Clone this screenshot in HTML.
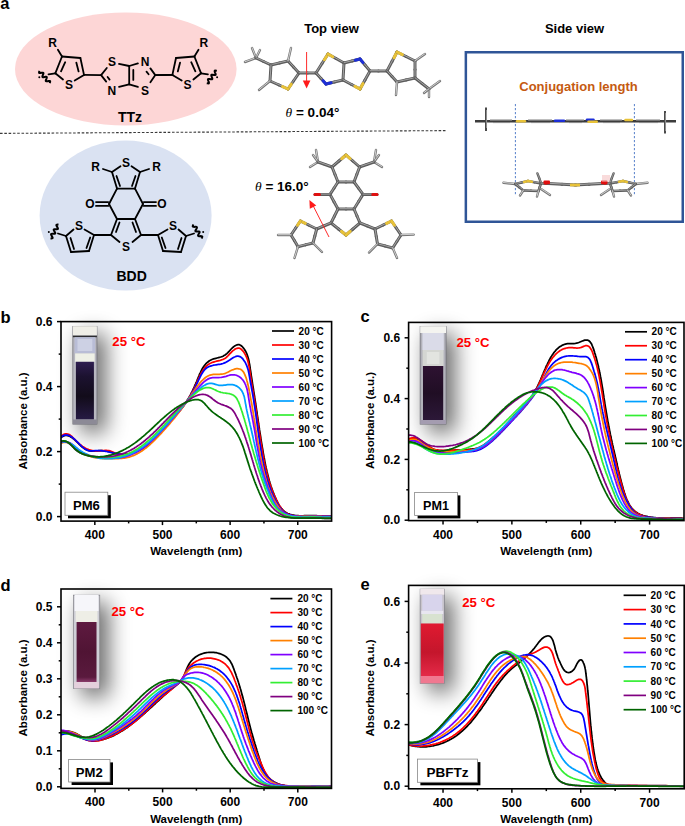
<!DOCTYPE html>
<html><head><meta charset="utf-8"><style>
html,body{margin:0;padding:0;background:#fff;}
svg{display:block;}
text{font-family:"Liberation Sans",sans-serif;font-weight:bold;}
</style></head><body>
<svg width="685" height="826" viewBox="0 0 685 826">
<defs>
<filter id="shad" filterUnits="userSpaceOnUse" x="0" y="280" width="685" height="546"><feGaussianBlur stdDeviation="11"/></filter>
<filter id="blur1" x="-20%" y="-20%" width="140%" height="140%"><feGaussianBlur stdDeviation="0.6"/></filter>
<linearGradient id="liqB" x1="0" y1="0" x2="0" y2="1"><stop offset="0" stop-color="#2e1e50"/><stop offset="0.25" stop-color="#1c1230"/><stop offset="0.6" stop-color="#120c1a"/><stop offset="1" stop-color="#261a44"/></linearGradient>
<linearGradient id="liqC" x1="0" y1="0" x2="0" y2="1"><stop offset="0" stop-color="#2e1232"/><stop offset="0.5" stop-color="#200e24"/><stop offset="1" stop-color="#2c1838"/></linearGradient>
<linearGradient id="liqD" x1="0" y1="0" x2="0" y2="1"><stop offset="0" stop-color="#5e1a40"/><stop offset="0.5" stop-color="#501434"/><stop offset="0.92" stop-color="#5a1a3e"/><stop offset="1" stop-color="#8a3a6a"/></linearGradient>
<linearGradient id="liqE" x1="0" y1="0" x2="0" y2="1"><stop offset="0" stop-color="#e01a30"/><stop offset="0.55" stop-color="#c4162c"/><stop offset="1" stop-color="#e42a48"/></linearGradient>
</defs>
<text x="0.30" y="8.90" font-size="16.50" text-anchor="start" fill="#000" font-weight="bold" font-family="Liberation Sans">a</text>
<ellipse cx="125.8" cy="69" rx="110.8" ry="56.6" fill="#fdd6d6"/>
<ellipse cx="125.6" cy="215.6" rx="86" ry="75" fill="#dae2f2"/>
<line x1="0" y1="133.4" x2="447" y2="130.6" stroke="#3a3a3a" stroke-width="1.1" stroke-dasharray="2.6,1.7"/>
<line x1="55.30" y1="73.30" x2="62.00" y2="56.50" stroke="#000" stroke-width="1.80" stroke-linecap="round"/>
<line x1="62.00" y1="56.50" x2="80.40" y2="58.00" stroke="#000" stroke-width="1.80" stroke-linecap="round"/>
<line x1="80.40" y1="58.00" x2="84.00" y2="74.90" stroke="#000" stroke-width="1.80" stroke-linecap="round"/>
<line x1="84.00" y1="74.90" x2="74.70" y2="80.50" stroke="#000" stroke-width="1.80" stroke-linecap="round"/>
<line x1="63.00" y1="79.50" x2="55.30" y2="73.30" stroke="#000" stroke-width="1.80" stroke-linecap="round"/>
<line x1="61.00" y1="71.30" x2="65.20" y2="62.20" stroke="#000" stroke-width="1.80" stroke-linecap="round"/>
<line x1="76.30" y1="62.60" x2="78.60" y2="71.40" stroke="#000" stroke-width="1.80" stroke-linecap="round"/>
<line x1="57.90" y1="49.80" x2="62.00" y2="56.50" stroke="#000" stroke-width="1.80" stroke-linecap="round"/>
<text x="52.60" y="46.62" font-size="12.00" text-anchor="middle" fill="#000" font-weight="bold" font-family="Liberation Sans">R</text>
<text x="68.90" y="88.92" font-size="12.00" text-anchor="middle" fill="#000" font-weight="bold" font-family="Liberation Sans">S</text>
<line x1="55.30" y1="73.30" x2="48.50" y2="74.40" stroke="#000" stroke-width="1.80" stroke-linecap="round"/>
<line x1="84.00" y1="74.90" x2="101.10" y2="75.10" stroke="#000" stroke-width="1.80" stroke-linecap="round"/>
<line x1="201.10" y1="73.30" x2="194.40" y2="56.50" stroke="#000" stroke-width="1.80" stroke-linecap="round"/>
<line x1="194.40" y1="56.50" x2="176.00" y2="58.00" stroke="#000" stroke-width="1.80" stroke-linecap="round"/>
<line x1="176.00" y1="58.00" x2="172.40" y2="74.90" stroke="#000" stroke-width="1.80" stroke-linecap="round"/>
<line x1="172.40" y1="74.90" x2="181.70" y2="80.50" stroke="#000" stroke-width="1.80" stroke-linecap="round"/>
<line x1="193.40" y1="79.50" x2="201.10" y2="73.30" stroke="#000" stroke-width="1.80" stroke-linecap="round"/>
<line x1="195.40" y1="71.30" x2="191.20" y2="62.20" stroke="#000" stroke-width="1.80" stroke-linecap="round"/>
<line x1="180.10" y1="62.60" x2="177.80" y2="71.40" stroke="#000" stroke-width="1.80" stroke-linecap="round"/>
<line x1="198.50" y1="49.80" x2="194.40" y2="56.50" stroke="#000" stroke-width="1.80" stroke-linecap="round"/>
<text x="203.80" y="46.62" font-size="12.00" text-anchor="middle" fill="#000" font-weight="bold" font-family="Liberation Sans">R</text>
<text x="187.50" y="88.92" font-size="12.00" text-anchor="middle" fill="#000" font-weight="bold" font-family="Liberation Sans">S</text>
<line x1="201.10" y1="73.30" x2="207.90" y2="74.40" stroke="#000" stroke-width="1.80" stroke-linecap="round"/>
<line x1="172.40" y1="74.90" x2="155.30" y2="75.10" stroke="#000" stroke-width="1.80" stroke-linecap="round"/>
<path d="M39.57,70.78 L39.25,71.55 L39.06,72.22 L39.09,72.71 L39.39,72.98 L39.94,73.05 L40.69,72.96 L41.52,72.80 L42.31,72.68 L42.94,72.68 L43.33,72.88 L43.44,73.31 L43.32,73.92 L43.03,74.67 L42.71,75.45 L42.46,76.16 L42.41,76.71 L42.62,77.06 L43.09,77.19 L43.78,77.15 L44.60,77.00 L45.42,76.85 L46.11,76.81 L46.58,76.94 L46.79,77.29 L46.74,77.84 L46.49,78.55 L46.17,79.33 L45.88,80.08 L45.76,80.69 L45.87,81.12 L46.26,81.32 L46.89,81.32 L47.68,81.20 L48.51,81.04 L49.26,80.95 L49.81,81.02 L50.11,81.29 L50.14,81.78 L49.95,82.45 L49.63,83.22" fill="none" stroke="#000" stroke-width="2.0"/>
<path d="M216.83,70.78 L216.02,70.64 L215.33,70.59 L214.85,70.72 L214.65,71.07 L214.70,71.63 L214.94,72.34 L215.27,73.12 L215.55,73.86 L215.68,74.48 L215.56,74.90 L215.17,75.10 L214.54,75.10 L213.76,74.98 L212.93,74.82 L212.18,74.73 L211.62,74.80 L211.33,75.07 L211.30,75.56 L211.49,76.23 L211.80,77.00 L212.11,77.77 L212.30,78.44 L212.27,78.93 L211.98,79.20 L211.42,79.27 L210.67,79.18 L209.84,79.02 L209.06,78.90 L208.43,78.90 L208.04,79.10 L207.92,79.52 L208.05,80.14 L208.33,80.88 L208.66,81.66 L208.90,82.37 L208.95,82.93 L208.75,83.28 L208.27,83.41 L207.58,83.36 L206.77,83.22" fill="none" stroke="#000" stroke-width="2.0"/>
<circle cx="39.3" cy="77.3" r="1"/>
<circle cx="217.1" cy="77.3" r="1"/>
<line x1="101.10" y1="75.10" x2="106.80" y2="68.00" stroke="#000" stroke-width="1.80" stroke-linecap="round"/>
<line x1="101.10" y1="75.10" x2="106.20" y2="81.60" stroke="#000" stroke-width="1.80" stroke-linecap="round"/>
<line x1="107.60" y1="77.00" x2="109.60" y2="79.60" stroke="#000" stroke-width="1.80" stroke-linecap="round"/>
<line x1="119.00" y1="63.90" x2="129.20" y2="66.00" stroke="#000" stroke-width="1.80" stroke-linecap="round"/>
<line x1="119.00" y1="86.90" x2="129.20" y2="84.30" stroke="#000" stroke-width="1.80" stroke-linecap="round"/>
<line x1="129.20" y1="66.00" x2="129.20" y2="84.30" stroke="#000" stroke-width="1.80" stroke-linecap="round"/>
<line x1="133.30" y1="70.00" x2="133.30" y2="79.90" stroke="#000" stroke-width="1.80" stroke-linecap="round"/>
<line x1="129.20" y1="66.00" x2="137.90" y2="63.40" stroke="#000" stroke-width="1.80" stroke-linecap="round"/>
<line x1="129.20" y1="84.30" x2="137.90" y2="86.90" stroke="#000" stroke-width="1.80" stroke-linecap="round"/>
<line x1="150.40" y1="68.40" x2="155.30" y2="75.10" stroke="#000" stroke-width="1.80" stroke-linecap="round"/>
<line x1="150.40" y1="82.20" x2="155.30" y2="75.10" stroke="#000" stroke-width="1.80" stroke-linecap="round"/>
<line x1="146.50" y1="71.60" x2="148.60" y2="74.20" stroke="#000" stroke-width="1.80" stroke-linecap="round"/>
<line x1="155.30" y1="75.10" x2="172.40" y2="74.90" stroke="#000" stroke-width="1.80" stroke-linecap="round"/>
<text x="111.90" y="66.22" font-size="12.00" text-anchor="middle" fill="#000" font-weight="bold" font-family="Liberation Sans">S</text>
<text x="111.90" y="94.52" font-size="12.00" text-anchor="middle" fill="#000" font-weight="bold" font-family="Liberation Sans">N</text>
<text x="145.10" y="65.92" font-size="12.00" text-anchor="middle" fill="#000" font-weight="bold" font-family="Liberation Sans">N</text>
<text x="145.10" y="94.52" font-size="12.00" text-anchor="middle" fill="#000" font-weight="bold" font-family="Liberation Sans">S</text>
<text x="130.00" y="121.80" font-size="14.00" text-anchor="middle" fill="#000" font-weight="bold" font-family="Liberation Sans">TTz</text>
<line x1="112.00" y1="172.00" x2="120.50" y2="166.20" stroke="#000" stroke-width="1.80" stroke-linecap="round"/>
<line x1="112.00" y1="172.00" x2="117.00" y2="188.60" stroke="#000" stroke-width="1.80" stroke-linecap="round"/>
<line x1="116.50" y1="176.00" x2="120.00" y2="186.00" stroke="#000" stroke-width="1.80" stroke-linecap="round"/>
<line x1="112.00" y1="172.00" x2="103.00" y2="169.00" stroke="#000" stroke-width="1.80" stroke-linecap="round"/>
<text x="95.50" y="171.32" font-size="12.00" text-anchor="middle" fill="#000" font-weight="bold" font-family="Liberation Sans">R</text>
<line x1="117.00" y1="188.60" x2="109.00" y2="204.00" stroke="#000" stroke-width="1.80" stroke-linecap="round"/>
<line x1="109.00" y1="204.00" x2="117.00" y2="219.00" stroke="#000" stroke-width="1.80" stroke-linecap="round"/>
<line x1="108.20" y1="202.10" x2="96.00" y2="202.10" stroke="#000" stroke-width="1.80" stroke-linecap="round"/>
<line x1="108.20" y1="205.90" x2="96.00" y2="205.90" stroke="#000" stroke-width="1.80" stroke-linecap="round"/>
<text x="90.00" y="208.32" font-size="12.00" text-anchor="middle" fill="#000" font-weight="bold" font-family="Liberation Sans">O</text>
<line x1="117.00" y1="219.00" x2="111.00" y2="235.00" stroke="#000" stroke-width="1.80" stroke-linecap="round"/>
<line x1="119.50" y1="222.50" x2="116.00" y2="232.00" stroke="#000" stroke-width="1.80" stroke-linecap="round"/>
<line x1="111.00" y1="235.00" x2="119.50" y2="242.00" stroke="#000" stroke-width="1.80" stroke-linecap="round"/>
<line x1="111.00" y1="235.00" x2="94.00" y2="235.00" stroke="#000" stroke-width="1.80" stroke-linecap="round"/>
<line x1="94.00" y1="235.00" x2="84.50" y2="229.50" stroke="#000" stroke-width="1.80" stroke-linecap="round"/>
<line x1="73.50" y1="229.50" x2="66.00" y2="236.00" stroke="#000" stroke-width="1.80" stroke-linecap="round"/>
<line x1="66.00" y1="236.00" x2="71.00" y2="252.00" stroke="#000" stroke-width="1.80" stroke-linecap="round"/>
<line x1="71.00" y1="252.00" x2="89.00" y2="251.00" stroke="#000" stroke-width="1.80" stroke-linecap="round"/>
<line x1="89.00" y1="251.00" x2="94.00" y2="235.00" stroke="#000" stroke-width="1.80" stroke-linecap="round"/>
<line x1="70.50" y1="238.00" x2="74.00" y2="249.00" stroke="#000" stroke-width="1.80" stroke-linecap="round"/>
<line x1="86.50" y1="248.00" x2="90.20" y2="237.50" stroke="#000" stroke-width="1.80" stroke-linecap="round"/>
<line x1="66.00" y1="236.00" x2="58.00" y2="233.50" stroke="#000" stroke-width="1.80" stroke-linecap="round"/>
<text x="79.00" y="230.32" font-size="12.00" text-anchor="middle" fill="#000" font-weight="bold" font-family="Liberation Sans">S</text>
<line x1="140.00" y1="172.00" x2="131.50" y2="166.20" stroke="#000" stroke-width="1.80" stroke-linecap="round"/>
<line x1="140.00" y1="172.00" x2="135.00" y2="188.60" stroke="#000" stroke-width="1.80" stroke-linecap="round"/>
<line x1="135.50" y1="176.00" x2="132.00" y2="186.00" stroke="#000" stroke-width="1.80" stroke-linecap="round"/>
<line x1="140.00" y1="172.00" x2="149.00" y2="169.00" stroke="#000" stroke-width="1.80" stroke-linecap="round"/>
<text x="156.50" y="171.32" font-size="12.00" text-anchor="middle" fill="#000" font-weight="bold" font-family="Liberation Sans">R</text>
<line x1="135.00" y1="188.60" x2="143.00" y2="204.00" stroke="#000" stroke-width="1.80" stroke-linecap="round"/>
<line x1="143.00" y1="204.00" x2="135.00" y2="219.00" stroke="#000" stroke-width="1.80" stroke-linecap="round"/>
<line x1="143.80" y1="202.10" x2="156.00" y2="202.10" stroke="#000" stroke-width="1.80" stroke-linecap="round"/>
<line x1="143.80" y1="205.90" x2="156.00" y2="205.90" stroke="#000" stroke-width="1.80" stroke-linecap="round"/>
<text x="162.00" y="208.32" font-size="12.00" text-anchor="middle" fill="#000" font-weight="bold" font-family="Liberation Sans">O</text>
<line x1="135.00" y1="219.00" x2="141.00" y2="235.00" stroke="#000" stroke-width="1.80" stroke-linecap="round"/>
<line x1="132.50" y1="222.50" x2="136.00" y2="232.00" stroke="#000" stroke-width="1.80" stroke-linecap="round"/>
<line x1="141.00" y1="235.00" x2="132.50" y2="242.00" stroke="#000" stroke-width="1.80" stroke-linecap="round"/>
<line x1="141.00" y1="235.00" x2="158.00" y2="235.00" stroke="#000" stroke-width="1.80" stroke-linecap="round"/>
<line x1="158.00" y1="235.00" x2="167.50" y2="229.50" stroke="#000" stroke-width="1.80" stroke-linecap="round"/>
<line x1="178.50" y1="229.50" x2="186.00" y2="236.00" stroke="#000" stroke-width="1.80" stroke-linecap="round"/>
<line x1="186.00" y1="236.00" x2="181.00" y2="252.00" stroke="#000" stroke-width="1.80" stroke-linecap="round"/>
<line x1="181.00" y1="252.00" x2="163.00" y2="251.00" stroke="#000" stroke-width="1.80" stroke-linecap="round"/>
<line x1="163.00" y1="251.00" x2="158.00" y2="235.00" stroke="#000" stroke-width="1.80" stroke-linecap="round"/>
<line x1="181.50" y1="238.00" x2="178.00" y2="249.00" stroke="#000" stroke-width="1.80" stroke-linecap="round"/>
<line x1="165.50" y1="248.00" x2="161.80" y2="237.50" stroke="#000" stroke-width="1.80" stroke-linecap="round"/>
<line x1="186.00" y1="236.00" x2="194.00" y2="233.50" stroke="#000" stroke-width="1.80" stroke-linecap="round"/>
<text x="173.00" y="230.32" font-size="12.00" text-anchor="middle" fill="#000" font-weight="bold" font-family="Liberation Sans">S</text>
<line x1="117.00" y1="188.60" x2="135.00" y2="188.60" stroke="#000" stroke-width="1.80" stroke-linecap="round"/>
<line x1="117.00" y1="219.00" x2="135.00" y2="219.00" stroke="#000" stroke-width="1.80" stroke-linecap="round"/>
<text x="126.00" y="166.72" font-size="12.00" text-anchor="middle" fill="#000" font-weight="bold" font-family="Liberation Sans">S</text>
<text x="126.00" y="250.82" font-size="12.00" text-anchor="middle" fill="#000" font-weight="bold" font-family="Liberation Sans">S</text>
<path d="M50.50,238.43 L51.33,238.44 L52.02,238.38 L52.47,238.18 L52.62,237.80 L52.48,237.26 L52.13,236.60 L51.68,235.88 L51.29,235.19 L51.07,234.60 L51.11,234.16 L51.47,233.90 L52.09,233.80 L52.88,233.80 L53.73,233.83 L54.48,233.80 L55.02,233.65 L55.27,233.33 L55.22,232.84 L54.93,232.21 L54.50,231.50 L54.07,230.79 L53.78,230.16 L53.73,229.67 L53.98,229.35 L54.52,229.20 L55.27,229.17 L56.12,229.20 L56.91,229.20 L57.53,229.10 L57.89,228.84 L57.93,228.40 L57.71,227.81 L57.32,227.12 L56.87,226.40 L56.52,225.74 L56.38,225.20 L56.53,224.82 L56.98,224.62 L57.67,224.56 L58.50,224.57" fill="none" stroke="#000" stroke-width="2.0"/>
<path d="M201.50,238.43 L201.93,237.72 L202.22,237.09 L202.27,236.60 L202.02,236.28 L201.48,236.13 L200.73,236.10 L199.88,236.13 L199.09,236.13 L198.47,236.02 L198.11,235.76 L198.07,235.33 L198.29,234.74 L198.68,234.05 L199.13,233.33 L199.48,232.67 L199.62,232.12 L199.47,231.75 L199.02,231.55 L198.33,231.48 L197.50,231.50 L196.67,231.52 L195.98,231.45 L195.53,231.25 L195.38,230.88 L195.52,230.33 L195.87,229.67 L196.32,228.95 L196.71,228.26 L196.93,227.67 L196.89,227.24 L196.53,226.98 L195.91,226.87 L195.12,226.87 L194.27,226.90 L193.52,226.87 L192.98,226.72 L192.73,226.40 L192.78,225.91 L193.07,225.28 L193.50,224.57" fill="none" stroke="#000" stroke-width="2.0"/>
<circle cx="48.8" cy="232" r="1"/>
<circle cx="203.2" cy="232" r="1"/>
<text x="131.60" y="281.00" font-size="14.00" text-anchor="middle" fill="#000" font-weight="bold" font-family="Liberation Sans">BDD</text>
<text x="331.50" y="33.00" font-size="13.00" text-anchor="middle" fill="#000" font-weight="bold" font-family="Liberation Sans">Top view</text>
<text x="574.50" y="33.00" font-size="13.00" text-anchor="middle" fill="#000" font-weight="bold" font-family="Liberation Sans">Side view</text>
<text x="285.60" y="117.00" font-size="13.5"><tspan font-family="Liberation Serif" font-style="italic" font-weight="normal">θ</tspan><tspan font-family="Liberation Sans" font-weight="bold"> = 0.04°</tspan></text>
<text x="255.00" y="191.40" font-size="13.5"><tspan font-family="Liberation Serif" font-style="italic" font-weight="normal">θ</tspan><tspan font-family="Liberation Sans" font-weight="bold"> = 16.0°</tspan></text>
<line x1="256.00" y1="58.00" x2="245.00" y2="62.00" stroke="#767676" stroke-width="2.4" stroke-linecap="round"/>
<line x1="256.00" y1="57.70" x2="245.00" y2="61.70" stroke="#d8d8d8" stroke-width="0.9" stroke-linecap="round"/>
<line x1="256.00" y1="58.00" x2="252.00" y2="48.00" stroke="#767676" stroke-width="2.4" stroke-linecap="round"/>
<line x1="256.00" y1="57.70" x2="252.00" y2="47.70" stroke="#d8d8d8" stroke-width="0.9" stroke-linecap="round"/>
<line x1="256.00" y1="58.00" x2="260.00" y2="50.00" stroke="#767676" stroke-width="2.4" stroke-linecap="round"/>
<line x1="256.00" y1="57.70" x2="260.00" y2="49.70" stroke="#d8d8d8" stroke-width="0.9" stroke-linecap="round"/>
<line x1="271.00" y1="65.00" x2="263.50" y2="61.50" stroke="#5c5c5c" stroke-width="3.00" stroke-linecap="round"/>
<line x1="263.50" y1="61.50" x2="256.00" y2="58.00" stroke="#5c5c5c" stroke-width="3.00" stroke-linecap="round"/>
<line x1="271.00" y1="64.70" x2="256.00" y2="57.70" stroke="#b0b0b0" stroke-width="0.96" stroke-linecap="round" opacity="0.9"/>
<line x1="271.00" y1="65.00" x2="279.50" y2="63.00" stroke="#5c5c5c" stroke-width="3.00" stroke-linecap="round"/>
<line x1="279.50" y1="63.00" x2="288.00" y2="61.00" stroke="#5c5c5c" stroke-width="3.00" stroke-linecap="round"/>
<line x1="271.00" y1="64.70" x2="288.00" y2="60.70" stroke="#b0b0b0" stroke-width="0.96" stroke-linecap="round" opacity="0.9"/>
<line x1="288.00" y1="61.00" x2="293.50" y2="67.00" stroke="#5c5c5c" stroke-width="3.00" stroke-linecap="round"/>
<line x1="293.50" y1="67.00" x2="299.00" y2="73.00" stroke="#5c5c5c" stroke-width="3.00" stroke-linecap="round"/>
<line x1="288.00" y1="60.70" x2="299.00" y2="72.70" stroke="#b0b0b0" stroke-width="0.96" stroke-linecap="round" opacity="0.9"/>
<line x1="299.00" y1="73.00" x2="293.50" y2="81.00" stroke="#5c5c5c" stroke-width="3.00" stroke-linecap="round"/>
<line x1="293.50" y1="81.00" x2="288.00" y2="89.00" stroke="#5c5c5c" stroke-width="3.00" stroke-linecap="round"/>
<line x1="299.00" y1="72.70" x2="288.00" y2="88.70" stroke="#b0b0b0" stroke-width="0.96" stroke-linecap="round" opacity="0.9"/>
<line x1="288.00" y1="89.00" x2="291.30" y2="84.20" stroke="#e8c238" stroke-width="3.00" stroke-linecap="round"/>
<line x1="288.00" y1="89.00" x2="279.00" y2="85.00" stroke="#5c5c5c" stroke-width="3.00" stroke-linecap="round"/>
<line x1="279.00" y1="85.00" x2="270.00" y2="81.00" stroke="#5c5c5c" stroke-width="3.00" stroke-linecap="round"/>
<line x1="288.00" y1="88.70" x2="270.00" y2="80.70" stroke="#b0b0b0" stroke-width="0.96" stroke-linecap="round" opacity="0.9"/>
<line x1="288.00" y1="89.00" x2="282.60" y2="86.60" stroke="#e8c238" stroke-width="3.00" stroke-linecap="round"/>
<line x1="270.00" y1="81.00" x2="270.50" y2="73.00" stroke="#5c5c5c" stroke-width="3.00" stroke-linecap="round"/>
<line x1="270.50" y1="73.00" x2="271.00" y2="65.00" stroke="#5c5c5c" stroke-width="3.00" stroke-linecap="round"/>
<line x1="270.00" y1="80.70" x2="271.00" y2="64.70" stroke="#b0b0b0" stroke-width="0.96" stroke-linecap="round" opacity="0.9"/>
<line x1="288.00" y1="61.00" x2="291.00" y2="48.00" stroke="#767676" stroke-width="2.4" stroke-linecap="round"/>
<line x1="288.00" y1="60.70" x2="291.00" y2="47.70" stroke="#d8d8d8" stroke-width="0.9" stroke-linecap="round"/>
<line x1="270.00" y1="81.00" x2="259.00" y2="90.00" stroke="#767676" stroke-width="2.4" stroke-linecap="round"/>
<line x1="270.00" y1="80.70" x2="259.00" y2="89.70" stroke="#d8d8d8" stroke-width="0.9" stroke-linecap="round"/>
<line x1="299.00" y1="73.00" x2="307.50" y2="73.00" stroke="#5c5c5c" stroke-width="3.00" stroke-linecap="round"/>
<line x1="307.50" y1="73.00" x2="316.00" y2="73.00" stroke="#5c5c5c" stroke-width="3.00" stroke-linecap="round"/>
<line x1="299.00" y1="72.70" x2="316.00" y2="72.70" stroke="#b0b0b0" stroke-width="0.96" stroke-linecap="round" opacity="0.9"/>
<line x1="316.00" y1="73.00" x2="322.00" y2="63.50" stroke="#5c5c5c" stroke-width="3.00" stroke-linecap="round"/>
<line x1="322.00" y1="63.50" x2="328.00" y2="54.00" stroke="#5c5c5c" stroke-width="3.00" stroke-linecap="round"/>
<line x1="316.00" y1="72.70" x2="328.00" y2="53.70" stroke="#b0b0b0" stroke-width="0.96" stroke-linecap="round" opacity="0.9"/>
<line x1="328.00" y1="54.00" x2="324.40" y2="59.70" stroke="#e8c238" stroke-width="3.00" stroke-linecap="round"/>
<line x1="328.00" y1="54.00" x2="336.00" y2="58.50" stroke="#5c5c5c" stroke-width="3.00" stroke-linecap="round"/>
<line x1="336.00" y1="58.50" x2="344.00" y2="63.00" stroke="#5c5c5c" stroke-width="3.00" stroke-linecap="round"/>
<line x1="328.00" y1="53.70" x2="344.00" y2="62.70" stroke="#b0b0b0" stroke-width="0.96" stroke-linecap="round" opacity="0.9"/>
<line x1="328.00" y1="54.00" x2="332.80" y2="56.70" stroke="#e8c238" stroke-width="3.00" stroke-linecap="round"/>
<line x1="344.00" y1="63.00" x2="343.50" y2="71.50" stroke="#5c5c5c" stroke-width="3.00" stroke-linecap="round"/>
<line x1="343.50" y1="71.50" x2="343.00" y2="80.00" stroke="#5c5c5c" stroke-width="3.00" stroke-linecap="round"/>
<line x1="344.00" y1="62.70" x2="343.00" y2="79.70" stroke="#b0b0b0" stroke-width="0.96" stroke-linecap="round" opacity="0.9"/>
<line x1="343.00" y1="80.00" x2="334.50" y2="82.00" stroke="#5c5c5c" stroke-width="3.00" stroke-linecap="round"/>
<line x1="334.50" y1="82.00" x2="326.00" y2="84.00" stroke="#5c5c5c" stroke-width="3.00" stroke-linecap="round"/>
<line x1="343.00" y1="79.70" x2="326.00" y2="83.70" stroke="#b0b0b0" stroke-width="0.96" stroke-linecap="round" opacity="0.9"/>
<line x1="326.00" y1="84.00" x2="331.10" y2="82.80" stroke="#1c2ed8" stroke-width="3.00" stroke-linecap="round"/>
<line x1="326.00" y1="84.00" x2="321.00" y2="78.50" stroke="#5c5c5c" stroke-width="3.00" stroke-linecap="round"/>
<line x1="321.00" y1="78.50" x2="316.00" y2="73.00" stroke="#5c5c5c" stroke-width="3.00" stroke-linecap="round"/>
<line x1="326.00" y1="83.70" x2="316.00" y2="72.70" stroke="#b0b0b0" stroke-width="0.96" stroke-linecap="round" opacity="0.9"/>
<line x1="326.00" y1="84.00" x2="323.00" y2="80.70" stroke="#1c2ed8" stroke-width="3.00" stroke-linecap="round"/>
<line x1="344.00" y1="63.00" x2="352.00" y2="61.00" stroke="#5c5c5c" stroke-width="3.00" stroke-linecap="round"/>
<line x1="352.00" y1="61.00" x2="360.00" y2="59.00" stroke="#5c5c5c" stroke-width="3.00" stroke-linecap="round"/>
<line x1="344.00" y1="62.70" x2="360.00" y2="58.70" stroke="#b0b0b0" stroke-width="0.96" stroke-linecap="round" opacity="0.9"/>
<line x1="360.00" y1="59.00" x2="355.20" y2="60.20" stroke="#1c2ed8" stroke-width="3.00" stroke-linecap="round"/>
<line x1="360.00" y1="59.00" x2="365.00" y2="65.00" stroke="#5c5c5c" stroke-width="3.00" stroke-linecap="round"/>
<line x1="365.00" y1="65.00" x2="370.00" y2="71.00" stroke="#5c5c5c" stroke-width="3.00" stroke-linecap="round"/>
<line x1="360.00" y1="58.70" x2="370.00" y2="70.70" stroke="#b0b0b0" stroke-width="0.96" stroke-linecap="round" opacity="0.9"/>
<line x1="360.00" y1="59.00" x2="363.00" y2="62.60" stroke="#1c2ed8" stroke-width="3.00" stroke-linecap="round"/>
<line x1="370.00" y1="71.00" x2="365.00" y2="80.00" stroke="#5c5c5c" stroke-width="3.00" stroke-linecap="round"/>
<line x1="365.00" y1="80.00" x2="360.00" y2="89.00" stroke="#5c5c5c" stroke-width="3.00" stroke-linecap="round"/>
<line x1="370.00" y1="70.70" x2="360.00" y2="88.70" stroke="#b0b0b0" stroke-width="0.96" stroke-linecap="round" opacity="0.9"/>
<line x1="360.00" y1="89.00" x2="363.00" y2="83.60" stroke="#e8c238" stroke-width="3.00" stroke-linecap="round"/>
<line x1="360.00" y1="89.00" x2="351.50" y2="84.50" stroke="#5c5c5c" stroke-width="3.00" stroke-linecap="round"/>
<line x1="351.50" y1="84.50" x2="343.00" y2="80.00" stroke="#5c5c5c" stroke-width="3.00" stroke-linecap="round"/>
<line x1="360.00" y1="88.70" x2="343.00" y2="79.70" stroke="#b0b0b0" stroke-width="0.96" stroke-linecap="round" opacity="0.9"/>
<line x1="360.00" y1="89.00" x2="354.90" y2="86.30" stroke="#e8c238" stroke-width="3.00" stroke-linecap="round"/>
<line x1="370.00" y1="71.00" x2="378.50" y2="71.00" stroke="#5c5c5c" stroke-width="3.00" stroke-linecap="round"/>
<line x1="378.50" y1="71.00" x2="387.00" y2="71.00" stroke="#5c5c5c" stroke-width="3.00" stroke-linecap="round"/>
<line x1="370.00" y1="70.70" x2="387.00" y2="70.70" stroke="#b0b0b0" stroke-width="0.96" stroke-linecap="round" opacity="0.9"/>
<line x1="387.00" y1="71.00" x2="392.00" y2="61.50" stroke="#5c5c5c" stroke-width="3.00" stroke-linecap="round"/>
<line x1="392.00" y1="61.50" x2="397.00" y2="52.00" stroke="#5c5c5c" stroke-width="3.00" stroke-linecap="round"/>
<line x1="387.00" y1="70.70" x2="397.00" y2="51.70" stroke="#b0b0b0" stroke-width="0.96" stroke-linecap="round" opacity="0.9"/>
<line x1="397.00" y1="52.00" x2="394.00" y2="57.70" stroke="#e8c238" stroke-width="3.00" stroke-linecap="round"/>
<line x1="397.00" y1="52.00" x2="406.00" y2="56.50" stroke="#5c5c5c" stroke-width="3.00" stroke-linecap="round"/>
<line x1="406.00" y1="56.50" x2="415.00" y2="61.00" stroke="#5c5c5c" stroke-width="3.00" stroke-linecap="round"/>
<line x1="397.00" y1="51.70" x2="415.00" y2="60.70" stroke="#b0b0b0" stroke-width="0.96" stroke-linecap="round" opacity="0.9"/>
<line x1="397.00" y1="52.00" x2="402.40" y2="54.70" stroke="#e8c238" stroke-width="3.00" stroke-linecap="round"/>
<line x1="415.00" y1="61.00" x2="415.00" y2="69.50" stroke="#5c5c5c" stroke-width="3.00" stroke-linecap="round"/>
<line x1="415.00" y1="69.50" x2="415.00" y2="78.00" stroke="#5c5c5c" stroke-width="3.00" stroke-linecap="round"/>
<line x1="415.00" y1="60.70" x2="415.00" y2="77.70" stroke="#b0b0b0" stroke-width="0.96" stroke-linecap="round" opacity="0.9"/>
<line x1="415.00" y1="78.00" x2="406.00" y2="80.00" stroke="#5c5c5c" stroke-width="3.00" stroke-linecap="round"/>
<line x1="406.00" y1="80.00" x2="397.00" y2="82.00" stroke="#5c5c5c" stroke-width="3.00" stroke-linecap="round"/>
<line x1="415.00" y1="77.70" x2="397.00" y2="81.70" stroke="#b0b0b0" stroke-width="0.96" stroke-linecap="round" opacity="0.9"/>
<line x1="397.00" y1="82.00" x2="392.00" y2="76.50" stroke="#5c5c5c" stroke-width="3.00" stroke-linecap="round"/>
<line x1="392.00" y1="76.50" x2="387.00" y2="71.00" stroke="#5c5c5c" stroke-width="3.00" stroke-linecap="round"/>
<line x1="397.00" y1="81.70" x2="387.00" y2="70.70" stroke="#b0b0b0" stroke-width="0.96" stroke-linecap="round" opacity="0.9"/>
<line x1="415.00" y1="61.00" x2="425.00" y2="54.00" stroke="#767676" stroke-width="2.4" stroke-linecap="round"/>
<line x1="415.00" y1="60.70" x2="425.00" y2="53.70" stroke="#d8d8d8" stroke-width="0.9" stroke-linecap="round"/>
<line x1="397.00" y1="82.00" x2="396.00" y2="95.00" stroke="#767676" stroke-width="2.4" stroke-linecap="round"/>
<line x1="397.00" y1="81.70" x2="396.00" y2="94.70" stroke="#d8d8d8" stroke-width="0.9" stroke-linecap="round"/>
<line x1="415.00" y1="78.00" x2="422.00" y2="83.50" stroke="#5c5c5c" stroke-width="3.00" stroke-linecap="round"/>
<line x1="422.00" y1="83.50" x2="429.00" y2="89.00" stroke="#5c5c5c" stroke-width="3.00" stroke-linecap="round"/>
<line x1="415.00" y1="77.70" x2="429.00" y2="88.70" stroke="#b0b0b0" stroke-width="0.96" stroke-linecap="round" opacity="0.9"/>
<line x1="429.00" y1="89.00" x2="440.00" y2="81.00" stroke="#767676" stroke-width="2.4" stroke-linecap="round"/>
<line x1="429.00" y1="88.70" x2="440.00" y2="80.70" stroke="#d8d8d8" stroke-width="0.9" stroke-linecap="round"/>
<line x1="429.00" y1="89.00" x2="429.00" y2="97.00" stroke="#767676" stroke-width="2.4" stroke-linecap="round"/>
<line x1="429.00" y1="88.70" x2="429.00" y2="96.70" stroke="#d8d8d8" stroke-width="0.9" stroke-linecap="round"/>
<line x1="429.00" y1="89.00" x2="424.00" y2="93.00" stroke="#767676" stroke-width="2.4" stroke-linecap="round"/>
<line x1="429.00" y1="88.70" x2="424.00" y2="92.70" stroke="#d8d8d8" stroke-width="0.9" stroke-linecap="round"/>
<line x1="306.60" y1="52.00" x2="306.60" y2="82.00" stroke="#ff2a2a" stroke-width="1.00" />
<polygon points="302.8,80.5 310.4,80.5 306.6,88.5" fill="#ff1a1a"/>
<line x1="318.00" y1="162.00" x2="316.00" y2="150.00" stroke="#767676" stroke-width="2.4" stroke-linecap="round"/>
<line x1="318.00" y1="161.70" x2="316.00" y2="149.70" stroke="#d8d8d8" stroke-width="0.9" stroke-linecap="round"/>
<line x1="318.00" y1="162.00" x2="310.00" y2="167.00" stroke="#767676" stroke-width="2.4" stroke-linecap="round"/>
<line x1="318.00" y1="161.70" x2="310.00" y2="166.70" stroke="#d8d8d8" stroke-width="0.9" stroke-linecap="round"/>
<line x1="318.00" y1="162.00" x2="313.00" y2="155.00" stroke="#767676" stroke-width="2.4" stroke-linecap="round"/>
<line x1="318.00" y1="161.70" x2="313.00" y2="154.70" stroke="#d8d8d8" stroke-width="0.9" stroke-linecap="round"/>
<line x1="374.00" y1="162.00" x2="376.00" y2="150.00" stroke="#767676" stroke-width="2.4" stroke-linecap="round"/>
<line x1="374.00" y1="161.70" x2="376.00" y2="149.70" stroke="#d8d8d8" stroke-width="0.9" stroke-linecap="round"/>
<line x1="374.00" y1="162.00" x2="382.00" y2="167.00" stroke="#767676" stroke-width="2.4" stroke-linecap="round"/>
<line x1="374.00" y1="161.70" x2="382.00" y2="166.70" stroke="#d8d8d8" stroke-width="0.9" stroke-linecap="round"/>
<line x1="374.00" y1="162.00" x2="379.00" y2="155.00" stroke="#767676" stroke-width="2.4" stroke-linecap="round"/>
<line x1="374.00" y1="161.70" x2="379.00" y2="154.70" stroke="#d8d8d8" stroke-width="0.9" stroke-linecap="round"/>
<line x1="332.00" y1="167.00" x2="325.00" y2="164.50" stroke="#5c5c5c" stroke-width="3.00" stroke-linecap="round"/>
<line x1="325.00" y1="164.50" x2="318.00" y2="162.00" stroke="#5c5c5c" stroke-width="3.00" stroke-linecap="round"/>
<line x1="332.00" y1="166.70" x2="318.00" y2="161.70" stroke="#b0b0b0" stroke-width="0.96" stroke-linecap="round" opacity="0.9"/>
<line x1="359.60" y1="167.00" x2="366.80" y2="164.50" stroke="#5c5c5c" stroke-width="3.00" stroke-linecap="round"/>
<line x1="366.80" y1="164.50" x2="374.00" y2="162.00" stroke="#5c5c5c" stroke-width="3.00" stroke-linecap="round"/>
<line x1="359.60" y1="166.70" x2="374.00" y2="161.70" stroke="#b0b0b0" stroke-width="0.96" stroke-linecap="round" opacity="0.9"/>
<line x1="332.00" y1="167.00" x2="339.00" y2="161.00" stroke="#5c5c5c" stroke-width="3.00" stroke-linecap="round"/>
<line x1="339.00" y1="161.00" x2="346.00" y2="155.00" stroke="#5c5c5c" stroke-width="3.00" stroke-linecap="round"/>
<line x1="332.00" y1="166.70" x2="346.00" y2="154.70" stroke="#b0b0b0" stroke-width="0.96" stroke-linecap="round" opacity="0.9"/>
<line x1="346.00" y1="155.00" x2="341.80" y2="158.60" stroke="#e8c238" stroke-width="3.00" stroke-linecap="round"/>
<line x1="346.00" y1="155.00" x2="352.80" y2="161.00" stroke="#5c5c5c" stroke-width="3.00" stroke-linecap="round"/>
<line x1="352.80" y1="161.00" x2="359.60" y2="167.00" stroke="#5c5c5c" stroke-width="3.00" stroke-linecap="round"/>
<line x1="346.00" y1="154.70" x2="359.60" y2="166.70" stroke="#b0b0b0" stroke-width="0.96" stroke-linecap="round" opacity="0.9"/>
<line x1="346.00" y1="155.00" x2="350.08" y2="158.60" stroke="#e8c238" stroke-width="3.00" stroke-linecap="round"/>
<line x1="332.00" y1="167.00" x2="335.00" y2="174.50" stroke="#5c5c5c" stroke-width="3.00" stroke-linecap="round"/>
<line x1="335.00" y1="174.50" x2="338.00" y2="182.00" stroke="#5c5c5c" stroke-width="3.00" stroke-linecap="round"/>
<line x1="332.00" y1="166.70" x2="338.00" y2="181.70" stroke="#b0b0b0" stroke-width="0.96" stroke-linecap="round" opacity="0.9"/>
<line x1="359.60" y1="167.00" x2="356.80" y2="174.50" stroke="#5c5c5c" stroke-width="3.00" stroke-linecap="round"/>
<line x1="356.80" y1="174.50" x2="354.00" y2="182.00" stroke="#5c5c5c" stroke-width="3.00" stroke-linecap="round"/>
<line x1="359.60" y1="166.70" x2="354.00" y2="181.70" stroke="#b0b0b0" stroke-width="0.96" stroke-linecap="round" opacity="0.9"/>
<line x1="338.00" y1="182.00" x2="346.00" y2="182.00" stroke="#5c5c5c" stroke-width="3.00" stroke-linecap="round"/>
<line x1="346.00" y1="182.00" x2="354.00" y2="182.00" stroke="#5c5c5c" stroke-width="3.00" stroke-linecap="round"/>
<line x1="338.00" y1="181.70" x2="354.00" y2="181.70" stroke="#b0b0b0" stroke-width="0.96" stroke-linecap="round" opacity="0.9"/>
<line x1="354.00" y1="182.00" x2="358.50" y2="188.20" stroke="#5c5c5c" stroke-width="3.00" stroke-linecap="round"/>
<line x1="358.50" y1="188.20" x2="363.00" y2="194.40" stroke="#5c5c5c" stroke-width="3.00" stroke-linecap="round"/>
<line x1="354.00" y1="181.70" x2="363.00" y2="194.10" stroke="#b0b0b0" stroke-width="0.96" stroke-linecap="round" opacity="0.9"/>
<line x1="363.00" y1="194.40" x2="358.50" y2="201.70" stroke="#5c5c5c" stroke-width="3.00" stroke-linecap="round"/>
<line x1="358.50" y1="201.70" x2="354.00" y2="209.00" stroke="#5c5c5c" stroke-width="3.00" stroke-linecap="round"/>
<line x1="363.00" y1="194.10" x2="354.00" y2="208.70" stroke="#b0b0b0" stroke-width="0.96" stroke-linecap="round" opacity="0.9"/>
<line x1="354.00" y1="209.00" x2="346.00" y2="209.00" stroke="#5c5c5c" stroke-width="3.00" stroke-linecap="round"/>
<line x1="346.00" y1="209.00" x2="338.00" y2="209.00" stroke="#5c5c5c" stroke-width="3.00" stroke-linecap="round"/>
<line x1="354.00" y1="208.70" x2="338.00" y2="208.70" stroke="#b0b0b0" stroke-width="0.96" stroke-linecap="round" opacity="0.9"/>
<line x1="338.00" y1="209.00" x2="334.00" y2="201.70" stroke="#5c5c5c" stroke-width="3.00" stroke-linecap="round"/>
<line x1="334.00" y1="201.70" x2="330.00" y2="194.40" stroke="#5c5c5c" stroke-width="3.00" stroke-linecap="round"/>
<line x1="338.00" y1="208.70" x2="330.00" y2="194.10" stroke="#b0b0b0" stroke-width="0.96" stroke-linecap="round" opacity="0.9"/>
<line x1="330.00" y1="194.40" x2="334.00" y2="188.20" stroke="#5c5c5c" stroke-width="3.00" stroke-linecap="round"/>
<line x1="334.00" y1="188.20" x2="338.00" y2="182.00" stroke="#5c5c5c" stroke-width="3.00" stroke-linecap="round"/>
<line x1="330.00" y1="194.10" x2="338.00" y2="181.70" stroke="#b0b0b0" stroke-width="0.96" stroke-linecap="round" opacity="0.9"/>
<line x1="330.00" y1="194.40" x2="322.50" y2="194.40" stroke="#5c5c5c" stroke-width="3.00" stroke-linecap="round"/>
<line x1="322.50" y1="194.40" x2="315.00" y2="194.40" stroke="#5c5c5c" stroke-width="3.00" stroke-linecap="round"/>
<line x1="330.00" y1="194.10" x2="315.00" y2="194.10" stroke="#b0b0b0" stroke-width="0.96" stroke-linecap="round" opacity="0.9"/>
<line x1="315.00" y1="194.40" x2="319.50" y2="194.40" stroke="#e01010" stroke-width="3.00" stroke-linecap="round"/>
<line x1="363.00" y1="194.40" x2="370.00" y2="194.40" stroke="#5c5c5c" stroke-width="3.00" stroke-linecap="round"/>
<line x1="370.00" y1="194.40" x2="377.00" y2="194.40" stroke="#5c5c5c" stroke-width="3.00" stroke-linecap="round"/>
<line x1="363.00" y1="194.10" x2="377.00" y2="194.10" stroke="#b0b0b0" stroke-width="0.96" stroke-linecap="round" opacity="0.9"/>
<line x1="377.00" y1="194.40" x2="372.80" y2="194.40" stroke="#e01010" stroke-width="3.00" stroke-linecap="round"/>
<line x1="338.00" y1="209.00" x2="334.50" y2="216.00" stroke="#5c5c5c" stroke-width="3.00" stroke-linecap="round"/>
<line x1="334.50" y1="216.00" x2="331.00" y2="223.00" stroke="#5c5c5c" stroke-width="3.00" stroke-linecap="round"/>
<line x1="338.00" y1="208.70" x2="331.00" y2="222.70" stroke="#b0b0b0" stroke-width="0.96" stroke-linecap="round" opacity="0.9"/>
<line x1="354.00" y1="209.00" x2="357.00" y2="216.00" stroke="#5c5c5c" stroke-width="3.00" stroke-linecap="round"/>
<line x1="357.00" y1="216.00" x2="360.00" y2="223.00" stroke="#5c5c5c" stroke-width="3.00" stroke-linecap="round"/>
<line x1="354.00" y1="208.70" x2="360.00" y2="222.70" stroke="#b0b0b0" stroke-width="0.96" stroke-linecap="round" opacity="0.9"/>
<line x1="331.00" y1="223.00" x2="338.50" y2="229.00" stroke="#5c5c5c" stroke-width="3.00" stroke-linecap="round"/>
<line x1="338.50" y1="229.00" x2="346.00" y2="235.00" stroke="#5c5c5c" stroke-width="3.00" stroke-linecap="round"/>
<line x1="331.00" y1="222.70" x2="346.00" y2="234.70" stroke="#b0b0b0" stroke-width="0.96" stroke-linecap="round" opacity="0.9"/>
<line x1="346.00" y1="235.00" x2="341.50" y2="231.40" stroke="#e8c238" stroke-width="3.00" stroke-linecap="round"/>
<line x1="346.00" y1="235.00" x2="353.00" y2="229.00" stroke="#5c5c5c" stroke-width="3.00" stroke-linecap="round"/>
<line x1="353.00" y1="229.00" x2="360.00" y2="223.00" stroke="#5c5c5c" stroke-width="3.00" stroke-linecap="round"/>
<line x1="346.00" y1="234.70" x2="360.00" y2="222.70" stroke="#b0b0b0" stroke-width="0.96" stroke-linecap="round" opacity="0.9"/>
<line x1="346.00" y1="235.00" x2="350.20" y2="231.40" stroke="#e8c238" stroke-width="3.00" stroke-linecap="round"/>
<line x1="331.00" y1="223.00" x2="323.85" y2="226.00" stroke="#5c5c5c" stroke-width="3.00" stroke-linecap="round"/>
<line x1="323.85" y1="226.00" x2="316.70" y2="229.00" stroke="#5c5c5c" stroke-width="3.00" stroke-linecap="round"/>
<line x1="331.00" y1="222.70" x2="316.70" y2="228.70" stroke="#b0b0b0" stroke-width="0.96" stroke-linecap="round" opacity="0.9"/>
<line x1="360.00" y1="223.00" x2="367.50" y2="226.00" stroke="#5c5c5c" stroke-width="3.00" stroke-linecap="round"/>
<line x1="367.50" y1="226.00" x2="375.00" y2="229.00" stroke="#5c5c5c" stroke-width="3.00" stroke-linecap="round"/>
<line x1="360.00" y1="222.70" x2="375.00" y2="228.70" stroke="#b0b0b0" stroke-width="0.96" stroke-linecap="round" opacity="0.9"/>
<line x1="316.70" y1="229.00" x2="308.55" y2="225.00" stroke="#5c5c5c" stroke-width="3.00" stroke-linecap="round"/>
<line x1="308.55" y1="225.00" x2="300.40" y2="221.00" stroke="#5c5c5c" stroke-width="3.00" stroke-linecap="round"/>
<line x1="316.70" y1="228.70" x2="300.40" y2="220.70" stroke="#b0b0b0" stroke-width="0.96" stroke-linecap="round" opacity="0.9"/>
<line x1="300.40" y1="221.00" x2="305.29" y2="223.40" stroke="#e8c238" stroke-width="3.00" stroke-linecap="round"/>
<line x1="300.40" y1="221.00" x2="295.70" y2="228.00" stroke="#5c5c5c" stroke-width="3.00" stroke-linecap="round"/>
<line x1="295.70" y1="228.00" x2="291.00" y2="235.00" stroke="#5c5c5c" stroke-width="3.00" stroke-linecap="round"/>
<line x1="300.40" y1="220.70" x2="291.00" y2="234.70" stroke="#b0b0b0" stroke-width="0.96" stroke-linecap="round" opacity="0.9"/>
<line x1="300.40" y1="221.00" x2="297.58" y2="225.20" stroke="#e8c238" stroke-width="3.00" stroke-linecap="round"/>
<line x1="291.00" y1="235.00" x2="294.50" y2="240.85" stroke="#5c5c5c" stroke-width="3.00" stroke-linecap="round"/>
<line x1="294.50" y1="240.85" x2="298.00" y2="246.70" stroke="#5c5c5c" stroke-width="3.00" stroke-linecap="round"/>
<line x1="291.00" y1="234.70" x2="298.00" y2="246.40" stroke="#b0b0b0" stroke-width="0.96" stroke-linecap="round" opacity="0.9"/>
<line x1="298.00" y1="246.70" x2="305.50" y2="244.85" stroke="#5c5c5c" stroke-width="3.00" stroke-linecap="round"/>
<line x1="305.50" y1="244.85" x2="313.00" y2="243.00" stroke="#5c5c5c" stroke-width="3.00" stroke-linecap="round"/>
<line x1="298.00" y1="246.40" x2="313.00" y2="242.70" stroke="#b0b0b0" stroke-width="0.96" stroke-linecap="round" opacity="0.9"/>
<line x1="313.00" y1="243.00" x2="314.85" y2="236.00" stroke="#5c5c5c" stroke-width="3.00" stroke-linecap="round"/>
<line x1="314.85" y1="236.00" x2="316.70" y2="229.00" stroke="#5c5c5c" stroke-width="3.00" stroke-linecap="round"/>
<line x1="313.00" y1="242.70" x2="316.70" y2="228.70" stroke="#b0b0b0" stroke-width="0.96" stroke-linecap="round" opacity="0.9"/>
<line x1="291.00" y1="235.00" x2="278.00" y2="235.00" stroke="#767676" stroke-width="2.4" stroke-linecap="round"/>
<line x1="291.00" y1="234.70" x2="278.00" y2="234.70" stroke="#d8d8d8" stroke-width="0.9" stroke-linecap="round"/>
<line x1="298.00" y1="246.70" x2="294.50" y2="258.00" stroke="#767676" stroke-width="2.4" stroke-linecap="round"/>
<line x1="298.00" y1="246.40" x2="294.50" y2="257.70" stroke="#d8d8d8" stroke-width="0.9" stroke-linecap="round"/>
<line x1="313.00" y1="243.00" x2="322.00" y2="252.00" stroke="#767676" stroke-width="2.4" stroke-linecap="round"/>
<line x1="313.00" y1="242.70" x2="322.00" y2="251.70" stroke="#d8d8d8" stroke-width="0.9" stroke-linecap="round"/>
<line x1="375.00" y1="229.00" x2="383.25" y2="225.00" stroke="#5c5c5c" stroke-width="3.00" stroke-linecap="round"/>
<line x1="383.25" y1="225.00" x2="391.50" y2="221.00" stroke="#5c5c5c" stroke-width="3.00" stroke-linecap="round"/>
<line x1="375.00" y1="228.70" x2="391.50" y2="220.70" stroke="#b0b0b0" stroke-width="0.96" stroke-linecap="round" opacity="0.9"/>
<line x1="391.50" y1="221.00" x2="386.55" y2="223.40" stroke="#e8c238" stroke-width="3.00" stroke-linecap="round"/>
<line x1="391.50" y1="221.00" x2="396.25" y2="228.00" stroke="#5c5c5c" stroke-width="3.00" stroke-linecap="round"/>
<line x1="396.25" y1="228.00" x2="401.00" y2="235.00" stroke="#5c5c5c" stroke-width="3.00" stroke-linecap="round"/>
<line x1="391.50" y1="220.70" x2="401.00" y2="234.70" stroke="#b0b0b0" stroke-width="0.96" stroke-linecap="round" opacity="0.9"/>
<line x1="391.50" y1="221.00" x2="394.35" y2="225.20" stroke="#e8c238" stroke-width="3.00" stroke-linecap="round"/>
<line x1="401.00" y1="235.00" x2="396.85" y2="241.50" stroke="#5c5c5c" stroke-width="3.00" stroke-linecap="round"/>
<line x1="396.85" y1="241.50" x2="392.70" y2="248.00" stroke="#5c5c5c" stroke-width="3.00" stroke-linecap="round"/>
<line x1="401.00" y1="234.70" x2="392.70" y2="247.70" stroke="#b0b0b0" stroke-width="0.96" stroke-linecap="round" opacity="0.9"/>
<line x1="392.70" y1="248.00" x2="385.10" y2="246.00" stroke="#5c5c5c" stroke-width="3.00" stroke-linecap="round"/>
<line x1="385.10" y1="246.00" x2="377.50" y2="244.00" stroke="#5c5c5c" stroke-width="3.00" stroke-linecap="round"/>
<line x1="392.70" y1="247.70" x2="377.50" y2="243.70" stroke="#b0b0b0" stroke-width="0.96" stroke-linecap="round" opacity="0.9"/>
<line x1="377.50" y1="244.00" x2="376.25" y2="236.50" stroke="#5c5c5c" stroke-width="3.00" stroke-linecap="round"/>
<line x1="376.25" y1="236.50" x2="375.00" y2="229.00" stroke="#5c5c5c" stroke-width="3.00" stroke-linecap="round"/>
<line x1="377.50" y1="243.70" x2="375.00" y2="228.70" stroke="#b0b0b0" stroke-width="0.96" stroke-linecap="round" opacity="0.9"/>
<line x1="401.00" y1="235.00" x2="413.70" y2="234.60" stroke="#767676" stroke-width="2.4" stroke-linecap="round"/>
<line x1="401.00" y1="234.70" x2="413.70" y2="234.30" stroke="#d8d8d8" stroke-width="0.9" stroke-linecap="round"/>
<line x1="392.70" y1="248.00" x2="397.00" y2="258.00" stroke="#767676" stroke-width="2.4" stroke-linecap="round"/>
<line x1="392.70" y1="247.70" x2="397.00" y2="257.70" stroke="#d8d8d8" stroke-width="0.9" stroke-linecap="round"/>
<line x1="377.50" y1="244.00" x2="369.00" y2="252.60" stroke="#767676" stroke-width="2.4" stroke-linecap="round"/>
<line x1="377.50" y1="243.70" x2="369.00" y2="252.30" stroke="#d8d8d8" stroke-width="0.9" stroke-linecap="round"/>
<line x1="329.00" y1="237.00" x2="313.00" y2="205.50" stroke="#ff2a2a" stroke-width="1.00" />
<polygon points="309.40,200.00 316.23,205.50 309.81,208.76" fill="#ff1a1a"/>
<rect x="465.85" y="52.25" width="216.9" height="169.5" fill="none" stroke="#2f5597" stroke-width="2.5"/>
<text x="578.50" y="91.30" font-size="13.00" text-anchor="middle" fill="#c55a11" font-weight="bold" font-family="Liberation Sans">Conjugation length</text>
<line x1="515.40" y1="104.00" x2="515.40" y2="194.50" stroke="#4472c4" stroke-width="0.90" stroke-dasharray="2.2,1.8"/>
<line x1="634.40" y1="104.00" x2="634.40" y2="194.50" stroke="#4472c4" stroke-width="0.90" stroke-dasharray="2.2,1.8"/>
<line x1="475" y1="121.3" x2="676" y2="121.3" stroke="#3c3c3c" stroke-width="2.4"/>
<line x1="490" y1="119.9" x2="512" y2="119.9" stroke="#a8a8a8" stroke-width="1.3"/>
<line x1="493" y1="122.6" x2="510" y2="122.6" stroke="#8a8a8a" stroke-width="1"/>
<line x1="528" y1="119.9" x2="552" y2="119.9" stroke="#a8a8a8" stroke-width="1.3"/>
<line x1="531" y1="122.6" x2="550" y2="122.6" stroke="#8a8a8a" stroke-width="1"/>
<line x1="566" y1="119.9" x2="584" y2="119.9" stroke="#a8a8a8" stroke-width="1.3"/>
<line x1="569" y1="122.6" x2="582" y2="122.6" stroke="#8a8a8a" stroke-width="1"/>
<line x1="600" y1="119.9" x2="622" y2="119.9" stroke="#a8a8a8" stroke-width="1.3"/>
<line x1="603" y1="122.6" x2="620" y2="122.6" stroke="#8a8a8a" stroke-width="1"/>
<line x1="636" y1="119.9" x2="660" y2="119.9" stroke="#a8a8a8" stroke-width="1.3"/>
<line x1="639" y1="122.6" x2="658" y2="122.6" stroke="#8a8a8a" stroke-width="1"/>
<line x1="486" y1="107.5" x2="486" y2="131" stroke="#4a4a4a" stroke-width="2"/>
<line x1="486.6" y1="110" x2="486.6" y2="128" stroke="#c8c8c8" stroke-width="0.6"/>
<line x1="665" y1="111" x2="665" y2="133.5" stroke="#4a4a4a" stroke-width="2"/>
<line x1="665.6" y1="113" x2="665.6" y2="131" stroke="#c8c8c8" stroke-width="0.6"/>
<line x1="517.0" y1="121.3" x2="525.0" y2="121.3" stroke="#e8c238" stroke-width="2.4" stroke-linecap="round"/>
<line x1="555.0" y1="120.8" x2="564.0" y2="120.8" stroke="#1c2ed8" stroke-width="2.4" stroke-linecap="round"/>
<line x1="587.0" y1="119.6" x2="593.5" y2="119.6" stroke="#1c2ed8" stroke-width="2.4" stroke-linecap="round"/>
<line x1="588.5" y1="121.8" x2="596.8" y2="121.8" stroke="#e8c238" stroke-width="2.4" stroke-linecap="round"/>
<line x1="625.4" y1="120.0" x2="632.0" y2="120.0" stroke="#e8c238" stroke-width="2.4" stroke-linecap="round"/>
<line x1="503.50" y1="182.80" x2="515.20" y2="184.00" stroke="#767676" stroke-width="2.4" stroke-linecap="round"/>
<line x1="503.50" y1="182.50" x2="515.20" y2="183.70" stroke="#d8d8d8" stroke-width="0.9" stroke-linecap="round"/>
<line x1="515.20" y1="184.00" x2="521.60" y2="182.50" stroke="#5c5c5c" stroke-width="2.60" stroke-linecap="round"/>
<line x1="521.60" y1="182.50" x2="528.00" y2="181.00" stroke="#5c5c5c" stroke-width="2.60" stroke-linecap="round"/>
<line x1="515.20" y1="183.70" x2="528.00" y2="180.70" stroke="#b0b0b0" stroke-width="0.83" stroke-linecap="round" opacity="0.9"/>
<line x1="528.00" y1="181.00" x2="524.16" y2="181.90" stroke="#e8c238" stroke-width="2.60" stroke-linecap="round"/>
<line x1="528.00" y1="181.00" x2="534.50" y2="182.20" stroke="#5c5c5c" stroke-width="2.60" stroke-linecap="round"/>
<line x1="534.50" y1="182.20" x2="541.00" y2="183.40" stroke="#5c5c5c" stroke-width="2.60" stroke-linecap="round"/>
<line x1="528.00" y1="180.70" x2="541.00" y2="183.10" stroke="#b0b0b0" stroke-width="0.83" stroke-linecap="round" opacity="0.9"/>
<line x1="528.00" y1="181.00" x2="531.90" y2="181.72" stroke="#e8c238" stroke-width="2.60" stroke-linecap="round"/>
<line x1="515.20" y1="184.00" x2="519.30" y2="187.20" stroke="#5c5c5c" stroke-width="2.60" stroke-linecap="round"/>
<line x1="519.30" y1="187.20" x2="523.40" y2="190.40" stroke="#5c5c5c" stroke-width="2.60" stroke-linecap="round"/>
<line x1="515.20" y1="183.70" x2="523.40" y2="190.10" stroke="#b0b0b0" stroke-width="0.83" stroke-linecap="round" opacity="0.9"/>
<line x1="523.40" y1="190.40" x2="530.95" y2="190.70" stroke="#5c5c5c" stroke-width="2.60" stroke-linecap="round"/>
<line x1="530.95" y1="190.70" x2="538.50" y2="191.00" stroke="#5c5c5c" stroke-width="2.60" stroke-linecap="round"/>
<line x1="523.40" y1="190.10" x2="538.50" y2="190.70" stroke="#b0b0b0" stroke-width="0.83" stroke-linecap="round" opacity="0.9"/>
<line x1="538.50" y1="191.00" x2="539.75" y2="187.20" stroke="#5c5c5c" stroke-width="2.60" stroke-linecap="round"/>
<line x1="539.75" y1="187.20" x2="541.00" y2="183.40" stroke="#5c5c5c" stroke-width="2.60" stroke-linecap="round"/>
<line x1="538.50" y1="190.70" x2="541.00" y2="183.10" stroke="#b0b0b0" stroke-width="0.83" stroke-linecap="round" opacity="0.9"/>
<line x1="523.40" y1="190.40" x2="520.00" y2="195.50" stroke="#767676" stroke-width="2.4" stroke-linecap="round"/>
<line x1="523.40" y1="190.10" x2="520.00" y2="195.20" stroke="#d8d8d8" stroke-width="0.9" stroke-linecap="round"/>
<line x1="538.50" y1="191.00" x2="537.00" y2="196.50" stroke="#767676" stroke-width="2.4" stroke-linecap="round"/>
<line x1="538.50" y1="190.70" x2="537.00" y2="196.20" stroke="#d8d8d8" stroke-width="0.9" stroke-linecap="round"/>
<line x1="541.00" y1="189.00" x2="550.00" y2="195.00" stroke="#767676" stroke-width="2.4" stroke-linecap="round"/>
<line x1="541.00" y1="188.70" x2="550.00" y2="194.70" stroke="#d8d8d8" stroke-width="0.9" stroke-linecap="round"/>
<line x1="541.00" y1="183.00" x2="539.20" y2="178.20" stroke="#5c5c5c" stroke-width="2.40" stroke-linecap="round"/>
<line x1="539.20" y1="178.20" x2="537.40" y2="173.40" stroke="#5c5c5c" stroke-width="2.40" stroke-linecap="round"/>
<line x1="541.00" y1="182.70" x2="537.40" y2="173.10" stroke="#b0b0b0" stroke-width="0.77" stroke-linecap="round" opacity="0.9"/>
<line x1="541.00" y1="183.40" x2="544.50" y2="183.45" stroke="#5c5c5c" stroke-width="2.80" stroke-linecap="round"/>
<line x1="544.50" y1="183.45" x2="548.00" y2="183.50" stroke="#5c5c5c" stroke-width="2.80" stroke-linecap="round"/>
<line x1="541.00" y1="183.10" x2="548.00" y2="183.20" stroke="#b0b0b0" stroke-width="0.90" stroke-linecap="round" opacity="0.9"/>
<line x1="548.00" y1="183.50" x2="545.90" y2="183.47" stroke="#e01010" stroke-width="2.80" stroke-linecap="round"/>
<line x1="548.00" y1="183.50" x2="562.00" y2="184.25" stroke="#5c5c5c" stroke-width="3.20" stroke-linecap="round"/>
<line x1="562.00" y1="184.25" x2="576.00" y2="185.00" stroke="#5c5c5c" stroke-width="3.20" stroke-linecap="round"/>
<line x1="548.00" y1="183.20" x2="576.00" y2="184.70" stroke="#b0b0b0" stroke-width="1.02" stroke-linecap="round" opacity="0.9"/>
<line x1="647.50" y1="182.80" x2="635.80" y2="184.00" stroke="#767676" stroke-width="2.4" stroke-linecap="round"/>
<line x1="647.50" y1="182.50" x2="635.80" y2="183.70" stroke="#d8d8d8" stroke-width="0.9" stroke-linecap="round"/>
<line x1="635.80" y1="184.00" x2="629.40" y2="182.50" stroke="#5c5c5c" stroke-width="2.60" stroke-linecap="round"/>
<line x1="629.40" y1="182.50" x2="623.00" y2="181.00" stroke="#5c5c5c" stroke-width="2.60" stroke-linecap="round"/>
<line x1="635.80" y1="183.70" x2="623.00" y2="180.70" stroke="#b0b0b0" stroke-width="0.83" stroke-linecap="round" opacity="0.9"/>
<line x1="623.00" y1="181.00" x2="626.84" y2="181.90" stroke="#e8c238" stroke-width="2.60" stroke-linecap="round"/>
<line x1="623.00" y1="181.00" x2="616.50" y2="182.20" stroke="#5c5c5c" stroke-width="2.60" stroke-linecap="round"/>
<line x1="616.50" y1="182.20" x2="610.00" y2="183.40" stroke="#5c5c5c" stroke-width="2.60" stroke-linecap="round"/>
<line x1="623.00" y1="180.70" x2="610.00" y2="183.10" stroke="#b0b0b0" stroke-width="0.83" stroke-linecap="round" opacity="0.9"/>
<line x1="623.00" y1="181.00" x2="619.10" y2="181.72" stroke="#e8c238" stroke-width="2.60" stroke-linecap="round"/>
<line x1="635.80" y1="184.00" x2="631.70" y2="187.20" stroke="#5c5c5c" stroke-width="2.60" stroke-linecap="round"/>
<line x1="631.70" y1="187.20" x2="627.60" y2="190.40" stroke="#5c5c5c" stroke-width="2.60" stroke-linecap="round"/>
<line x1="635.80" y1="183.70" x2="627.60" y2="190.10" stroke="#b0b0b0" stroke-width="0.83" stroke-linecap="round" opacity="0.9"/>
<line x1="627.60" y1="190.40" x2="620.05" y2="190.70" stroke="#5c5c5c" stroke-width="2.60" stroke-linecap="round"/>
<line x1="620.05" y1="190.70" x2="612.50" y2="191.00" stroke="#5c5c5c" stroke-width="2.60" stroke-linecap="round"/>
<line x1="627.60" y1="190.10" x2="612.50" y2="190.70" stroke="#b0b0b0" stroke-width="0.83" stroke-linecap="round" opacity="0.9"/>
<line x1="612.50" y1="191.00" x2="611.25" y2="187.20" stroke="#5c5c5c" stroke-width="2.60" stroke-linecap="round"/>
<line x1="611.25" y1="187.20" x2="610.00" y2="183.40" stroke="#5c5c5c" stroke-width="2.60" stroke-linecap="round"/>
<line x1="612.50" y1="190.70" x2="610.00" y2="183.10" stroke="#b0b0b0" stroke-width="0.83" stroke-linecap="round" opacity="0.9"/>
<line x1="627.60" y1="190.40" x2="631.00" y2="195.50" stroke="#767676" stroke-width="2.4" stroke-linecap="round"/>
<line x1="627.60" y1="190.10" x2="631.00" y2="195.20" stroke="#d8d8d8" stroke-width="0.9" stroke-linecap="round"/>
<line x1="612.50" y1="191.00" x2="614.00" y2="196.50" stroke="#767676" stroke-width="2.4" stroke-linecap="round"/>
<line x1="612.50" y1="190.70" x2="614.00" y2="196.20" stroke="#d8d8d8" stroke-width="0.9" stroke-linecap="round"/>
<line x1="610.00" y1="189.00" x2="601.00" y2="195.00" stroke="#767676" stroke-width="2.4" stroke-linecap="round"/>
<line x1="610.00" y1="188.70" x2="601.00" y2="194.70" stroke="#d8d8d8" stroke-width="0.9" stroke-linecap="round"/>
<line x1="610.00" y1="183.00" x2="611.80" y2="178.20" stroke="#5c5c5c" stroke-width="2.40" stroke-linecap="round"/>
<line x1="611.80" y1="178.20" x2="613.60" y2="173.40" stroke="#5c5c5c" stroke-width="2.40" stroke-linecap="round"/>
<line x1="610.00" y1="182.70" x2="613.60" y2="173.10" stroke="#b0b0b0" stroke-width="0.77" stroke-linecap="round" opacity="0.9"/>
<line x1="610.00" y1="183.40" x2="606.50" y2="183.45" stroke="#5c5c5c" stroke-width="2.80" stroke-linecap="round"/>
<line x1="606.50" y1="183.45" x2="603.00" y2="183.50" stroke="#5c5c5c" stroke-width="2.80" stroke-linecap="round"/>
<line x1="610.00" y1="183.10" x2="603.00" y2="183.20" stroke="#b0b0b0" stroke-width="0.90" stroke-linecap="round" opacity="0.9"/>
<line x1="603.00" y1="183.50" x2="605.10" y2="183.47" stroke="#e01010" stroke-width="2.80" stroke-linecap="round"/>
<line x1="603.00" y1="183.50" x2="589.00" y2="184.25" stroke="#5c5c5c" stroke-width="3.20" stroke-linecap="round"/>
<line x1="589.00" y1="184.25" x2="575.00" y2="185.00" stroke="#5c5c5c" stroke-width="3.20" stroke-linecap="round"/>
<line x1="603.00" y1="183.20" x2="575.00" y2="184.70" stroke="#b0b0b0" stroke-width="1.02" stroke-linecap="round" opacity="0.9"/>
<line x1="570" y1="185" x2="580" y2="185" stroke="#e8c238" stroke-width="2.8"/>
<rect x="543.5" y="180.6" width="6.5" height="3.6" rx="1" fill="#e01010"/>
<rect x="601" y="180.6" width="6.5" height="3.6" rx="1" fill="#e01010"/>
<rect x="602" y="175" width="8" height="7" fill="#f4b8b8" opacity="0.5"/>
<text x="0.50" y="322.50" font-size="16.50" text-anchor="start" fill="#000" >b</text>
<rect x="80.50" y="334.20" width="24.80" height="98.30" fill="#000" opacity="0.62" filter="url(#shad)"/>
<rect x="72.85" y="326.55" width="24.10" height="97.60" fill="#b8b8c0" stroke="#6a6a72" stroke-width="0.7"/>
<rect x="72.90" y="326.20" width="24.00" height="9.40" fill="#efeee7"/>
<rect x="72.90" y="335.60" width="24.00" height="1.60" fill="#2c2c30"/>
<rect x="74.70" y="337.20" width="20.40" height="16.20" fill="#b9bdd6"/>
<rect x="77.50" y="339.00" width="14.80" height="12.00" fill="#cdd1e4"/>
<rect x="75.10" y="353.40" width="19.60" height="8.40" fill="#eef0e6"/>
<rect x="75.90" y="361.80" width="18.00" height="57.70" fill="url(#liqB)"/>
<rect x="73.00" y="419.50" width="23.80" height="4.60" fill="#8c8a96"/>
<clipPath id="clipb"><rect x="61.00" y="321.60" width="270.60" height="199.50"/></clipPath>
<g clip-path="url(#clipb)" fill="none" stroke-width="1.75" stroke-linejoin="round" stroke-linecap="round">
<path d="M61.0,437.5 62.1,436.7 63.3,436.1 64.4,435.7 65.5,435.5 66.6,435.4 67.6,435.6 68.7,435.9 69.7,436.3 70.8,436.9 71.8,437.5 72.8,438.2 73.8,439.0 74.7,439.9 75.7,440.7 76.6,441.6 77.5,442.5 78.4,443.4 79.3,444.3 80.2,445.2 81.1,446.0 82.0,446.8 83.0,447.6 83.9,448.3 84.9,448.9 85.9,449.5 86.9,450.0 87.9,450.4 89.0,450.7 90.1,451.0 91.3,451.1 92.5,451.1 93.8,451.0 95.0,451.0 96.2,450.9 97.5,450.8 98.7,450.7 99.9,450.7 101.1,450.7 102.3,450.7 103.5,450.8 104.7,450.9 105.9,451.0 107.0,451.2 108.2,451.4 109.3,451.7 110.5,452.0 111.6,452.3 112.7,452.7 113.9,453.1 115.0,453.4 116.2,453.7 117.4,454.0 118.6,454.1 119.8,454.3 121.1,454.3 122.3,454.3 123.5,454.3 124.8,454.3 126.0,454.1 127.2,454.0 128.4,453.8 129.5,453.6 130.7,453.3 131.8,453.0 133.0,452.7 134.1,452.3 135.2,451.9 136.2,451.5 137.3,451.0 138.3,450.5 139.4,450.0 140.4,449.4 141.4,448.9 142.4,448.3 143.4,447.6 144.3,447.0 145.3,446.3 146.3,445.6 147.2,444.9 148.1,444.2 149.0,443.4 150.0,442.6 150.9,441.9 151.8,441.1 152.6,440.2 153.5,439.4 154.4,438.6 155.3,437.7 156.1,436.8 157.0,436.0 157.8,435.1 158.7,434.2 159.5,433.3 160.3,432.4 161.2,431.4 162.0,430.5 162.8,429.6 163.6,428.7 164.5,427.8 165.3,426.8 166.1,425.9 166.9,425.0 167.7,424.1 168.5,423.2 169.4,422.3 170.2,421.4 171.0,420.5 171.8,419.6 172.6,418.7 173.4,417.8 174.2,416.9 175.0,416.0 175.8,415.1 176.6,414.2 177.4,413.4 178.2,412.5 179.0,411.6 179.7,410.7 180.5,409.7 181.2,408.8 181.9,407.9 182.7,407.0 183.4,406.0 184.1,405.1 184.7,404.1 185.4,403.2 186.1,402.2 186.7,401.2 187.3,400.2 188.0,399.2 188.6,398.2 189.2,397.2 189.7,396.1 190.3,395.1 190.9,394.0 191.4,393.0 192.0,391.9 192.5,390.8 193.0,389.7 193.5,388.6 194.0,387.5 194.5,386.4 195.0,385.2 195.5,384.1 196.0,382.9 196.5,381.8 197.0,380.6 197.4,379.5 197.9,378.3 198.4,377.1 198.9,376.0 199.3,374.8 199.8,373.7 200.4,372.6 200.9,371.5 201.4,370.4 202.0,369.3 202.6,368.3 203.2,367.3 203.9,366.3 204.6,365.4 205.3,364.5 206.0,363.7 206.8,362.9 207.6,362.2 208.5,361.5 209.4,360.8 210.4,360.3 211.4,359.8 212.5,359.3 213.6,358.9 214.7,358.6 215.9,358.3 217.1,358.0 218.3,357.7 219.5,357.3 220.7,357.0 221.9,356.6 223.0,356.2 224.0,355.6 225.1,355.0 226.0,354.3 226.9,353.6 227.8,352.7 228.6,351.8 229.5,350.9 230.3,350.0 231.2,349.0 232.1,348.1 233.1,347.2 234.1,346.4 235.1,345.7 236.1,345.2 237.1,344.8 238.1,344.6 239.1,344.7 240.0,345.0 240.9,345.5 241.8,346.2 242.6,347.0 243.3,347.9 244.0,348.8 244.7,349.7 245.3,350.7 245.8,351.7 246.3,352.7 246.8,353.8 247.2,354.9 247.6,356.0 248.0,357.2 248.3,358.3 248.6,359.5 248.9,360.7 249.1,361.9 249.3,363.1 249.6,364.3 249.8,365.6 250.0,366.8 250.1,368.0 250.3,369.3 250.5,370.5 250.7,371.7 250.9,372.9 251.1,374.1 251.2,375.3 251.4,376.5 251.6,377.7 251.8,378.9 252.0,380.1 252.2,381.3 252.3,382.5 252.5,383.7 252.7,384.9 252.9,386.1 253.1,387.2 253.3,388.4 253.5,389.6 253.6,390.8 253.8,391.9 254.0,393.1 254.2,394.3 254.4,395.5 254.6,396.6 254.7,397.8 254.9,399.0 255.1,400.2 255.3,401.4 255.5,402.5 255.6,403.7 255.8,404.9 256.0,406.1 256.2,407.3 256.3,408.5 256.5,409.7 256.7,410.9 256.9,412.0 257.1,413.2 257.2,414.4 257.4,415.6 257.6,416.8 257.8,418.0 257.9,419.2 258.1,420.4 258.3,421.6 258.5,422.8 258.6,424.0 258.8,425.2 259.0,426.4 259.2,427.6 259.4,428.8 259.5,429.9 259.7,431.1 259.9,432.3 260.1,433.5 260.3,434.7 260.5,435.9 260.7,437.1 260.8,438.3 261.0,439.5 261.2,440.7 261.4,441.9 261.6,443.1 261.8,444.3 262.0,445.5 262.2,446.7 262.4,447.9 262.6,449.0 262.8,450.2 263.0,451.4 263.2,452.6 263.4,453.8 263.6,455.0 263.8,456.2 264.0,457.4 264.3,458.5 264.5,459.7 264.7,460.9 264.9,462.1 265.2,463.3 265.4,464.4 265.6,465.6 265.9,466.8 266.1,468.0 266.4,469.1 266.7,470.3 266.9,471.5 267.2,472.6 267.5,473.8 267.8,475.0 268.1,476.1 268.4,477.3 268.7,478.4 269.0,479.6 269.3,480.7 269.7,481.9 270.0,483.0 270.4,484.2 270.7,485.3 271.1,486.5 271.5,487.6 271.9,488.7 272.3,489.9 272.7,491.0 273.1,492.1 273.6,493.3 274.0,494.4 274.5,495.5 274.9,496.6 275.4,497.7 275.9,498.8 276.4,499.9 277.0,501.0 277.5,502.1 278.0,503.2 278.6,504.3 279.2,505.4 279.9,506.4 280.6,507.4 281.3,508.3 282.1,509.2 282.9,510.1 283.8,510.9 284.7,511.6 285.7,512.3 286.7,512.9 287.7,513.5 288.8,513.9 289.9,514.4 291.0,514.7 292.2,515.0 293.3,515.2 294.5,515.4 295.7,515.6 296.9,515.7 298.1,515.7 299.3,515.8 300.6,515.8 301.8,515.8 303.1,515.8 304.3,515.7 305.5,515.7 306.8,515.7 308.0,515.7 309.2,515.6 310.4,515.6 311.6,515.6 312.8,515.7 314.0,515.7 315.2,515.7 316.4,515.7 317.6,515.8 318.8,515.8 320.0,515.9 321.1,515.9 322.3,515.9 323.5,516.0 324.7,516.0 325.9,516.0 327.1,516.0 328.3,516.0 329.5,516.0 330.8,516.0 332.0,516.0" stroke="#000000"/>
<path d="M61.0,436.5 62.2,435.4 63.4,434.6 64.5,434.1 65.6,433.8 66.6,433.8 67.6,434.0 68.6,434.3 69.6,434.8 70.5,435.5 71.5,436.2 72.4,437.1 73.3,438.0 74.2,438.9 75.1,439.9 76.0,440.8 77.0,441.7 77.9,442.6 78.8,443.4 79.7,444.2 80.7,445.0 81.6,445.7 82.6,446.4 83.5,447.0 84.5,447.6 85.5,448.2 86.5,448.7 87.5,449.1 88.6,449.6 89.6,449.9 90.7,450.2 91.8,450.5 92.9,450.7 94.1,450.9 95.2,451.0 96.4,451.0 97.6,451.0 98.9,450.9 100.1,450.8 101.4,450.7 102.6,450.6 103.9,450.5 105.1,450.4 106.4,450.4 107.6,450.5 108.8,450.6 109.9,450.8 111.0,451.2 112.1,451.7 113.2,452.2 114.3,452.8 115.4,453.3 116.5,453.6 117.7,454.0 118.9,454.2 120.1,454.3 121.3,454.4 122.6,454.4 123.8,454.4 125.0,454.3 126.2,454.2 127.5,454.0 128.6,453.8 129.8,453.6 131.0,453.3 132.1,453.0 133.2,452.6 134.3,452.2 135.4,451.8 136.5,451.4 137.6,450.9 138.6,450.4 139.6,449.8 140.7,449.3 141.7,448.7 142.7,448.1 143.6,447.4 144.6,446.8 145.6,446.1 146.5,445.4 147.5,444.7 148.4,443.9 149.3,443.2 150.2,442.4 151.1,441.6 152.0,440.8 152.9,440.0 153.8,439.2 154.6,438.3 155.5,437.4 156.4,436.6 157.2,435.7 158.1,434.8 158.9,433.9 159.7,433.0 160.6,432.1 161.4,431.2 162.2,430.3 163.1,429.4 163.9,428.4 164.7,427.5 165.5,426.6 166.3,425.7 167.1,424.8 168.0,423.8 168.8,422.9 169.6,422.0 170.4,421.1 171.2,420.2 172.0,419.3 172.8,418.4 173.6,417.6 174.4,416.7 175.2,415.8 176.0,414.9 176.8,414.0 177.6,413.1 178.4,412.2 179.2,411.3 179.9,410.4 180.7,409.5 181.4,408.6 182.1,407.6 182.9,406.7 183.6,405.8 184.3,404.8 185.0,403.9 185.7,402.9 186.3,401.9 187.0,400.9 187.6,399.9 188.3,398.9 188.9,397.9 189.5,396.9 190.1,395.9 190.7,394.8 191.3,393.8 191.8,392.7 192.4,391.6 193.0,390.6 193.5,389.5 194.1,388.4 194.6,387.3 195.1,386.2 195.7,385.0 196.2,383.9 196.7,382.8 197.2,381.6 197.7,380.5 198.2,379.3 198.7,378.2 199.3,377.1 199.8,375.9 200.3,374.8 200.9,373.8 201.5,372.7 202.1,371.7 202.7,370.7 203.4,369.7 204.1,368.8 204.8,367.9 205.5,367.0 206.3,366.2 207.2,365.4 208.0,364.7 209.0,364.1 209.9,363.5 211.0,363.0 212.0,362.5 213.2,362.1 214.3,361.8 215.5,361.5 216.7,361.2 218.0,360.9 219.2,360.6 220.4,360.3 221.5,359.9 222.7,359.5 223.7,359.1 224.8,358.5 225.7,357.9 226.6,357.2 227.4,356.4 228.3,355.5 229.1,354.6 229.9,353.7 230.8,352.8 231.7,351.9 232.7,350.9 233.8,350.1 234.8,349.3 235.9,348.7 237.0,348.3 238.1,348.1 239.1,348.2 240.1,348.5 241.0,349.1 241.8,349.8 242.6,350.7 243.4,351.6 244.1,352.6 244.7,353.6 245.3,354.6 245.8,355.6 246.3,356.7 246.8,357.8 247.2,358.9 247.6,360.0 247.9,361.2 248.2,362.3 248.5,363.5 248.7,364.7 249.0,365.9 249.2,367.1 249.4,368.3 249.6,369.5 249.8,370.7 250.0,372.0 250.1,373.2 250.3,374.4 250.5,375.6 250.7,376.8 250.9,378.0 251.0,379.2 251.2,380.4 251.4,381.6 251.6,382.8 251.8,384.0 252.0,385.2 252.2,386.4 252.4,387.5 252.6,388.7 252.8,389.9 253.0,391.1 253.2,392.3 253.4,393.5 253.6,394.6 253.8,395.8 254.0,397.0 254.2,398.2 254.4,399.4 254.6,400.5 254.8,401.7 255.0,402.9 255.2,404.1 255.3,405.3 255.5,406.5 255.7,407.7 255.9,408.8 256.1,410.0 256.3,411.2 256.4,412.4 256.6,413.6 256.8,414.8 257.0,416.0 257.2,417.2 257.3,418.4 257.5,419.6 257.7,420.8 257.9,421.9 258.0,423.1 258.2,424.3 258.4,425.5 258.6,426.7 258.7,427.9 258.9,429.1 259.1,430.3 259.3,431.5 259.5,432.7 259.6,433.9 259.8,435.1 260.0,436.3 260.2,437.5 260.4,438.7 260.5,439.9 260.7,441.1 260.9,442.2 261.1,443.4 261.3,444.6 261.5,445.8 261.7,447.0 261.9,448.2 262.1,449.4 262.3,450.6 262.5,451.8 262.7,453.0 262.9,454.2 263.1,455.3 263.3,456.5 263.5,457.7 263.7,458.9 264.0,460.1 264.2,461.3 264.4,462.5 264.7,463.6 264.9,464.8 265.1,466.0 265.4,467.2 265.7,468.3 265.9,469.5 266.2,470.7 266.5,471.8 266.8,473.0 267.1,474.2 267.4,475.3 267.7,476.5 268.0,477.7 268.3,478.8 268.6,480.0 269.0,481.1 269.3,482.3 269.7,483.4 270.1,484.5 270.5,485.7 270.9,486.8 271.3,488.0 271.7,489.1 272.1,490.2 272.5,491.3 273.0,492.5 273.5,493.6 273.9,494.7 274.4,495.8 274.9,496.9 275.4,498.0 276.0,499.1 276.5,500.2 277.1,501.3 277.6,502.4 278.2,503.5 278.8,504.5 279.5,505.6 280.1,506.6 280.8,507.6 281.5,508.5 282.2,509.4 283.0,510.3 283.8,511.1 284.6,511.9 285.5,512.6 286.4,513.3 287.4,513.8 288.4,514.3 289.5,514.7 290.6,515.1 291.7,515.4 292.9,515.6 294.1,515.8 295.3,515.9 296.6,516.0 297.8,516.0 299.1,516.1 300.4,516.0 301.7,516.0 303.0,516.0 304.3,515.9 305.6,515.9 306.9,515.8 308.1,515.8 309.3,515.8 310.6,515.8 311.8,515.8 313.0,515.8 314.1,515.8 315.3,515.9 316.5,515.9 317.6,516.0 318.8,516.0 319.9,516.1 321.1,516.1 322.2,516.2 323.4,516.2 324.6,516.2 325.8,516.3 327.0,516.3 328.2,516.3 329.5,516.3 330.7,516.2 332.0,516.2" stroke="#ff0000"/>
<path d="M61.0,437.0 62.2,436.2 63.3,435.6 64.5,435.2 65.6,435.0 66.7,435.0 67.8,435.2 68.8,435.5 69.9,435.9 70.9,436.5 71.9,437.1 72.9,437.9 73.8,438.7 74.8,439.5 75.7,440.4 76.6,441.3 77.5,442.2 78.4,443.1 79.3,444.0 80.2,444.9 81.1,445.8 82.0,446.6 82.9,447.4 83.8,448.1 84.8,448.8 85.8,449.4 86.8,449.9 87.8,450.3 88.9,450.6 90.0,450.8 91.2,450.9 92.4,450.9 93.7,450.8 94.9,450.7 96.2,450.7 97.4,450.6 98.6,450.6 99.8,450.6 101.0,450.7 102.2,450.8 103.4,451.0 104.6,451.1 105.7,451.3 106.9,451.5 108.1,451.8 109.2,452.0 110.4,452.3 111.5,452.5 112.7,452.8 113.9,453.0 115.0,453.3 116.2,453.5 117.4,453.8 118.6,454.0 119.8,454.2 121.0,454.3 122.2,454.4 123.4,454.5 124.6,454.6 125.7,454.6 126.9,454.5 128.1,454.4 129.2,454.2 130.4,454.0 131.5,453.7 132.6,453.4 133.7,453.0 134.8,452.6 135.9,452.2 137.0,451.7 138.1,451.2 139.1,450.6 140.2,450.0 141.2,449.4 142.3,448.7 143.3,448.0 144.3,447.3 145.3,446.6 146.2,445.8 147.2,445.1 148.2,444.3 149.1,443.5 150.0,442.7 150.9,441.9 151.8,441.1 152.7,440.3 153.6,439.4 154.5,438.6 155.3,437.8 156.2,436.9 157.0,436.1 157.9,435.2 158.7,434.4 159.5,433.5 160.3,432.6 161.2,431.8 162.0,430.9 162.8,430.0 163.6,429.1 164.4,428.3 165.2,427.4 166.0,426.5 166.8,425.6 167.6,424.7 168.4,423.8 169.2,422.9 170.0,422.0 170.8,421.1 171.6,420.2 172.4,419.3 173.2,418.4 174.0,417.5 174.8,416.6 175.6,415.7 176.4,414.7 177.1,413.8 177.9,412.9 178.7,411.9 179.5,411.0 180.2,410.1 181.0,409.1 181.7,408.2 182.4,407.2 183.2,406.2 183.9,405.3 184.6,404.3 185.3,403.3 186.0,402.3 186.7,401.4 187.4,400.4 188.1,399.4 188.7,398.4 189.4,397.4 190.0,396.4 190.7,395.3 191.3,394.3 191.9,393.3 192.5,392.3 193.1,391.2 193.7,390.2 194.2,389.1 194.8,388.1 195.3,387.0 195.8,385.9 196.3,384.9 196.8,383.8 197.4,382.7 197.9,381.6 198.4,380.5 198.9,379.4 199.5,378.3 200.0,377.1 200.6,376.0 201.2,374.9 201.8,373.8 202.5,372.7 203.1,371.7 203.9,370.7 204.6,369.8 205.4,369.0 206.3,368.2 207.2,367.6 208.2,367.0 209.3,366.5 210.3,366.1 211.4,365.8 212.6,365.5 213.7,365.2 214.9,365.0 216.1,364.8 217.2,364.6 218.4,364.4 219.6,364.3 220.7,364.1 221.8,363.8 222.9,363.5 224.0,363.1 225.2,362.7 226.3,362.1 227.4,361.4 228.5,360.7 229.7,360.0 230.8,359.2 231.9,358.5 233.0,357.8 234.0,357.2 235.1,356.8 236.1,356.4 237.1,356.2 238.1,356.2 239.0,356.3 239.9,356.6 240.8,357.1 241.7,357.8 242.5,358.5 243.2,359.4 243.9,360.4 244.6,361.4 245.3,362.5 245.8,363.7 246.4,364.9 246.9,366.1 247.3,367.3 247.7,368.5 248.1,369.7 248.4,370.9 248.6,372.1 248.9,373.2 249.1,374.4 249.3,375.6 249.5,376.7 249.7,377.9 249.9,379.1 250.1,380.2 250.3,381.4 250.5,382.6 250.7,383.8 251.0,385.0 251.2,386.2 251.4,387.3 251.6,388.5 251.8,389.7 252.0,390.9 252.3,392.1 252.5,393.3 252.7,394.5 252.9,395.7 253.1,396.9 253.3,398.0 253.5,399.2 253.7,400.4 253.9,401.6 254.0,402.8 254.2,404.0 254.4,405.2 254.6,406.4 254.8,407.6 255.0,408.8 255.1,410.0 255.3,411.2 255.5,412.4 255.7,413.5 255.8,414.7 256.0,415.9 256.2,417.1 256.3,418.3 256.5,419.5 256.7,420.7 256.8,421.9 257.0,423.1 257.2,424.3 257.3,425.5 257.5,426.7 257.7,427.9 257.8,429.0 258.0,430.2 258.1,431.4 258.3,432.6 258.5,433.8 258.7,435.0 258.8,436.2 259.0,437.4 259.2,438.6 259.3,439.8 259.5,441.0 259.7,442.2 259.9,443.3 260.1,444.5 260.2,445.7 260.4,446.9 260.6,448.1 260.8,449.3 261.0,450.5 261.2,451.7 261.4,452.9 261.6,454.1 261.8,455.2 262.0,456.4 262.2,457.6 262.4,458.8 262.7,460.0 262.9,461.2 263.1,462.4 263.3,463.5 263.6,464.7 263.8,465.9 264.1,467.1 264.3,468.3 264.6,469.4 264.9,470.6 265.2,471.8 265.5,473.0 265.7,474.1 266.0,475.3 266.4,476.5 266.7,477.6 267.0,478.8 267.3,479.9 267.7,481.1 268.1,482.2 268.4,483.4 268.8,484.5 269.2,485.6 269.6,486.8 270.0,487.9 270.4,489.0 270.9,490.2 271.3,491.3 271.8,492.4 272.2,493.5 272.7,494.6 273.2,495.7 273.7,496.8 274.2,497.9 274.8,499.0 275.3,500.1 275.9,501.1 276.5,502.2 277.1,503.3 277.7,504.3 278.4,505.4 279.0,506.4 279.7,507.4 280.4,508.3 281.2,509.2 281.9,510.1 282.7,510.9 283.6,511.7 284.4,512.5 285.3,513.1 286.3,513.7 287.3,514.3 288.3,514.7 289.4,515.1 290.5,515.5 291.7,515.7 292.9,515.9 294.1,516.1 295.3,516.2 296.6,516.2 297.8,516.3 299.1,516.3 300.4,516.2 301.7,516.2 303.0,516.2 304.3,516.1 305.6,516.0 306.9,516.0 308.1,516.0 309.4,515.9 310.6,515.9 311.8,515.9 313.0,515.9 314.1,516.0 315.3,516.0 316.5,516.1 317.6,516.1 318.8,516.2 319.9,516.2 321.1,516.3 322.2,516.3 323.4,516.3 324.6,516.4 325.8,516.4 327.0,516.4 328.2,516.4 329.4,516.4 330.7,516.3 332.0,516.3" stroke="#0000ff"/>
<path d="M61.0,443.4 62.3,442.8 63.6,442.5 64.8,442.3 66.0,442.3 67.1,442.5 68.2,442.8 69.2,443.3 70.2,443.8 71.2,444.4 72.2,445.1 73.2,445.9 74.1,446.6 75.1,447.4 76.0,448.1 77.0,448.9 78.0,449.6 79.0,450.3 80.0,451.1 81.0,451.7 82.0,452.4 83.0,453.0 84.0,453.7 85.1,454.2 86.1,454.8 87.2,455.3 88.3,455.7 89.4,456.2 90.5,456.5 91.6,456.9 92.7,457.2 93.9,457.4 95.0,457.7 96.2,457.9 97.3,458.0 98.5,458.2 99.7,458.3 100.9,458.4 102.1,458.5 103.3,458.5 104.5,458.6 105.7,458.6 107.0,458.6 108.2,458.6 109.4,458.6 110.7,458.6 111.9,458.6 113.1,458.6 114.4,458.6 115.6,458.6 116.9,458.6 118.1,458.5 119.3,458.5 120.6,458.4 121.8,458.3 123.0,458.2 124.2,458.1 125.4,457.9 126.5,457.7 127.7,457.4 128.8,457.1 130.0,456.8 131.1,456.4 132.2,456.0 133.3,455.6 134.3,455.1 135.4,454.7 136.4,454.1 137.5,453.6 138.5,453.0 139.5,452.4 140.5,451.8 141.5,451.2 142.5,450.5 143.5,449.8 144.4,449.1 145.4,448.4 146.3,447.7 147.3,446.9 148.2,446.1 149.1,445.3 150.0,444.5 150.9,443.7 151.8,442.9 152.7,442.0 153.6,441.2 154.4,440.3 155.3,439.5 156.1,438.6 157.0,437.7 157.8,436.8 158.7,435.9 159.5,435.0 160.4,434.2 161.2,433.3 162.0,432.4 162.8,431.5 163.6,430.6 164.4,429.7 165.2,428.8 166.0,427.9 166.8,427.0 167.6,426.1 168.4,425.2 169.2,424.3 170.0,423.4 170.7,422.5 171.5,421.5 172.3,420.6 173.0,419.7 173.8,418.8 174.6,417.9 175.3,416.9 176.1,416.0 176.8,415.1 177.5,414.1 178.3,413.2 179.0,412.2 179.7,411.3 180.4,410.3 181.2,409.4 181.9,408.4 182.6,407.5 183.3,406.5 184.0,405.5 184.7,404.6 185.4,403.6 186.1,402.6 186.8,401.6 187.5,400.6 188.2,399.6 188.9,398.6 189.5,397.6 190.2,396.6 190.9,395.5 191.6,394.5 192.2,393.5 192.9,392.5 193.6,391.5 194.3,390.4 195.0,389.4 195.7,388.4 196.4,387.4 197.1,386.5 197.8,385.5 198.6,384.6 199.4,383.6 200.1,382.7 200.9,381.8 201.7,380.9 202.6,380.1 203.4,379.3 204.3,378.5 205.2,377.8 206.1,377.1 207.1,376.5 208.0,376.0 209.1,375.5 210.1,375.1 211.2,374.8 212.3,374.6 213.4,374.4 214.6,374.4 215.8,374.3 217.0,374.3 218.3,374.3 219.5,374.3 220.7,374.2 221.9,374.1 223.1,374.0 224.3,373.7 225.5,373.3 226.6,372.8 227.7,372.3 228.8,371.7 229.9,371.1 231.0,370.5 232.1,370.0 233.3,369.6 234.4,369.2 235.5,368.9 236.6,368.7 237.6,368.7 238.7,368.8 239.6,369.0 240.6,369.3 241.4,369.9 242.2,370.5 242.9,371.3 243.6,372.3 244.2,373.3 244.7,374.4 245.2,375.6 245.7,376.8 246.2,378.1 246.6,379.4 246.9,380.7 247.3,382.0 247.6,383.3 247.9,384.5 248.2,385.7 248.5,386.9 248.7,388.1 249.0,389.3 249.2,390.4 249.4,391.5 249.7,392.7 249.9,393.8 250.1,394.9 250.3,396.1 250.5,397.2 250.7,398.3 250.9,399.5 251.1,400.7 251.4,401.8 251.6,403.0 251.8,404.2 252.0,405.4 252.2,406.6 252.4,407.8 252.6,409.0 252.8,410.2 253.0,411.4 253.2,412.6 253.4,413.8 253.6,415.0 253.8,416.2 253.9,417.4 254.1,418.6 254.3,419.8 254.5,421.0 254.7,422.2 254.9,423.4 255.1,424.6 255.3,425.8 255.5,427.0 255.7,428.2 255.8,429.4 256.0,430.6 256.2,431.7 256.4,432.9 256.6,434.1 256.8,435.3 257.0,436.5 257.2,437.7 257.4,438.8 257.6,440.0 257.8,441.2 258.0,442.4 258.2,443.6 258.4,444.7 258.6,445.9 258.8,447.1 259.0,448.3 259.2,449.5 259.4,450.6 259.6,451.8 259.9,453.0 260.1,454.2 260.3,455.3 260.5,456.5 260.8,457.7 261.0,458.9 261.2,460.0 261.5,461.2 261.7,462.4 262.0,463.6 262.2,464.8 262.5,465.9 262.8,467.1 263.0,468.3 263.3,469.5 263.6,470.7 263.9,471.8 264.2,473.0 264.5,474.2 264.8,475.4 265.1,476.5 265.4,477.7 265.7,478.9 266.1,480.0 266.4,481.2 266.8,482.3 267.2,483.5 267.5,484.6 267.9,485.8 268.3,486.9 268.8,488.0 269.2,489.2 269.6,490.3 270.1,491.4 270.5,492.5 271.0,493.6 271.5,494.7 272.0,495.8 272.5,496.9 273.1,497.9 273.6,499.0 274.2,500.1 274.8,501.1 275.4,502.1 276.0,503.2 276.6,504.2 277.3,505.2 277.9,506.2 278.6,507.2 279.3,508.1 280.1,509.1 280.8,510.0 281.6,510.8 282.4,511.7 283.3,512.5 284.2,513.2 285.2,513.8 286.1,514.4 287.2,514.9 288.3,515.3 289.4,515.7 290.6,515.9 291.9,516.1 293.1,516.2 294.4,516.3 295.7,516.3 296.9,516.4 298.2,516.4 299.5,516.4 300.7,516.4 301.9,516.4 303.2,516.3 304.4,516.3 305.6,516.3 306.8,516.3 308.0,516.3 309.2,516.3 310.4,516.3 311.6,516.3 312.8,516.3 314.0,516.4 315.2,516.4 316.3,516.4 317.5,516.4 318.7,516.4 319.9,516.4 321.1,516.4 322.4,516.5 323.6,516.5 324.8,516.5 326.0,516.5 327.2,516.5 328.4,516.5 329.6,516.5 330.8,516.5 332.0,516.5" stroke="#ff8000"/>
<path d="M61.0,442.5 62.3,442.0 63.6,441.8 64.8,441.6 66.0,441.7 67.1,441.9 68.2,442.2 69.3,442.6 70.3,443.1 71.3,443.7 72.3,444.4 73.2,445.2 74.2,445.9 75.1,446.8 76.1,447.6 77.0,448.4 78.0,449.3 78.9,450.1 79.9,450.9 80.9,451.6 81.8,452.2 82.9,452.9 83.9,453.4 84.9,454.0 86.0,454.4 87.1,454.9 88.2,455.3 89.3,455.6 90.4,456.0 91.5,456.2 92.7,456.5 93.8,456.7 95.0,456.9 96.2,457.1 97.3,457.3 98.5,457.4 99.7,457.6 100.9,457.7 102.2,457.8 103.4,457.9 104.6,457.9 105.9,458.0 107.1,458.1 108.3,458.1 109.6,458.2 110.8,458.2 112.1,458.2 113.3,458.2 114.5,458.1 115.8,458.1 117.0,458.0 118.2,457.9 119.4,457.8 120.6,457.6 121.8,457.4 123.0,457.2 124.2,456.9 125.3,456.6 126.5,456.3 127.6,456.0 128.7,455.6 129.8,455.2 130.9,454.7 132.0,454.3 133.1,453.8 134.1,453.3 135.2,452.7 136.2,452.2 137.2,451.6 138.3,451.0 139.3,450.4 140.3,449.7 141.3,449.1 142.2,448.4 143.2,447.7 144.2,447.0 145.1,446.2 146.1,445.5 147.0,444.7 147.9,444.0 148.9,443.2 149.8,442.4 150.7,441.6 151.6,440.8 152.5,440.0 153.4,439.1 154.2,438.3 155.1,437.4 156.0,436.6 156.8,435.7 157.7,434.9 158.6,434.0 159.4,433.1 160.2,432.3 161.1,431.4 161.9,430.5 162.7,429.6 163.5,428.8 164.4,427.9 165.2,427.0 166.0,426.1 166.8,425.2 167.6,424.3 168.4,423.4 169.2,422.5 170.0,421.6 170.8,420.7 171.5,419.8 172.3,418.9 173.1,418.0 173.9,417.1 174.6,416.1 175.4,415.2 176.2,414.3 177.0,413.4 177.7,412.4 178.5,411.5 179.3,410.6 180.0,409.7 180.8,408.7 181.6,407.8 182.3,406.9 183.1,405.9 183.8,405.0 184.6,404.1 185.4,403.1 186.1,402.2 186.9,401.3 187.7,400.3 188.4,399.4 189.2,398.5 190.0,397.5 190.8,396.6 191.5,395.7 192.3,394.7 193.1,393.8 193.9,392.9 194.7,392.0 195.5,391.0 196.3,390.1 197.1,389.2 197.9,388.3 198.7,387.4 199.5,386.5 200.3,385.6 201.2,384.7 202.0,383.8 202.8,383.0 203.7,382.2 204.6,381.4 205.5,380.7 206.4,380.0 207.4,379.4 208.4,378.9 209.4,378.4 210.4,378.1 211.5,377.8 212.7,377.7 213.8,377.6 215.0,377.6 216.2,377.6 217.5,377.6 218.7,377.6 220.0,377.5 221.2,377.4 222.4,377.2 223.7,376.9 224.9,376.6 226.1,376.3 227.3,375.9 228.6,375.5 229.7,375.2 230.9,374.9 232.1,374.8 233.2,374.8 234.3,374.8 235.4,375.0 236.5,375.3 237.5,375.7 238.4,376.2 239.4,376.8 240.3,377.4 241.1,378.2 241.9,379.0 242.7,379.8 243.4,380.7 244.0,381.7 244.6,382.7 245.1,383.8 245.6,384.8 246.0,386.0 246.4,387.1 246.8,388.3 247.1,389.5 247.4,390.7 247.6,392.0 247.9,393.2 248.1,394.5 248.3,395.7 248.5,397.0 248.7,398.2 248.9,399.5 249.1,400.7 249.3,401.9 249.5,403.2 249.7,404.4 249.9,405.6 250.1,406.8 250.4,407.9 250.6,409.1 250.8,410.3 251.0,411.5 251.3,412.6 251.5,413.8 251.7,415.0 252.0,416.1 252.2,417.3 252.4,418.4 252.6,419.6 252.9,420.8 253.1,421.9 253.3,423.1 253.5,424.3 253.7,425.4 253.9,426.6 254.2,427.8 254.4,429.0 254.6,430.2 254.8,431.3 255.0,432.5 255.2,433.7 255.4,434.9 255.6,436.1 255.8,437.3 255.9,438.5 256.1,439.7 256.3,440.9 256.5,442.1 256.7,443.3 256.9,444.5 257.1,445.7 257.4,446.9 257.6,448.1 257.8,449.3 258.0,450.5 258.2,451.7 258.4,452.9 258.6,454.1 258.9,455.3 259.1,456.5 259.3,457.7 259.6,458.9 259.8,460.1 260.1,461.2 260.3,462.4 260.6,463.6 260.9,464.7 261.2,465.9 261.4,467.1 261.7,468.2 262.0,469.4 262.3,470.5 262.7,471.6 263.0,472.8 263.3,473.9 263.6,475.0 264.0,476.2 264.3,477.3 264.7,478.4 265.1,479.5 265.4,480.7 265.8,481.8 266.2,482.9 266.6,484.1 267.0,485.2 267.4,486.3 267.8,487.5 268.2,488.6 268.7,489.8 269.1,491.0 269.5,492.1 270.0,493.3 270.4,494.5 270.9,495.6 271.4,496.8 271.9,498.0 272.4,499.1 272.9,500.2 273.5,501.3 274.1,502.4 274.7,503.5 275.3,504.5 275.9,505.5 276.6,506.5 277.3,507.4 278.1,508.3 278.9,509.1 279.7,509.9 280.5,510.6 281.4,511.3 282.3,512.0 283.3,512.6 284.3,513.1 285.3,513.6 286.3,514.0 287.4,514.4 288.5,514.8 289.6,515.1 290.8,515.4 291.9,515.7 293.1,515.9 294.3,516.1 295.5,516.3 296.8,516.4 298.0,516.5 299.2,516.6 300.5,516.7 301.7,516.8 303.0,516.8 304.3,516.8 305.5,516.8 306.8,516.8 308.0,516.8 309.3,516.8 310.5,516.8 311.7,516.8 312.9,516.8 314.1,516.7 315.3,516.7 316.5,516.7 317.6,516.7 318.8,516.7 320.0,516.7 321.1,516.7 322.3,516.7 323.5,516.7 324.6,516.7 325.8,516.7 327.0,516.7 328.2,516.7 329.5,516.7 330.7,516.8 332.0,516.8" stroke="#8000ff"/>
<path d="M61.0,442.5 62.4,442.2 63.6,442.1 64.9,442.1 66.1,442.2 67.2,442.4 68.3,442.7 69.3,443.1 70.4,443.6 71.4,444.1 72.3,444.7 73.3,445.3 74.2,446.0 75.1,446.7 76.0,447.4 77.0,448.1 77.9,448.9 78.8,449.6 79.8,450.3 80.7,451.0 81.7,451.6 82.8,452.3 83.8,452.8 84.8,453.4 85.9,453.9 87.0,454.4 88.1,454.9 89.2,455.4 90.4,455.8 91.5,456.2 92.7,456.5 93.8,456.9 95.0,457.2 96.2,457.5 97.4,457.7 98.6,457.9 99.8,458.1 101.0,458.3 102.3,458.4 103.5,458.5 104.7,458.6 105.9,458.7 107.2,458.7 108.4,458.7 109.6,458.7 110.9,458.6 112.1,458.6 113.3,458.5 114.5,458.3 115.8,458.2 117.0,458.0 118.2,457.8 119.4,457.6 120.5,457.3 121.7,457.0 122.9,456.7 124.0,456.4 125.2,456.0 126.3,455.7 127.4,455.2 128.5,454.8 129.6,454.4 130.7,453.9 131.8,453.4 132.8,452.9 133.9,452.4 134.9,451.8 136.0,451.2 137.0,450.7 138.0,450.0 139.0,449.4 140.0,448.8 141.0,448.1 142.0,447.5 143.0,446.8 143.9,446.1 144.9,445.4 145.8,444.6 146.8,443.9 147.7,443.1 148.6,442.4 149.5,441.6 150.4,440.8 151.3,440.0 152.2,439.2 153.1,438.4 154.0,437.6 154.9,436.7 155.8,435.9 156.6,435.1 157.5,434.2 158.3,433.4 159.2,432.5 160.0,431.6 160.9,430.8 161.7,429.9 162.5,429.0 163.4,428.1 164.2,427.2 165.0,426.4 165.8,425.5 166.6,424.6 167.4,423.7 168.2,422.8 169.0,421.9 169.8,421.0 170.6,420.0 171.4,419.1 172.2,418.2 173.0,417.3 173.8,416.4 174.6,415.5 175.4,414.6 176.1,413.7 176.9,412.7 177.7,411.8 178.5,410.9 179.3,410.0 180.1,409.1 180.9,408.2 181.6,407.3 182.4,406.4 183.2,405.5 184.0,404.5 184.8,403.6 185.6,402.8 186.4,401.9 187.2,401.0 188.0,400.1 188.8,399.2 189.7,398.3 190.5,397.5 191.3,396.6 192.2,395.7 193.0,394.9 193.9,394.0 194.7,393.2 195.6,392.4 196.5,391.5 197.4,390.7 198.3,389.9 199.3,389.1 200.2,388.4 201.2,387.6 202.2,386.8 203.1,386.1 204.2,385.5 205.2,384.9 206.2,384.4 207.3,383.9 208.4,383.6 209.5,383.4 210.6,383.3 211.8,383.4 212.9,383.6 214.1,383.9 215.3,384.3 216.5,384.7 217.7,385.0 219.0,385.3 220.2,385.4 221.5,385.4 222.7,385.4 224.0,385.2 225.2,385.1 226.4,384.9 227.6,384.7 228.9,384.6 230.0,384.5 231.2,384.6 232.4,384.7 233.5,384.9 234.6,385.2 235.7,385.6 236.7,386.1 237.7,386.7 238.6,387.4 239.5,388.2 240.3,389.0 241.0,389.9 241.7,390.8 242.3,391.8 242.8,392.8 243.3,393.9 243.7,395.1 244.1,396.2 244.4,397.4 244.6,398.6 244.9,399.9 245.1,401.1 245.3,402.3 245.5,403.6 245.8,404.8 246.0,406.0 246.2,407.3 246.4,408.5 246.7,409.7 246.9,410.9 247.2,412.1 247.4,413.2 247.7,414.4 248.0,415.6 248.2,416.7 248.5,417.9 248.8,419.1 249.0,420.2 249.3,421.4 249.6,422.5 249.9,423.7 250.1,424.9 250.4,426.0 250.7,427.2 250.9,428.3 251.2,429.5 251.5,430.7 251.7,431.8 252.0,433.0 252.3,434.2 252.5,435.3 252.8,436.5 253.1,437.7 253.3,438.9 253.6,440.1 253.8,441.2 254.1,442.4 254.4,443.6 254.6,444.8 254.9,446.0 255.2,447.2 255.4,448.3 255.7,449.5 256.0,450.7 256.2,451.9 256.5,453.1 256.8,454.3 257.1,455.4 257.3,456.6 257.6,457.8 257.9,459.0 258.2,460.1 258.5,461.3 258.8,462.5 259.1,463.7 259.4,464.8 259.7,466.0 260.0,467.1 260.3,468.3 260.6,469.5 261.0,470.6 261.3,471.8 261.6,472.9 262.0,474.0 262.3,475.2 262.7,476.3 263.0,477.4 263.4,478.6 263.8,479.7 264.2,480.8 264.5,481.9 264.9,483.1 265.3,484.2 265.7,485.3 266.2,486.4 266.6,487.5 267.0,488.7 267.5,489.8 267.9,490.9 268.4,492.0 268.8,493.2 269.3,494.3 269.8,495.4 270.3,496.6 270.8,497.7 271.3,498.9 271.9,500.0 272.4,501.1 273.0,502.2 273.6,503.3 274.2,504.3 274.9,505.3 275.5,506.3 276.3,507.3 277.0,508.2 277.7,509.1 278.5,509.9 279.4,510.7 280.3,511.4 281.2,512.1 282.1,512.7 283.1,513.2 284.1,513.7 285.1,514.2 286.2,514.6 287.3,515.0 288.4,515.4 289.6,515.7 290.7,515.9 291.9,516.2 293.1,516.4 294.3,516.5 295.5,516.7 296.8,516.8 298.0,516.9 299.3,516.9 300.5,517.0 301.8,517.0 303.0,517.1 304.3,517.1 305.6,517.1 306.8,517.1 308.1,517.1 309.3,517.0 310.5,517.0 311.8,517.0 313.0,517.0 314.1,517.0 315.3,517.0 316.5,517.0 317.6,517.0 318.8,517.0 320.0,517.0 321.1,517.0 322.3,517.0 323.4,517.0 324.6,517.0 325.8,517.1 327.0,517.1 328.2,517.1 329.5,517.1 330.7,517.1 332.0,517.1" stroke="#00a0ff"/>
<path d="M61.0,441.2 62.3,440.9 63.6,440.8 64.7,440.9 65.9,441.2 66.9,441.7 67.9,442.3 68.9,443.0 69.9,443.8 70.8,444.6 71.7,445.6 72.6,446.5 73.4,447.5 74.3,448.4 75.2,449.3 76.1,450.1 77.1,450.8 78.0,451.5 79.0,452.1 80.0,452.7 81.1,453.1 82.1,453.6 83.2,454.0 84.3,454.3 85.3,454.7 86.5,455.0 87.6,455.2 88.7,455.5 89.9,455.7 91.0,455.9 92.2,456.1 93.4,456.3 94.6,456.5 95.7,456.7 96.9,456.8 98.2,456.9 99.4,457.1 100.6,457.2 101.8,457.2 103.0,457.3 104.3,457.4 105.5,457.4 106.7,457.4 107.9,457.4 109.2,457.3 110.4,457.3 111.6,457.2 112.8,457.1 114.0,457.0 115.3,456.8 116.5,456.7 117.7,456.5 118.9,456.3 120.0,456.0 121.2,455.8 122.4,455.5 123.5,455.2 124.7,454.8 125.8,454.5 126.9,454.1 128.0,453.7 129.1,453.2 130.2,452.7 131.3,452.3 132.4,451.7 133.4,451.2 134.5,450.6 135.5,450.0 136.5,449.4 137.5,448.8 138.5,448.2 139.5,447.5 140.5,446.8 141.5,446.1 142.4,445.4 143.4,444.7 144.3,444.0 145.3,443.2 146.2,442.5 147.1,441.7 148.0,440.9 148.9,440.1 149.8,439.3 150.7,438.5 151.6,437.6 152.5,436.8 153.4,436.0 154.2,435.1 155.1,434.3 156.0,433.4 156.8,432.6 157.7,431.7 158.5,430.8 159.4,430.0 160.2,429.1 161.0,428.3 161.9,427.4 162.7,426.5 163.5,425.6 164.4,424.8 165.2,423.9 166.0,423.0 166.8,422.1 167.6,421.3 168.4,420.4 169.3,419.5 170.1,418.6 170.9,417.7 171.7,416.9 172.5,416.0 173.3,415.1 174.2,414.2 175.0,413.4 175.8,412.5 176.6,411.6 177.5,410.7 178.3,409.9 179.1,409.0 179.9,408.1 180.8,407.3 181.6,406.4 182.5,405.6 183.3,404.7 184.2,403.9 185.0,403.0 185.9,402.2 186.8,401.3 187.6,400.5 188.5,399.6 189.4,398.8 190.3,398.0 191.2,397.2 192.1,396.3 193.0,395.5 194.0,394.7 194.9,393.9 195.8,393.1 196.8,392.3 197.7,391.6 198.7,390.9 199.7,390.2 200.7,389.6 201.7,389.1 202.7,388.6 203.7,388.2 204.8,387.9 205.8,387.6 206.9,387.5 208.0,387.5 209.1,387.6 210.3,387.8 211.4,388.2 212.6,388.7 213.7,389.3 214.9,389.8 216.1,390.4 217.3,391.0 218.5,391.5 219.7,391.9 220.9,392.3 222.1,392.5 223.3,392.8 224.5,393.0 225.7,393.1 226.9,393.3 228.1,393.5 229.2,393.7 230.4,394.0 231.5,394.4 232.5,394.8 233.5,395.3 234.4,395.9 235.2,396.6 235.9,397.4 236.6,398.3 237.2,399.3 237.7,400.3 238.3,401.4 238.8,402.6 239.2,403.7 239.7,404.9 240.1,406.1 240.5,407.2 240.9,408.4 241.3,409.6 241.7,410.8 242.1,411.9 242.5,413.1 242.8,414.3 243.2,415.4 243.5,416.6 243.9,417.8 244.3,418.9 244.6,420.1 244.9,421.3 245.3,422.4 245.6,423.6 245.9,424.8 246.3,425.9 246.6,427.1 246.9,428.2 247.2,429.4 247.5,430.5 247.8,431.7 248.2,432.9 248.5,434.0 248.8,435.2 249.1,436.3 249.4,437.5 249.7,438.6 250.0,439.8 250.3,440.9 250.6,442.1 250.9,443.2 251.3,444.4 251.6,445.5 251.9,446.7 252.2,447.9 252.5,449.0 252.9,450.2 253.2,451.3 253.5,452.5 253.8,453.6 254.2,454.8 254.5,455.9 254.9,457.1 255.2,458.2 255.5,459.4 255.9,460.6 256.2,461.7 256.6,462.9 257.0,464.0 257.3,465.2 257.7,466.3 258.0,467.5 258.4,468.6 258.8,469.8 259.1,470.9 259.5,472.1 259.9,473.2 260.3,474.4 260.6,475.5 261.0,476.7 261.4,477.8 261.8,479.0 262.2,480.1 262.6,481.2 263.0,482.4 263.4,483.5 263.8,484.7 264.2,485.8 264.6,487.0 265.0,488.1 265.4,489.2 265.8,490.3 266.3,491.5 266.7,492.6 267.2,493.7 267.7,494.8 268.2,495.9 268.7,497.0 269.2,498.0 269.8,499.1 270.4,500.1 271.0,501.2 271.6,502.2 272.2,503.2 272.9,504.2 273.6,505.1 274.3,506.1 275.1,507.0 275.9,507.9 276.7,508.8 277.6,509.6 278.4,510.5 279.3,511.2 280.2,512.0 281.2,512.7 282.2,513.3 283.2,513.9 284.2,514.5 285.3,514.9 286.3,515.4 287.4,515.8 288.5,516.1 289.7,516.4 290.8,516.7 292.0,516.9 293.2,517.0 294.4,517.2 295.6,517.3 296.8,517.4 298.1,517.4 299.3,517.4 300.5,517.5 301.8,517.5 303.0,517.4 304.3,517.4 305.5,517.4 306.8,517.3 308.0,517.3 309.3,517.3 310.5,517.2 311.7,517.2 312.9,517.2 314.1,517.2 315.3,517.2 316.5,517.3 317.6,517.3 318.8,517.4 320.0,517.4 321.1,517.4 322.3,517.5 323.5,517.5 324.7,517.6 325.9,517.6 327.1,517.6 328.3,517.6 329.5,517.6 330.7,517.6 332.0,517.5" stroke="#33ee33"/>
<path d="M61.0,442.0 62.3,441.6 63.6,441.4 64.8,441.4 65.9,441.6 66.9,442.0 68.0,442.5 68.9,443.2 69.9,444.0 70.8,444.8 71.7,445.7 72.6,446.6 73.5,447.5 74.3,448.4 75.2,449.3 76.2,450.1 77.1,450.9 78.1,451.6 79.1,452.2 80.1,452.7 81.2,453.2 82.2,453.7 83.3,454.1 84.4,454.4 85.5,454.8 86.6,455.1 87.8,455.3 88.9,455.6 90.1,455.8 91.3,456.0 92.5,456.2 93.6,456.3 94.8,456.5 96.0,456.6 97.3,456.7 98.5,456.8 99.7,456.9 100.9,456.9 102.1,456.9 103.3,456.9 104.6,456.9 105.8,456.9 107.0,456.8 108.2,456.7 109.5,456.6 110.7,456.5 111.9,456.3 113.1,456.2 114.3,456.0 115.5,455.7 116.6,455.5 117.8,455.2 119.0,454.9 120.1,454.5 121.3,454.2 122.4,453.8 123.5,453.4 124.6,453.0 125.7,452.5 126.8,452.0 127.9,451.6 129.0,451.0 130.1,450.5 131.1,449.9 132.2,449.4 133.2,448.8 134.2,448.2 135.2,447.5 136.2,446.9 137.2,446.2 138.2,445.6 139.2,444.9 140.2,444.2 141.2,443.5 142.1,442.7 143.1,442.0 144.0,441.3 145.0,440.5 145.9,439.7 146.8,438.9 147.7,438.2 148.6,437.4 149.5,436.6 150.4,435.7 151.3,434.9 152.2,434.1 153.1,433.3 153.9,432.4 154.8,431.6 155.7,430.8 156.5,429.9 157.4,429.1 158.2,428.2 159.1,427.4 159.9,426.5 160.7,425.7 161.6,424.8 162.4,423.9 163.3,423.1 164.1,422.2 164.9,421.4 165.8,420.5 166.6,419.6 167.4,418.8 168.3,417.9 169.1,417.1 170.0,416.2 170.8,415.4 171.7,414.5 172.6,413.7 173.4,412.9 174.3,412.0 175.2,411.2 176.1,410.4 176.9,409.6 177.8,408.7 178.7,407.9 179.7,407.1 180.6,406.3 181.5,405.6 182.5,404.8 183.4,404.0 184.4,403.2 185.3,402.5 186.3,401.7 187.3,401.0 188.3,400.3 189.3,399.6 190.4,398.9 191.4,398.2 192.5,397.6 193.5,397.0 194.6,396.5 195.6,396.0 196.7,395.6 197.8,395.2 198.8,394.9 199.9,394.6 201.0,394.5 202.1,394.4 203.1,394.4 204.2,394.5 205.3,394.7 206.3,395.0 207.4,395.4 208.4,395.9 209.4,396.5 210.5,397.2 211.5,398.0 212.5,398.9 213.6,399.7 214.6,400.5 215.6,401.3 216.7,402.0 217.8,402.7 218.9,403.3 220.0,403.8 221.1,404.3 222.3,404.7 223.5,405.1 224.6,405.5 225.8,405.9 226.9,406.4 228.0,406.9 229.0,407.4 230.1,408.0 231.0,408.6 231.9,409.4 232.7,410.2 233.4,411.1 234.0,412.1 234.7,413.1 235.3,414.2 235.9,415.3 236.4,416.3 237.0,417.4 237.5,418.5 238.1,419.6 238.6,420.7 239.1,421.8 239.6,422.9 240.1,424.0 240.6,425.1 241.0,426.2 241.5,427.3 241.9,428.4 242.4,429.5 242.8,430.6 243.3,431.8 243.7,432.9 244.1,434.0 244.5,435.1 244.9,436.3 245.3,437.4 245.7,438.5 246.1,439.7 246.5,440.8 246.8,442.0 247.2,443.1 247.6,444.2 248.0,445.4 248.3,446.5 248.7,447.7 249.0,448.8 249.4,450.0 249.7,451.1 250.1,452.3 250.4,453.4 250.8,454.6 251.1,455.7 251.4,456.9 251.8,458.0 252.1,459.2 252.5,460.3 252.8,461.5 253.2,462.6 253.5,463.8 253.8,465.0 254.2,466.1 254.5,467.3 254.9,468.4 255.2,469.6 255.6,470.7 256.0,471.9 256.3,473.0 256.7,474.2 257.1,475.3 257.5,476.5 257.8,477.6 258.2,478.7 258.6,479.9 259.0,481.0 259.4,482.2 259.8,483.3 260.3,484.4 260.7,485.6 261.1,486.7 261.6,487.8 262.0,489.0 262.5,490.1 262.9,491.2 263.4,492.3 263.9,493.4 264.4,494.5 264.9,495.6 265.5,496.7 266.0,497.8 266.6,498.9 267.2,499.9 267.8,501.0 268.4,502.0 269.0,503.0 269.7,503.9 270.4,504.9 271.1,505.8 271.9,506.8 272.7,507.7 273.5,508.5 274.3,509.4 275.1,510.2 276.0,510.9 276.9,511.7 277.9,512.4 278.8,513.1 279.8,513.7 280.8,514.3 281.9,514.8 282.9,515.3 284.0,515.8 285.1,516.2 286.2,516.6 287.3,516.9 288.5,517.2 289.6,517.4 290.8,517.6 292.0,517.8 293.2,517.9 294.4,518.0 295.6,518.1 296.9,518.1 298.1,518.1 299.3,518.2 300.6,518.2 301.8,518.1 303.1,518.1 304.3,518.1 305.5,518.1 306.8,518.0 308.0,518.0 309.3,518.0 310.5,517.9 311.7,517.9 312.9,517.9 314.1,517.9 315.3,517.9 316.5,518.0 317.6,518.0 318.8,518.1 320.0,518.1 321.1,518.2 322.3,518.2 323.5,518.2 324.7,518.3 325.9,518.3 327.1,518.3 328.3,518.3 329.5,518.3 330.7,518.3 332.0,518.2" stroke="#800080"/>
<path d="M61.0,441.2 62.4,441.0 63.6,440.9 64.8,441.1 65.9,441.4 67.0,441.8 68.0,442.4 68.9,443.0 69.9,443.8 70.8,444.6 71.6,445.4 72.5,446.3 73.4,447.2 74.2,448.1 75.1,449.0 76.0,449.8 77.0,450.5 78.0,451.3 79.0,451.9 80.0,452.6 81.1,453.1 82.1,453.7 83.2,454.1 84.4,454.6 85.5,455.0 86.6,455.3 87.8,455.6 88.9,455.9 90.1,456.2 91.3,456.4 92.5,456.5 93.6,456.7 94.8,456.7 96.0,456.8 97.2,456.8 98.4,456.8 99.6,456.8 100.8,456.7 102.0,456.6 103.2,456.5 104.4,456.3 105.6,456.1 106.8,455.9 108.0,455.7 109.2,455.4 110.3,455.1 111.5,454.8 112.7,454.4 113.8,454.1 115.0,453.7 116.1,453.3 117.2,452.8 118.4,452.4 119.5,451.9 120.6,451.4 121.7,450.9 122.7,450.4 123.8,449.8 124.9,449.3 125.9,448.7 126.9,448.1 128.0,447.5 129.0,446.9 130.0,446.3 131.0,445.6 132.0,444.9 133.0,444.3 134.0,443.6 135.0,442.9 135.9,442.2 136.9,441.5 137.8,440.7 138.8,440.0 139.7,439.2 140.7,438.5 141.6,437.7 142.5,436.9 143.5,436.1 144.4,435.3 145.3,434.6 146.2,433.7 147.1,432.9 148.0,432.1 148.9,431.3 149.8,430.5 150.7,429.7 151.6,428.8 152.5,428.0 153.4,427.2 154.2,426.3 155.1,425.5 156.0,424.7 156.9,423.8 157.8,423.0 158.7,422.2 159.6,421.3 160.4,420.5 161.3,419.7 162.2,418.9 163.1,418.1 164.0,417.3 164.9,416.5 165.9,415.7 166.8,414.9 167.7,414.1 168.6,413.4 169.6,412.6 170.5,411.9 171.5,411.1 172.4,410.4 173.4,409.7 174.4,409.0 175.3,408.3 176.3,407.7 177.3,407.0 178.3,406.4 179.4,405.8 180.4,405.2 181.5,404.6 182.5,404.0 183.6,403.5 184.7,403.0 185.8,402.5 186.9,402.0 188.0,401.5 189.2,401.1 190.3,400.7 191.5,400.3 192.6,400.0 193.8,399.8 194.9,399.7 196.0,399.6 197.2,399.6 198.3,399.7 199.3,400.0 200.4,400.4 201.4,400.8 202.4,401.5 203.3,402.3 204.2,403.1 205.1,404.1 205.9,405.1 206.8,406.0 207.6,407.0 208.4,407.9 209.2,408.8 210.1,409.7 210.9,410.5 211.8,411.3 212.7,412.1 213.7,412.9 214.7,413.6 215.6,414.3 216.6,415.0 217.6,415.7 218.6,416.4 219.7,417.1 220.7,417.8 221.7,418.5 222.7,419.1 223.7,419.8 224.7,420.5 225.7,421.2 226.6,421.9 227.6,422.7 228.5,423.4 229.4,424.2 230.3,425.0 231.1,425.8 231.9,426.7 232.7,427.5 233.4,428.4 234.2,429.3 234.9,430.3 235.5,431.2 236.2,432.2 236.8,433.2 237.4,434.2 238.0,435.3 238.5,436.3 239.1,437.4 239.6,438.5 240.1,439.6 240.6,440.7 241.1,441.8 241.5,442.9 242.0,444.1 242.4,445.2 242.9,446.4 243.3,447.5 243.7,448.7 244.1,449.9 244.5,451.1 244.8,452.2 245.2,453.4 245.6,454.6 246.0,455.8 246.3,456.9 246.7,458.1 247.1,459.3 247.4,460.4 247.8,461.6 248.2,462.8 248.5,463.9 248.9,465.0 249.3,466.2 249.6,467.3 250.0,468.5 250.4,469.6 250.8,470.7 251.2,471.8 251.6,472.9 252.0,474.1 252.4,475.2 252.8,476.3 253.2,477.4 253.6,478.5 254.0,479.6 254.4,480.7 254.8,481.8 255.3,482.9 255.7,484.1 256.2,485.2 256.6,486.3 257.1,487.4 257.5,488.5 258.0,489.6 258.5,490.7 258.9,491.8 259.4,493.0 259.9,494.1 260.4,495.2 260.9,496.3 261.4,497.5 262.0,498.6 262.5,499.7 263.1,500.8 263.7,501.9 264.3,503.0 264.9,504.0 265.5,505.1 266.2,506.1 266.9,507.1 267.6,508.0 268.4,508.9 269.2,509.7 270.0,510.6 270.8,511.3 271.8,512.0 272.7,512.7 273.7,513.3 274.7,513.8 275.7,514.3 276.8,514.8 277.9,515.2 279.0,515.6 280.2,516.0 281.4,516.3 282.5,516.6 283.7,516.8 284.9,517.1 286.1,517.3 287.4,517.4 288.6,517.6 289.8,517.7 291.0,517.8 292.2,517.9 293.5,518.0 294.7,518.0 295.9,518.1 297.1,518.1 298.3,518.2 299.5,518.2 300.7,518.2 301.9,518.2 303.1,518.2 304.3,518.2 305.5,518.2 306.7,518.2 307.9,518.2 309.1,518.1 310.3,518.1 311.5,518.1 312.7,518.1 313.9,518.1 315.1,518.1 316.3,518.2 317.5,518.2 318.7,518.2 319.9,518.2 321.1,518.2 322.4,518.3 323.6,518.3 324.8,518.3 326.0,518.3 327.2,518.3 328.4,518.3 329.6,518.3 330.8,518.3 332.0,518.3" stroke="#006400"/>
</g>
<rect x="61.00" y="321.60" width="270.60" height="199.50" fill="none" stroke="#000" stroke-width="1.6"/>
<line x1="57.00" y1="516.60" x2="61.00" y2="516.60" stroke="#000" stroke-width="1.5"/>
<text x="52.50" y="520.80" font-size="12.00" text-anchor="end" fill="#000" >0.0</text>
<line x1="57.00" y1="451.60" x2="61.00" y2="451.60" stroke="#000" stroke-width="1.5"/>
<text x="52.50" y="455.80" font-size="12.00" text-anchor="end" fill="#000" >0.2</text>
<line x1="57.00" y1="386.60" x2="61.00" y2="386.60" stroke="#000" stroke-width="1.5"/>
<text x="52.50" y="390.80" font-size="12.00" text-anchor="end" fill="#000" >0.4</text>
<line x1="57.00" y1="321.60" x2="61.00" y2="321.60" stroke="#000" stroke-width="1.5"/>
<text x="52.50" y="325.80" font-size="12.00" text-anchor="end" fill="#000" >0.6</text>
<line x1="58.70" y1="484.10" x2="61.00" y2="484.10" stroke="#000" stroke-width="1.5"/>
<line x1="58.70" y1="419.10" x2="61.00" y2="419.10" stroke="#000" stroke-width="1.5"/>
<line x1="58.70" y1="354.10" x2="61.00" y2="354.10" stroke="#000" stroke-width="1.5"/>
<line x1="94.83" y1="521.10" x2="94.83" y2="525.10" stroke="#000" stroke-width="1.5"/>
<text x="94.83" y="539.00" font-size="12.00" text-anchor="middle" fill="#000" >400</text>
<line x1="162.47" y1="521.10" x2="162.47" y2="525.10" stroke="#000" stroke-width="1.5"/>
<text x="162.47" y="539.00" font-size="12.00" text-anchor="middle" fill="#000" >500</text>
<line x1="230.12" y1="521.10" x2="230.12" y2="525.10" stroke="#000" stroke-width="1.5"/>
<text x="230.12" y="539.00" font-size="12.00" text-anchor="middle" fill="#000" >600</text>
<line x1="297.77" y1="521.10" x2="297.77" y2="525.10" stroke="#000" stroke-width="1.5"/>
<text x="297.77" y="539.00" font-size="12.00" text-anchor="middle" fill="#000" >700</text>
<line x1="128.65" y1="521.10" x2="128.65" y2="523.40" stroke="#000" stroke-width="1.5"/>
<line x1="196.30" y1="521.10" x2="196.30" y2="523.40" stroke="#000" stroke-width="1.5"/>
<line x1="263.95" y1="521.10" x2="263.95" y2="523.40" stroke="#000" stroke-width="1.5"/>
<text x="196.30" y="555.10" font-size="11.50" text-anchor="middle" fill="#000" >Wavelength (nm)</text>
<text transform="translate(27.00,421.00) rotate(-90)" font-size="11.5" text-anchor="middle">Absorbance (a.u.)</text>
<text x="112.30" y="345.60" font-size="13.20" text-anchor="start" fill="#ff0000" >25 °C</text>
<line x1="272.00" y1="331.00" x2="294.00" y2="331.00" stroke="#000000" stroke-width="1.7"/>
<text x="298.60" y="334.60" font-size="10.00" text-anchor="start" fill="#000" >20 °C</text>
<line x1="272.00" y1="345.00" x2="294.00" y2="345.00" stroke="#ff0000" stroke-width="1.7"/>
<text x="298.60" y="348.60" font-size="10.00" text-anchor="start" fill="#000" >30 °C</text>
<line x1="272.00" y1="359.00" x2="294.00" y2="359.00" stroke="#0000ff" stroke-width="1.7"/>
<text x="298.60" y="362.60" font-size="10.00" text-anchor="start" fill="#000" >40 °C</text>
<line x1="272.00" y1="373.00" x2="294.00" y2="373.00" stroke="#ff8000" stroke-width="1.7"/>
<text x="298.60" y="376.60" font-size="10.00" text-anchor="start" fill="#000" >50 °C</text>
<line x1="272.00" y1="387.00" x2="294.00" y2="387.00" stroke="#8000ff" stroke-width="1.7"/>
<text x="298.60" y="390.60" font-size="10.00" text-anchor="start" fill="#000" >60 °C</text>
<line x1="272.00" y1="401.00" x2="294.00" y2="401.00" stroke="#00a0ff" stroke-width="1.7"/>
<text x="298.60" y="404.60" font-size="10.00" text-anchor="start" fill="#000" >70 °C</text>
<line x1="272.00" y1="415.00" x2="294.00" y2="415.00" stroke="#33ee33" stroke-width="1.7"/>
<text x="298.60" y="418.60" font-size="10.00" text-anchor="start" fill="#000" >80 °C</text>
<line x1="272.00" y1="429.00" x2="294.00" y2="429.00" stroke="#800080" stroke-width="1.7"/>
<text x="298.60" y="432.60" font-size="10.00" text-anchor="start" fill="#000" >90 °C</text>
<line x1="272.00" y1="443.00" x2="294.00" y2="443.00" stroke="#006400" stroke-width="1.7"/>
<text x="298.60" y="446.60" font-size="10.00" text-anchor="start" fill="#000" >100 °C</text>
<rect x="68.00" y="495.20" width="42.80" height="23.10" fill="#000"/>
<rect x="65.00" y="492.20" width="42.80" height="23.10" fill="#fff" stroke="#888" stroke-width="0.8"/>
<text x="86.40" y="509.55" font-size="13.10" text-anchor="middle" fill="#000" >PM6</text>
<text x="360.60" y="322.00" font-size="16.50" text-anchor="start" fill="#000" >c</text>
<rect x="427.80" y="334.20" width="26.60" height="98.30" fill="#000" opacity="0.62" filter="url(#shad)"/>
<rect x="420.15" y="326.55" width="25.90" height="97.60" fill="#b2b2ba" stroke="#6a6a72" stroke-width="0.7"/>
<rect x="420.20" y="326.20" width="25.80" height="6.80" fill="#f4f4f0"/>
<rect x="422.40" y="333.00" width="21.40" height="17.00" fill="#dadbe8"/>
<rect x="422.60" y="350.00" width="21.00" height="16.00" fill="#d4d6d2"/>
<rect x="426.80" y="352.00" width="12.60" height="12.00" fill="#e2e4e0"/>
<rect x="423.00" y="366.00" width="20.20" height="54.00" fill="url(#liqC)"/>
<rect x="420.30" y="420.00" width="25.60" height="4.10" fill="#a49cb0"/>
<clipPath id="clipc"><rect x="408.60" y="322.40" width="275.40" height="198.20"/></clipPath>
<g clip-path="url(#clipc)" fill="none" stroke-width="1.75" stroke-linejoin="round" stroke-linecap="round">
<path d="M409.0,439.3 410.3,438.8 411.5,438.5 412.7,438.4 413.8,438.4 414.9,438.5 416.0,438.7 417.1,439.0 418.2,439.4 419.2,439.9 420.3,440.5 421.3,441.2 422.3,441.8 423.3,442.5 424.3,443.3 425.3,444.0 426.3,444.8 427.3,445.5 428.4,446.3 429.4,446.9 430.4,447.6 431.5,448.2 432.6,448.7 433.7,449.2 434.8,449.6 435.9,449.9 437.1,450.1 438.2,450.4 439.4,450.5 440.6,450.6 441.8,450.7 443.0,450.8 444.2,450.8 445.4,450.8 446.6,450.7 447.8,450.7 449.0,450.6 450.3,450.5 451.5,450.4 452.7,450.4 453.9,450.3 455.1,450.2 456.4,450.1 457.6,450.1 458.8,450.0 460.0,449.9 461.2,449.9 462.4,449.8 463.6,449.7 464.7,449.7 465.9,449.6 467.1,449.5 468.3,449.4 469.5,449.3 470.7,449.2 471.9,449.1 473.1,448.9 474.3,448.8 475.5,448.6 476.7,448.4 477.9,448.1 479.1,447.8 480.2,447.4 481.2,446.9 482.3,446.4 483.3,445.7 484.2,445.0 485.1,444.3 486.1,443.5 487.0,442.7 487.9,441.9 488.8,441.1 489.7,440.4 490.6,439.6 491.6,438.8 492.5,438.0 493.4,437.2 494.3,436.4 495.2,435.6 496.1,434.8 497.0,434.0 497.9,433.2 498.8,432.4 499.6,431.5 500.5,430.7 501.3,429.8 502.2,429.0 503.0,428.1 503.9,427.2 504.7,426.4 505.5,425.5 506.3,424.6 507.1,423.7 507.9,422.8 508.7,421.9 509.5,421.0 510.3,420.1 511.1,419.2 512.0,418.3 512.8,417.5 513.6,416.6 514.4,415.7 515.2,414.8 516.0,413.9 516.9,413.0 517.7,412.2 518.5,411.3 519.4,410.4 520.2,409.6 521.1,408.7 521.9,407.8 522.8,407.0 523.6,406.1 524.4,405.2 525.3,404.3 526.1,403.5 526.9,402.6 527.7,401.7 528.4,400.8 529.2,399.8 529.9,398.9 530.7,397.9 531.4,397.0 532.0,396.0 532.7,395.0 533.3,394.0 534.0,392.9 534.6,391.9 535.2,390.9 535.7,389.8 536.3,388.7 536.9,387.7 537.4,386.6 537.9,385.5 538.4,384.4 538.9,383.4 539.4,382.3 539.9,381.2 540.4,380.1 540.8,379.0 541.3,377.9 541.8,376.8 542.2,375.7 542.7,374.6 543.2,373.5 543.6,372.4 544.1,371.3 544.6,370.2 545.1,369.1 545.5,368.0 546.0,366.8 546.5,365.7 547.1,364.6 547.6,363.5 548.1,362.4 548.7,361.3 549.2,360.2 549.8,359.1 550.4,358.0 551.0,357.0 551.7,355.9 552.3,354.9 553.0,353.9 553.7,352.9 554.4,352.0 555.2,351.1 555.9,350.2 556.7,349.3 557.6,348.6 558.4,347.8 559.3,347.1 560.2,346.5 561.2,345.9 562.2,345.3 563.2,344.9 564.2,344.5 565.3,344.1 566.4,343.9 567.6,343.7 568.8,343.6 570.1,343.5 571.4,343.5 572.7,343.6 573.9,343.6 575.2,343.5 576.4,343.2 577.6,342.9 578.8,342.5 580.0,342.0 581.2,341.5 582.4,341.0 583.5,340.6 584.7,340.2 585.7,340.0 586.7,340.0 587.6,340.1 588.5,340.5 589.2,341.0 589.9,341.6 590.5,342.4 591.1,343.3 591.7,344.3 592.1,345.4 592.6,346.5 593.0,347.7 593.5,348.9 593.9,350.1 594.3,351.3 594.6,352.5 595.0,353.7 595.4,354.9 595.7,356.0 596.1,357.2 596.4,358.4 596.7,359.6 597.0,360.8 597.3,362.0 597.6,363.2 597.9,364.4 598.2,365.5 598.5,366.7 598.7,367.9 599.0,369.1 599.3,370.3 599.5,371.5 599.8,372.6 600.0,373.8 600.2,375.0 600.4,376.2 600.7,377.4 600.9,378.6 601.1,379.7 601.3,380.9 601.5,382.1 601.7,383.3 601.9,384.4 602.1,385.6 602.3,386.8 602.5,388.0 602.7,389.2 602.9,390.3 603.0,391.5 603.2,392.7 603.4,393.9 603.6,395.1 603.8,396.2 603.9,397.4 604.1,398.6 604.3,399.8 604.5,401.0 604.7,402.1 604.8,403.3 605.0,404.5 605.2,405.7 605.4,406.9 605.6,408.1 605.8,409.2 606.0,410.4 606.2,411.6 606.4,412.8 606.6,414.0 606.8,415.2 607.0,416.4 607.2,417.6 607.4,418.7 607.6,419.9 607.8,421.1 608.0,422.3 608.3,423.5 608.5,424.7 608.7,425.9 608.9,427.1 609.2,428.2 609.4,429.4 609.6,430.6 609.9,431.8 610.1,433.0 610.3,434.2 610.6,435.4 610.8,436.6 611.1,437.7 611.3,438.9 611.6,440.1 611.9,441.3 612.1,442.5 612.4,443.7 612.6,444.9 612.9,446.0 613.2,447.2 613.4,448.4 613.7,449.6 614.0,450.8 614.3,451.9 614.5,453.1 614.8,454.3 615.1,455.5 615.3,456.6 615.6,457.8 615.9,459.0 616.1,460.1 616.4,461.3 616.7,462.4 616.9,463.6 617.2,464.7 617.4,465.9 617.7,467.1 618.0,468.2 618.2,469.4 618.5,470.5 618.8,471.7 619.1,472.8 619.3,474.0 619.6,475.1 619.9,476.3 620.2,477.4 620.5,478.6 620.8,479.8 621.1,480.9 621.4,482.1 621.7,483.3 622.0,484.4 622.3,485.6 622.7,486.8 623.0,488.0 623.3,489.2 623.7,490.4 624.1,491.6 624.4,492.8 624.8,493.9 625.2,495.1 625.6,496.3 626.1,497.5 626.5,498.6 627.0,499.8 627.5,500.9 628.0,502.0 628.6,503.1 629.1,504.2 629.7,505.2 630.4,506.2 631.0,507.1 631.7,508.0 632.5,508.9 633.3,509.7 634.1,510.5 634.9,511.3 635.8,512.0 636.8,512.6 637.8,513.2 638.8,513.7 639.8,514.2 640.9,514.7 642.0,515.1 643.1,515.5 644.3,515.8 645.4,516.2 646.6,516.4 647.8,516.7 649.0,516.9 650.2,517.1 651.4,517.3 652.7,517.4 653.9,517.6 655.1,517.7 656.4,517.8 657.6,517.8 658.8,517.9 660.0,518.0 661.2,518.0 662.4,518.0 663.6,518.0 664.8,518.1 666.0,518.1 667.2,518.1 668.4,518.1 669.6,518.1 670.7,518.1 671.9,518.1 673.1,518.1 674.3,518.1 675.5,518.1 676.7,518.1 677.9,518.1 679.1,518.1 680.3,518.2 681.5,518.2 682.8,518.3 684.0,518.4" stroke="#000000"/>
<path d="M409.0,439.0 410.2,438.4 411.4,438.1 412.6,437.8 413.7,437.8 414.8,437.8 415.9,438.1 417.0,438.4 418.1,438.8 419.1,439.3 420.1,439.9 421.2,440.6 422.2,441.3 423.2,442.0 424.2,442.8 425.2,443.6 426.3,444.4 427.3,445.2 428.3,445.9 429.3,446.7 430.4,447.3 431.4,448.0 432.5,448.5 433.6,449.0 434.7,449.4 435.8,449.7 436.9,449.9 438.0,450.1 439.2,450.3 440.3,450.4 441.5,450.4 442.7,450.4 443.9,450.4 445.1,450.4 446.3,450.3 447.5,450.3 448.7,450.2 449.9,450.1 451.1,450.1 452.4,450.0 453.6,450.0 454.9,450.0 456.1,450.0 457.3,450.0 458.6,450.0 459.8,450.0 461.1,450.0 462.3,450.0 463.5,450.0 464.8,450.0 466.0,450.0 467.2,450.0 468.4,449.9 469.6,449.8 470.8,449.7 471.9,449.5 473.1,449.3 474.2,449.0 475.4,448.7 476.5,448.4 477.6,448.0 478.6,447.5 479.7,447.1 480.8,446.5 481.8,446.0 482.8,445.4 483.9,444.8 484.9,444.2 485.9,443.5 486.8,442.8 487.8,442.1 488.8,441.4 489.7,440.6 490.7,439.9 491.6,439.1 492.5,438.3 493.4,437.5 494.3,436.7 495.2,435.8 496.1,435.0 497.0,434.2 497.8,433.3 498.7,432.5 499.5,431.6 500.4,430.8 501.2,429.9 502.0,429.0 502.9,428.2 503.7,427.3 504.5,426.4 505.4,425.6 506.2,424.7 507.0,423.8 507.8,422.9 508.6,422.0 509.4,421.1 510.3,420.3 511.1,419.4 511.9,418.5 512.7,417.6 513.5,416.7 514.4,415.8 515.2,415.0 516.0,414.1 516.9,413.2 517.7,412.3 518.5,411.4 519.4,410.6 520.2,409.7 521.0,408.8 521.9,407.9 522.7,407.0 523.5,406.1 524.3,405.2 525.1,404.3 525.9,403.4 526.7,402.5 527.5,401.6 528.3,400.7 529.0,399.7 529.8,398.8 530.5,397.8 531.2,396.9 532.0,395.9 532.7,395.0 533.3,394.0 534.0,393.0 534.7,392.0 535.3,391.0 535.9,390.0 536.5,389.0 537.1,387.9 537.6,386.9 538.2,385.8 538.7,384.8 539.2,383.7 539.7,382.6 540.2,381.5 540.7,380.4 541.2,379.3 541.7,378.3 542.2,377.2 542.7,376.0 543.2,374.9 543.7,373.8 544.2,372.7 544.7,371.6 545.2,370.5 545.8,369.4 546.3,368.3 546.9,367.2 547.4,366.1 548.0,365.0 548.6,364.0 549.2,362.9 549.9,361.8 550.5,360.8 551.2,359.8 551.9,358.8 552.6,357.8 553.4,356.8 554.2,355.9 555.0,355.0 555.8,354.2 556.6,353.4 557.5,352.6 558.4,351.9 559.3,351.2 560.2,350.5 561.2,350.0 562.2,349.4 563.2,349.0 564.3,348.6 565.4,348.3 566.5,348.0 567.6,347.8 568.8,347.7 570.0,347.6 571.2,347.7 572.5,347.7 573.8,347.8 575.0,347.9 576.3,348.0 577.6,348.0 578.9,347.9 580.1,347.7 581.3,347.4 582.5,346.9 583.6,346.4 584.7,346.0 585.7,345.7 586.7,345.6 587.6,345.8 588.5,346.2 589.3,346.9 590.0,347.7 590.7,348.7 591.3,349.7 591.9,350.8 592.4,352.0 592.8,353.1 593.2,354.3 593.6,355.5 594.0,356.6 594.4,357.8 594.8,359.0 595.1,360.1 595.5,361.3 595.8,362.5 596.1,363.7 596.5,364.8 596.8,366.0 597.1,367.2 597.4,368.4 597.6,369.5 597.9,370.7 598.2,371.9 598.4,373.1 598.7,374.2 598.9,375.4 599.2,376.6 599.4,377.8 599.6,379.0 599.9,380.1 600.1,381.3 600.3,382.5 600.5,383.7 600.7,384.9 600.9,386.0 601.1,387.2 601.3,388.4 601.5,389.6 601.7,390.8 601.9,392.0 602.1,393.2 602.3,394.3 602.5,395.5 602.6,396.7 602.8,397.9 603.0,399.1 603.2,400.3 603.4,401.5 603.6,402.6 603.8,403.8 603.9,405.0 604.1,406.2 604.3,407.4 604.5,408.6 604.7,409.8 604.9,411.0 605.1,412.2 605.3,413.3 605.5,414.5 605.7,415.7 605.9,416.9 606.2,418.1 606.4,419.3 606.6,420.5 606.8,421.7 607.1,422.9 607.3,424.1 607.5,425.2 607.7,426.4 608.0,427.6 608.2,428.8 608.5,430.0 608.7,431.2 609.0,432.4 609.2,433.6 609.5,434.7 609.7,435.9 610.0,437.1 610.2,438.3 610.5,439.5 610.7,440.7 611.0,441.8 611.3,443.0 611.5,444.2 611.8,445.4 612.1,446.5 612.3,447.7 612.6,448.9 612.9,450.1 613.1,451.2 613.4,452.4 613.7,453.6 614.0,454.7 614.2,455.9 614.5,457.1 614.8,458.2 615.1,459.4 615.3,460.6 615.6,461.7 615.9,462.9 616.2,464.0 616.4,465.2 616.7,466.3 617.0,467.5 617.3,468.7 617.6,469.8 617.9,471.0 618.2,472.1 618.5,473.3 618.7,474.4 619.1,475.6 619.4,476.7 619.7,477.9 620.0,479.1 620.3,480.2 620.6,481.4 621.0,482.6 621.3,483.7 621.6,484.9 622.0,486.1 622.3,487.3 622.7,488.5 623.0,489.6 623.4,490.8 623.8,492.0 624.2,493.2 624.6,494.4 625.0,495.6 625.4,496.8 625.9,497.9 626.3,499.1 626.8,500.2 627.3,501.3 627.9,502.4 628.4,503.5 629.0,504.5 629.6,505.6 630.2,506.5 630.9,507.5 631.6,508.4 632.4,509.3 633.2,510.1 634.0,510.9 634.8,511.6 635.8,512.3 636.7,512.9 637.7,513.5 638.7,514.0 639.7,514.5 640.8,515.0 641.9,515.4 643.1,515.8 644.2,516.2 645.4,516.5 646.6,516.8 647.8,517.0 649.0,517.2 650.2,517.4 651.4,517.6 652.6,517.8 653.9,517.9 655.1,518.0 656.3,518.1 657.6,518.2 658.8,518.2 660.0,518.3 661.2,518.3 662.4,518.3 663.6,518.3 664.8,518.3 666.0,518.3 667.2,518.3 668.3,518.3 669.5,518.3 670.7,518.3 671.9,518.3 673.1,518.3 674.3,518.3 675.5,518.3 676.7,518.3 677.9,518.3 679.1,518.4 680.3,518.4 681.5,518.5 682.8,518.5 684.0,518.6" stroke="#ff0000"/>
<path d="M409.0,441.0 410.3,440.5 411.5,440.3 412.7,440.1 413.9,440.1 415.0,440.2 416.1,440.4 417.2,440.8 418.3,441.2 419.3,441.7 420.4,442.2 421.4,442.9 422.4,443.5 423.4,444.2 424.4,445.0 425.4,445.7 426.4,446.5 427.4,447.2 428.4,447.9 429.5,448.6 430.5,449.2 431.6,449.8 432.7,450.4 433.8,450.8 434.9,451.2 436.0,451.6 437.2,451.9 438.4,452.1 439.5,452.3 440.7,452.5 441.9,452.6 443.1,452.7 444.4,452.8 445.6,452.8 446.8,452.8 448.0,452.8 449.2,452.8 450.4,452.8 451.6,452.8 452.8,452.7 454.0,452.7 455.2,452.6 456.4,452.6 457.6,452.5 458.8,452.4 460.0,452.3 461.2,452.2 462.4,452.2 463.6,452.1 464.8,452.0 466.0,451.9 467.2,451.8 468.5,451.7 469.7,451.7 470.9,451.6 472.1,451.4 473.3,451.3 474.5,451.1 475.7,450.9 476.8,450.6 477.9,450.2 479.1,449.8 480.1,449.4 481.2,448.9 482.3,448.3 483.3,447.8 484.3,447.1 485.3,446.5 486.3,445.8 487.3,445.1 488.2,444.4 489.2,443.6 490.1,442.9 491.0,442.1 491.9,441.3 492.8,440.5 493.7,439.7 494.6,438.9 495.5,438.1 496.4,437.2 497.2,436.4 498.1,435.6 498.9,434.7 499.8,433.8 500.6,433.0 501.5,432.1 502.3,431.2 503.1,430.3 504.0,429.5 504.8,428.6 505.6,427.7 506.5,426.8 507.3,425.9 508.1,425.1 508.9,424.2 509.8,423.3 510.6,422.4 511.4,421.5 512.3,420.7 513.1,419.8 513.9,418.9 514.8,418.0 515.6,417.2 516.4,416.3 517.2,415.4 518.0,414.5 518.9,413.6 519.7,412.7 520.5,411.8 521.3,410.9 522.1,410.0 522.9,409.1 523.7,408.2 524.4,407.3 525.2,406.4 526.0,405.5 526.8,404.6 527.5,403.7 528.3,402.7 529.0,401.8 529.8,400.8 530.5,399.9 531.2,398.9 532.0,398.0 532.7,397.0 533.4,396.0 534.1,395.1 534.7,394.1 535.4,393.1 536.1,392.1 536.7,391.1 537.4,390.0 538.0,389.0 538.6,388.0 539.3,386.9 539.9,385.9 540.4,384.8 541.0,383.7 541.6,382.6 542.1,381.5 542.7,380.4 543.2,379.3 543.8,378.2 544.3,377.1 544.9,376.0 545.4,374.9 546.0,373.8 546.6,372.8 547.1,371.7 547.7,370.7 548.3,369.6 549.0,368.6 549.6,367.6 550.3,366.7 551.0,365.8 551.8,364.8 552.5,364.0 553.3,363.1 554.2,362.3 555.0,361.6 556.0,360.8 556.9,360.2 557.9,359.5 558.9,358.9 559.9,358.4 560.9,357.9 562.0,357.4 563.1,357.0 564.2,356.7 565.4,356.4 566.5,356.2 567.7,356.0 568.9,355.9 570.1,355.8 571.3,355.8 572.6,355.9 573.8,356.0 575.0,356.1 576.3,356.2 577.5,356.3 578.8,356.5 580.0,356.6 581.2,356.6 582.5,356.6 583.7,356.6 584.8,356.6 585.9,356.7 586.9,357.0 587.8,357.4 588.6,358.1 589.3,358.8 589.9,359.7 590.4,360.7 590.9,361.8 591.4,362.9 591.8,364.1 592.2,365.3 592.6,366.5 593.0,367.7 593.3,368.9 593.7,370.1 594.0,371.3 594.4,372.4 594.7,373.6 595.1,374.7 595.4,375.9 595.7,377.0 596.0,378.2 596.3,379.4 596.6,380.5 596.9,381.7 597.1,382.8 597.4,384.0 597.7,385.2 597.9,386.4 598.1,387.6 598.4,388.7 598.6,389.9 598.8,391.1 599.0,392.3 599.3,393.5 599.5,394.7 599.7,395.9 599.9,397.1 600.1,398.3 600.3,399.5 600.5,400.7 600.7,401.9 600.9,403.0 601.1,404.2 601.4,405.4 601.6,406.6 601.8,407.8 602.0,409.0 602.3,410.2 602.5,411.4 602.8,412.5 603.0,413.7 603.3,414.9 603.5,416.1 603.8,417.2 604.0,418.4 604.3,419.6 604.5,420.8 604.8,421.9 605.1,423.1 605.3,424.3 605.6,425.4 605.9,426.6 606.1,427.8 606.4,428.9 606.7,430.1 607.0,431.3 607.3,432.4 607.5,433.6 607.8,434.8 608.1,435.9 608.4,437.1 608.7,438.3 608.9,439.4 609.2,440.6 609.5,441.8 609.8,442.9 610.1,444.1 610.3,445.3 610.6,446.4 610.9,447.6 611.2,448.8 611.5,450.0 611.7,451.1 612.0,452.3 612.3,453.5 612.6,454.7 612.8,455.8 613.1,457.0 613.4,458.2 613.6,459.4 613.9,460.6 614.2,461.8 614.4,462.9 614.7,464.1 615.0,465.3 615.2,466.5 615.5,467.7 615.8,468.9 616.1,470.1 616.3,471.2 616.6,472.4 616.9,473.6 617.2,474.8 617.5,475.9 617.8,477.1 618.1,478.3 618.5,479.4 618.8,480.6 619.1,481.8 619.5,482.9 619.8,484.1 620.2,485.2 620.5,486.4 620.9,487.5 621.3,488.6 621.7,489.8 622.1,490.9 622.5,492.0 623.0,493.1 623.4,494.2 623.9,495.3 624.4,496.4 624.9,497.5 625.4,498.6 625.9,499.7 626.4,500.7 627.0,501.8 627.6,502.8 628.1,503.9 628.7,504.9 629.4,505.9 630.0,506.9 630.7,507.9 631.3,508.9 632.1,509.9 632.8,510.8 633.6,511.7 634.4,512.5 635.3,513.3 636.2,514.0 637.2,514.6 638.3,515.1 639.4,515.6 640.5,516.0 641.8,516.2 643.0,516.5 644.3,516.7 645.5,516.9 646.7,517.0 648.0,517.2 649.2,517.3 650.4,517.5 651.6,517.6 652.7,517.7 653.9,517.8 655.1,517.9 656.3,518.0 657.5,518.1 658.7,518.2 659.9,518.3 661.1,518.3 662.3,518.4 663.5,518.4 664.7,518.5 665.9,518.5 667.1,518.5 668.3,518.6 669.5,518.6 670.7,518.6 671.9,518.6 673.1,518.6 674.4,518.7 675.6,518.7 676.8,518.7 678.0,518.7 679.2,518.7 680.4,518.7 681.6,518.8 682.8,518.8 684.0,518.8" stroke="#0000ff"/>
<path d="M409.0,440.5 410.3,439.9 411.6,439.5 412.8,439.3 413.9,439.3 415.0,439.5 416.1,439.8 417.2,440.2 418.2,440.7 419.2,441.3 420.2,442.0 421.2,442.7 422.2,443.4 423.2,444.2 424.3,444.9 425.3,445.6 426.3,446.3 427.4,446.9 428.4,447.5 429.5,448.0 430.6,448.5 431.7,449.0 432.8,449.4 434.0,449.8 435.1,450.2 436.2,450.5 437.4,450.8 438.5,451.0 439.7,451.2 440.9,451.4 442.1,451.6 443.2,451.7 444.4,451.8 445.6,451.8 446.8,451.8 448.0,451.8 449.2,451.8 450.4,451.8 451.6,451.7 452.8,451.7 454.0,451.6 455.2,451.5 456.4,451.4 457.7,451.4 458.9,451.3 460.1,451.2 461.3,451.1 462.5,451.0 463.8,451.0 465.0,450.9 466.2,450.9 467.4,450.8 468.6,450.8 469.8,450.7 471.0,450.6 472.2,450.4 473.4,450.2 474.5,450.0 475.7,449.7 476.8,449.4 477.9,449.0 479.0,448.5 480.1,448.1 481.2,447.6 482.2,447.0 483.3,446.5 484.3,445.9 485.3,445.2 486.3,444.6 487.3,443.9 488.2,443.2 489.2,442.5 490.1,441.7 491.1,441.0 492.0,440.2 492.9,439.4 493.8,438.6 494.7,437.8 495.6,436.9 496.4,436.1 497.3,435.2 498.2,434.4 499.0,433.5 499.9,432.6 500.8,431.8 501.6,430.9 502.4,430.0 503.3,429.1 504.1,428.2 505.0,427.3 505.8,426.5 506.6,425.6 507.5,424.7 508.3,423.9 509.2,423.0 510.0,422.1 510.8,421.2 511.6,420.4 512.5,419.5 513.3,418.6 514.1,417.8 514.9,416.9 515.7,416.0 516.6,415.2 517.4,414.3 518.2,413.4 519.0,412.5 519.8,411.7 520.6,410.8 521.4,409.9 522.2,409.0 522.9,408.1 523.7,407.2 524.5,406.3 525.3,405.4 526.0,404.5 526.8,403.6 527.5,402.7 528.3,401.7 529.0,400.8 529.8,399.8 530.5,398.9 531.2,397.9 531.9,397.0 532.7,396.0 533.4,395.0 534.1,394.0 534.8,393.0 535.5,392.0 536.1,391.0 536.8,390.0 537.5,389.0 538.1,387.9 538.8,386.9 539.4,385.8 540.1,384.7 540.7,383.6 541.4,382.6 542.0,381.5 542.6,380.4 543.3,379.3 543.9,378.3 544.5,377.2 545.2,376.2 545.9,375.1 546.5,374.1 547.2,373.2 547.9,372.2 548.7,371.3 549.4,370.4 550.2,369.5 551.0,368.7 551.8,367.9 552.6,367.1 553.5,366.4 554.3,365.7 555.3,365.1 556.2,364.5 557.2,364.0 558.2,363.5 559.3,363.1 560.4,362.8 561.5,362.5 562.7,362.3 563.9,362.1 565.2,362.0 566.4,362.0 567.7,362.0 569.0,362.1 570.3,362.1 571.6,362.2 572.9,362.4 574.2,362.5 575.4,362.7 576.6,362.9 577.8,363.1 579.0,363.3 580.2,363.5 581.3,363.7 582.4,364.0 583.6,364.3 584.7,364.7 585.7,365.2 586.7,365.8 587.5,366.5 588.4,367.4 589.1,368.2 589.8,369.2 590.5,370.1 591.1,371.1 591.7,372.1 592.3,373.1 592.8,374.1 593.3,375.2 593.8,376.3 594.2,377.4 594.6,378.5 594.9,379.6 595.3,380.8 595.6,381.9 595.9,383.1 596.2,384.3 596.5,385.5 596.7,386.7 596.9,387.9 597.2,389.1 597.4,390.3 597.6,391.5 597.8,392.7 598.0,393.9 598.1,395.2 598.3,396.4 598.5,397.6 598.7,398.8 598.9,400.0 599.1,401.2 599.3,402.4 599.5,403.6 599.7,404.8 599.9,406.0 600.1,407.1 600.3,408.3 600.5,409.5 600.7,410.7 600.9,411.8 601.1,413.0 601.3,414.2 601.5,415.4 601.7,416.5 602.0,417.7 602.2,418.9 602.4,420.0 602.7,421.2 602.9,422.4 603.1,423.6 603.4,424.7 603.6,425.9 603.8,427.1 604.1,428.2 604.3,429.4 604.6,430.6 604.9,431.8 605.1,433.0 605.4,434.1 605.6,435.3 605.9,436.5 606.2,437.7 606.4,438.8 606.7,440.0 607.0,441.2 607.3,442.4 607.6,443.6 607.8,444.7 608.1,445.9 608.4,447.1 608.7,448.3 609.0,449.5 609.3,450.6 609.6,451.8 609.9,453.0 610.2,454.2 610.5,455.3 610.8,456.5 611.1,457.7 611.4,458.8 611.7,460.0 612.0,461.2 612.3,462.3 612.6,463.5 612.9,464.7 613.2,465.8 613.5,467.0 613.9,468.1 614.2,469.3 614.5,470.4 614.8,471.6 615.1,472.7 615.4,473.9 615.8,475.0 616.1,476.2 616.4,477.3 616.8,478.5 617.1,479.6 617.5,480.7 617.8,481.9 618.2,483.0 618.5,484.2 618.9,485.3 619.3,486.4 619.7,487.6 620.1,488.7 620.5,489.9 620.9,491.0 621.3,492.2 621.7,493.3 622.2,494.5 622.6,495.6 623.1,496.8 623.6,497.9 624.1,499.1 624.6,500.2 625.1,501.3 625.7,502.4 626.3,503.5 626.9,504.5 627.5,505.6 628.1,506.6 628.8,507.6 629.5,508.5 630.2,509.4 631.0,510.3 631.8,511.1 632.6,511.9 633.5,512.6 634.4,513.3 635.3,513.9 636.3,514.5 637.3,515.0 638.4,515.5 639.4,515.9 640.5,516.3 641.7,516.7 642.8,517.0 644.0,517.2 645.2,517.5 646.4,517.7 647.6,517.8 648.9,518.0 650.1,518.1 651.4,518.2 652.6,518.3 653.9,518.3 655.2,518.4 656.4,518.4 657.7,518.4 658.9,518.5 660.1,518.5 661.3,518.5 662.5,518.6 663.7,518.6 664.9,518.6 666.1,518.6 667.3,518.7 668.4,518.7 669.6,518.7 670.7,518.8 671.9,518.8 673.1,518.8 674.2,518.9 675.4,518.9 676.6,518.9 677.8,518.9 679.0,519.0 680.2,519.0 681.5,519.0 682.7,519.0 684.0,519.0" stroke="#ff8000"/>
<path d="M409.0,441.5 410.3,441.1 411.6,440.8 412.8,440.8 414.0,440.9 415.1,441.1 416.2,441.4 417.3,441.9 418.3,442.4 419.3,443.0 420.3,443.6 421.3,444.3 422.3,445.0 423.3,445.8 424.3,446.5 425.4,447.1 426.4,447.8 427.5,448.4 428.5,449.0 429.6,449.5 430.7,450.0 431.8,450.5 432.9,450.9 434.1,451.3 435.2,451.6 436.4,452.0 437.5,452.3 438.7,452.5 439.8,452.7 441.0,452.9 442.2,453.1 443.4,453.2 444.6,453.3 445.7,453.3 446.9,453.4 448.1,453.3 449.3,453.3 450.5,453.3 451.7,453.2 452.9,453.1 454.1,453.0 455.3,452.9 456.5,452.8 457.7,452.7 459.0,452.5 460.2,452.4 461.4,452.3 462.6,452.1 463.8,452.0 465.0,451.8 466.3,451.7 467.5,451.5 468.7,451.3 469.9,451.1 471.1,450.9 472.3,450.6 473.4,450.4 474.6,450.1 475.7,449.8 476.9,449.4 478.0,449.0 479.1,448.6 480.2,448.2 481.2,447.7 482.3,447.2 483.3,446.6 484.3,446.0 485.3,445.4 486.3,444.7 487.2,444.0 488.2,443.3 489.1,442.6 490.0,441.8 491.0,441.0 491.9,440.2 492.8,439.4 493.6,438.6 494.5,437.8 495.4,436.9 496.3,436.1 497.1,435.2 498.0,434.3 498.9,433.5 499.7,432.6 500.6,431.8 501.5,430.9 502.3,430.0 503.2,429.2 504.0,428.3 504.9,427.4 505.7,426.6 506.6,425.7 507.4,424.8 508.3,424.0 509.1,423.1 509.9,422.2 510.8,421.3 511.6,420.5 512.4,419.6 513.2,418.7 514.1,417.8 514.9,416.9 515.7,416.0 516.5,415.1 517.3,414.2 518.1,413.3 518.9,412.4 519.7,411.5 520.5,410.6 521.3,409.7 522.1,408.8 522.9,407.9 523.6,407.0 524.4,406.1 525.2,405.2 525.9,404.2 526.7,403.3 527.4,402.4 528.2,401.5 528.9,400.5 529.7,399.6 530.4,398.6 531.1,397.7 531.8,396.7 532.6,395.8 533.3,394.8 534.0,393.9 534.7,392.9 535.4,391.9 536.1,391.0 536.8,390.0 537.4,389.0 538.1,388.0 538.8,387.0 539.5,386.0 540.3,385.0 541.0,383.9 541.7,382.9 542.4,381.8 543.2,380.8 543.9,379.8 544.7,378.8 545.5,377.8 546.3,376.8 547.1,375.9 547.9,375.0 548.7,374.2 549.6,373.4 550.5,372.7 551.4,372.0 552.4,371.4 553.3,370.9 554.3,370.4 555.3,370.0 556.4,369.8 557.4,369.6 558.5,369.5 559.7,369.5 560.8,369.6 562.0,369.7 563.2,370.0 564.5,370.2 565.7,370.5 567.0,370.9 568.2,371.2 569.5,371.6 570.8,371.9 572.0,372.3 573.3,372.6 574.6,372.9 575.8,373.2 577.0,373.6 578.2,373.9 579.4,374.3 580.4,374.8 581.4,375.3 582.4,376.0 583.3,376.7 584.1,377.4 584.9,378.3 585.6,379.2 586.3,380.1 586.9,381.1 587.6,382.1 588.1,383.1 588.7,384.1 589.2,385.2 589.7,386.3 590.2,387.4 590.7,388.5 591.1,389.6 591.6,390.7 592.0,391.8 592.4,392.9 592.8,394.0 593.2,395.1 593.6,396.3 593.9,397.4 594.3,398.6 594.6,399.7 595.0,400.9 595.3,402.0 595.6,403.2 595.9,404.3 596.2,405.5 596.5,406.7 596.7,407.9 597.0,409.0 597.3,410.2 597.5,411.4 597.8,412.6 598.0,413.8 598.3,415.0 598.5,416.1 598.8,417.3 599.0,418.5 599.2,419.7 599.5,420.9 599.7,422.1 599.9,423.3 600.2,424.5 600.4,425.7 600.6,426.9 600.9,428.1 601.1,429.2 601.4,430.4 601.6,431.6 601.9,432.8 602.2,434.0 602.4,435.2 602.7,436.3 603.0,437.5 603.3,438.7 603.6,439.8 603.9,441.0 604.2,442.2 604.5,443.4 604.8,444.5 605.1,445.7 605.4,446.8 605.7,448.0 606.0,449.2 606.3,450.3 606.7,451.5 607.0,452.6 607.3,453.8 607.7,454.9 608.0,456.1 608.3,457.3 608.7,458.4 609.0,459.6 609.4,460.7 609.7,461.9 610.1,463.0 610.4,464.2 610.8,465.3 611.1,466.5 611.5,467.6 611.8,468.8 612.2,469.9 612.6,471.1 612.9,472.2 613.3,473.4 613.6,474.5 614.0,475.7 614.3,476.8 614.7,478.0 615.0,479.1 615.4,480.3 615.8,481.4 616.1,482.6 616.5,483.7 616.8,484.9 617.2,486.0 617.6,487.2 618.0,488.3 618.4,489.5 618.8,490.6 619.2,491.7 619.6,492.9 620.0,494.0 620.5,495.1 620.9,496.2 621.4,497.3 621.9,498.4 622.4,499.6 622.9,500.6 623.5,501.7 624.0,502.8 624.6,503.9 625.2,504.9 625.8,506.0 626.5,507.0 627.2,508.0 627.9,509.0 628.6,509.9 629.4,510.8 630.3,511.6 631.2,512.4 632.1,513.1 633.1,513.7 634.1,514.3 635.1,514.9 636.2,515.3 637.3,515.8 638.4,516.2 639.6,516.5 640.7,516.9 641.9,517.2 643.0,517.4 644.2,517.6 645.4,517.8 646.6,518.0 647.8,518.2 649.0,518.3 650.2,518.4 651.4,518.5 652.6,518.5 653.8,518.6 655.1,518.7 656.3,518.7 657.5,518.7 658.7,518.8 659.9,518.8 661.1,518.8 662.4,518.8 663.6,518.9 664.8,518.9 666.0,518.9 667.2,519.0 668.3,519.0 669.5,519.0 670.7,519.1 671.9,519.1 673.1,519.1 674.3,519.1 675.5,519.2 676.7,519.2 677.9,519.2 679.1,519.2 680.3,519.2 681.6,519.2 682.8,519.2 684.0,519.2" stroke="#8000ff"/>
<path d="M409.0,442.5 410.3,442.4 411.5,442.4 412.7,442.5 413.9,442.7 415.1,443.0 416.2,443.4 417.3,443.9 418.3,444.4 419.4,444.9 420.4,445.5 421.4,446.2 422.5,446.8 423.5,447.5 424.5,448.2 425.5,448.8 426.6,449.5 427.6,450.1 428.7,450.7 429.7,451.2 430.9,451.7 432.0,452.1 433.1,452.5 434.3,452.8 435.5,453.1 436.7,453.3 437.8,453.5 439.0,453.6 440.3,453.8 441.5,453.9 442.7,454.0 443.9,454.0 445.1,454.1 446.3,454.1 447.5,454.1 448.7,454.1 449.9,454.1 451.1,454.0 452.3,453.9 453.5,453.8 454.7,453.7 455.8,453.6 457.0,453.4 458.2,453.3 459.4,453.1 460.6,452.9 461.8,452.7 463.0,452.5 464.2,452.3 465.4,452.0 466.6,451.8 467.8,451.5 468.9,451.2 470.1,450.9 471.3,450.6 472.4,450.2 473.6,449.9 474.7,449.5 475.8,449.0 476.9,448.6 478.0,448.1 479.1,447.6 480.2,447.1 481.2,446.5 482.3,445.9 483.3,445.3 484.3,444.6 485.3,443.9 486.2,443.2 487.2,442.5 488.1,441.7 489.1,441.0 490.0,440.2 490.9,439.4 491.8,438.6 492.7,437.7 493.6,436.9 494.5,436.1 495.3,435.2 496.2,434.4 497.1,433.5 497.9,432.6 498.8,431.8 499.7,430.9 500.5,430.1 501.4,429.2 502.2,428.4 503.1,427.5 503.9,426.6 504.7,425.8 505.6,424.9 506.4,424.1 507.3,423.2 508.1,422.4 508.9,421.5 509.7,420.6 510.6,419.8 511.4,418.9 512.2,418.0 513.0,417.2 513.9,416.3 514.7,415.4 515.5,414.6 516.3,413.7 517.1,412.8 517.9,411.9 518.7,411.0 519.5,410.1 520.3,409.3 521.1,408.4 521.9,407.5 522.7,406.6 523.5,405.6 524.3,404.7 525.1,403.8 525.9,402.9 526.7,402.0 527.5,401.0 528.3,400.1 529.0,399.2 529.8,398.2 530.6,397.3 531.4,396.3 532.2,395.3 533.0,394.4 533.7,393.4 534.5,392.4 535.3,391.4 536.1,390.4 536.9,389.5 537.7,388.5 538.5,387.6 539.3,386.6 540.1,385.7 540.9,384.9 541.8,384.1 542.7,383.3 543.6,382.5 544.5,381.8 545.4,381.2 546.4,380.6 547.4,380.1 548.4,379.6 549.5,379.2 550.6,378.9 551.7,378.7 552.8,378.5 554.0,378.4 555.2,378.4 556.3,378.5 557.5,378.6 558.7,378.8 559.9,379.0 561.1,379.3 562.2,379.7 563.3,380.1 564.4,380.6 565.5,381.1 566.5,381.6 567.6,382.2 568.6,382.9 569.6,383.5 570.7,384.2 571.7,384.8 572.7,385.5 573.7,386.2 574.8,386.9 575.8,387.6 576.9,388.2 578.0,388.9 579.1,389.5 580.2,390.1 581.2,390.7 582.3,391.4 583.3,392.1 584.2,392.8 585.0,393.6 585.8,394.5 586.5,395.4 587.1,396.4 587.7,397.4 588.2,398.5 588.6,399.6 589.0,400.7 589.4,401.9 589.8,403.1 590.2,404.2 590.5,405.4 590.9,406.6 591.2,407.8 591.6,408.9 591.9,410.1 592.2,411.3 592.6,412.5 592.9,413.6 593.2,414.8 593.5,416.0 593.9,417.2 594.2,418.3 594.5,419.5 594.8,420.7 595.1,421.8 595.5,423.0 595.8,424.2 596.1,425.3 596.4,426.5 596.7,427.7 597.0,428.8 597.3,430.0 597.6,431.2 597.9,432.3 598.2,433.5 598.5,434.7 598.8,435.8 599.2,437.0 599.5,438.2 599.8,439.3 600.1,440.5 600.4,441.7 600.7,442.8 601.0,444.0 601.3,445.1 601.6,446.3 601.9,447.5 602.2,448.6 602.5,449.8 602.9,450.9 603.2,452.1 603.5,453.2 603.8,454.4 604.1,455.6 604.4,456.7 604.8,457.9 605.1,459.0 605.4,460.2 605.8,461.3 606.1,462.5 606.4,463.6 606.8,464.8 607.1,465.9 607.5,467.1 607.8,468.3 608.2,469.4 608.5,470.6 608.9,471.7 609.3,472.9 609.6,474.0 610.0,475.2 610.4,476.3 610.8,477.4 611.2,478.6 611.5,479.7 611.9,480.9 612.3,482.0 612.7,483.2 613.2,484.3 613.6,485.5 614.0,486.6 614.4,487.8 614.9,488.9 615.3,490.0 615.7,491.2 616.2,492.3 616.7,493.5 617.1,494.6 617.6,495.7 618.1,496.8 618.6,497.9 619.1,499.0 619.7,500.1 620.2,501.2 620.8,502.2 621.4,503.3 622.0,504.3 622.7,505.3 623.4,506.3 624.1,507.2 624.8,508.1 625.6,509.0 626.3,509.9 627.2,510.7 628.0,511.5 628.9,512.3 629.8,513.0 630.7,513.7 631.7,514.3 632.7,515.0 633.7,515.5 634.7,516.0 635.8,516.5 636.9,516.9 638.0,517.2 639.2,517.5 640.4,517.8 641.6,518.0 642.8,518.1 644.1,518.2 645.3,518.3 646.6,518.3 647.8,518.4 649.1,518.4 650.4,518.4 651.6,518.5 652.8,518.5 654.0,518.6 655.2,518.7 656.4,518.8 657.5,518.9 658.7,519.0 659.9,519.1 661.0,519.1 662.2,519.2 663.4,519.2 664.6,519.3 665.8,519.3 667.0,519.3 668.3,519.3 669.5,519.3 670.7,519.3 671.9,519.3 673.1,519.3 674.4,519.3 675.6,519.3 676.8,519.3 678.0,519.3 679.2,519.3 680.4,519.3 681.6,519.3 682.8,519.4 684.0,519.4" stroke="#00a0ff"/>
<path d="M409.0,442.9 410.2,442.9 411.3,443.0 412.5,443.2 413.6,443.5 414.7,443.8 415.8,444.1 417.0,444.5 418.1,445.0 419.2,445.5 420.3,446.0 421.4,446.5 422.5,447.1 423.6,447.7 424.6,448.3 425.7,448.9 426.8,449.5 427.9,450.0 429.0,450.6 430.1,451.1 431.2,451.6 432.3,452.1 433.4,452.6 434.5,452.9 435.7,453.3 436.8,453.6 437.9,453.8 439.1,454.0 440.2,454.1 441.4,454.1 442.6,454.1 443.7,454.1 444.9,454.0 446.1,453.9 447.3,453.7 448.5,453.5 449.6,453.3 450.8,453.0 452.0,452.7 453.2,452.4 454.4,452.1 455.6,451.7 456.8,451.3 457.9,450.9 459.1,450.5 460.3,450.1 461.5,449.7 462.6,449.3 463.8,448.9 464.9,448.5 466.1,448.1 467.2,447.7 468.4,447.3 469.5,446.8 470.6,446.4 471.7,445.9 472.8,445.5 473.9,445.0 475.0,444.5 476.1,444.0 477.1,443.5 478.2,443.0 479.3,442.5 480.3,441.9 481.3,441.3 482.3,440.7 483.3,440.1 484.3,439.5 485.3,438.8 486.3,438.1 487.3,437.4 488.2,436.7 489.2,436.0 490.2,435.2 491.1,434.5 492.0,433.7 493.0,433.0 493.9,432.2 494.8,431.4 495.7,430.6 496.6,429.8 497.5,428.9 498.4,428.1 499.3,427.3 500.2,426.5 501.1,425.6 502.0,424.8 502.9,423.9 503.8,423.1 504.6,422.3 505.5,421.4 506.4,420.6 507.2,419.7 508.1,418.9 509.0,418.0 509.8,417.2 510.7,416.3 511.5,415.5 512.4,414.6 513.2,413.8 514.1,412.9 514.9,412.1 515.7,411.3 516.6,410.4 517.4,409.6 518.2,408.8 519.1,408.0 519.9,407.2 520.8,406.3 521.6,405.5 522.5,404.7 523.3,403.9 524.2,403.1 525.1,402.3 526.0,401.4 526.9,400.6 527.8,399.8 528.7,399.0 529.6,398.2 530.6,397.3 531.5,396.5 532.5,395.7 533.5,394.9 534.5,394.1 535.5,393.3 536.5,392.5 537.6,391.8 538.6,391.1 539.7,390.4 540.7,389.8 541.8,389.2 542.9,388.7 543.9,388.2 545.0,387.8 546.1,387.5 547.1,387.2 548.2,387.1 549.3,387.0 550.3,387.0 551.4,387.0 552.5,387.2 553.5,387.5 554.5,387.9 555.6,388.4 556.6,389.0 557.6,389.7 558.7,390.4 559.7,391.2 560.7,392.0 561.7,392.8 562.7,393.6 563.8,394.3 564.8,395.0 565.9,395.6 566.9,396.2 568.0,396.8 569.0,397.4 570.1,397.9 571.1,398.5 572.1,399.2 573.1,399.8 574.1,400.5 575.0,401.2 576.0,402.0 576.9,402.7 577.8,403.5 578.7,404.3 579.6,405.1 580.4,406.0 581.2,406.8 582.0,407.7 582.8,408.6 583.5,409.5 584.2,410.5 584.9,411.4 585.6,412.4 586.2,413.3 586.9,414.3 587.5,415.4 588.0,416.4 588.6,417.4 589.1,418.5 589.6,419.5 590.1,420.6 590.6,421.7 591.1,422.8 591.5,423.9 592.0,425.0 592.4,426.1 592.8,427.2 593.2,428.4 593.6,429.5 594.0,430.7 594.3,431.8 594.7,433.0 595.0,434.2 595.3,435.3 595.7,436.5 596.0,437.7 596.3,438.9 596.6,440.1 596.9,441.2 597.2,442.4 597.5,443.6 597.8,444.8 598.1,446.0 598.4,447.2 598.7,448.4 599.0,449.6 599.3,450.8 599.6,451.9 599.9,453.1 600.2,454.3 600.6,455.5 600.9,456.6 601.2,457.8 601.6,458.9 601.9,460.1 602.2,461.2 602.6,462.4 603.0,463.5 603.3,464.7 603.7,465.8 604.1,466.9 604.5,468.1 604.9,469.2 605.2,470.3 605.6,471.4 606.0,472.6 606.4,473.7 606.9,474.8 607.3,475.9 607.7,477.0 608.1,478.2 608.5,479.3 608.9,480.4 609.4,481.5 609.8,482.6 610.2,483.7 610.7,484.9 611.1,486.0 611.6,487.1 612.0,488.2 612.5,489.3 612.9,490.5 613.4,491.6 613.8,492.7 614.3,493.9 614.7,495.0 615.2,496.2 615.6,497.3 616.1,498.4 616.6,499.5 617.1,500.7 617.6,501.8 618.2,502.8 618.7,503.9 619.3,504.9 619.9,506.0 620.6,507.0 621.3,507.9 622.0,508.8 622.7,509.7 623.5,510.6 624.4,511.4 625.3,512.2 626.2,512.9 627.2,513.6 628.2,514.2 629.2,514.8 630.3,515.4 631.4,515.8 632.5,516.3 633.6,516.7 634.8,517.0 635.9,517.3 637.1,517.6 638.3,517.8 639.5,518.0 640.7,518.1 641.9,518.2 643.1,518.4 644.3,518.5 645.5,518.5 646.7,518.6 647.9,518.7 649.1,518.8 650.3,518.9 651.5,518.9 652.7,519.0 653.9,519.0 655.1,519.1 656.3,519.1 657.5,519.1 658.7,519.2 659.9,519.2 661.1,519.2 662.3,519.2 663.5,519.3 664.7,519.3 665.9,519.3 667.1,519.3 668.3,519.3 669.5,519.3 670.7,519.3 671.9,519.3 673.1,519.4 674.4,519.4 675.6,519.4 676.8,519.4 678.0,519.4 679.2,519.4 680.4,519.4 681.6,519.5 682.8,519.5 684.0,519.5" stroke="#33ee33"/>
<path d="M409.0,435.2 410.3,435.2 411.5,435.3 412.6,435.5 413.8,435.9 414.9,436.3 415.9,436.9 417.0,437.5 418.0,438.2 419.0,438.9 420.0,439.6 421.0,440.4 422.0,441.1 423.0,441.9 424.1,442.6 425.1,443.2 426.1,443.8 427.2,444.3 428.2,444.7 429.3,445.1 430.4,445.5 431.5,445.8 432.6,446.0 433.7,446.2 434.9,446.4 436.0,446.5 437.2,446.6 438.3,446.6 439.5,446.6 440.7,446.6 441.9,446.6 443.1,446.5 444.3,446.5 445.5,446.4 446.7,446.2 447.9,446.1 449.1,445.9 450.3,445.7 451.5,445.5 452.7,445.3 453.9,445.0 455.1,444.8 456.3,444.5 457.5,444.1 458.7,443.8 459.9,443.4 461.0,443.0 462.2,442.6 463.3,442.2 464.5,441.7 465.6,441.2 466.7,440.7 467.8,440.2 468.9,439.7 469.9,439.1 471.0,438.5 472.0,437.9 473.0,437.3 474.0,436.7 475.0,436.0 476.0,435.4 477.0,434.7 477.9,434.0 478.9,433.3 479.8,432.5 480.8,431.8 481.7,431.1 482.6,430.3 483.5,429.5 484.4,428.7 485.3,428.0 486.2,427.2 487.0,426.3 487.9,425.5 488.8,424.7 489.7,423.9 490.5,423.1 491.4,422.2 492.2,421.4 493.1,420.5 494.0,419.7 494.8,418.8 495.7,418.0 496.5,417.1 497.4,416.3 498.3,415.5 499.1,414.6 500.0,413.8 500.9,412.9 501.7,412.1 502.6,411.3 503.5,410.4 504.4,409.6 505.3,408.8 506.2,408.0 507.1,407.2 508.0,406.4 508.9,405.6 509.9,404.8 510.8,404.1 511.7,403.3 512.7,402.6 513.6,401.8 514.6,401.1 515.6,400.4 516.5,399.7 517.5,399.0 518.5,398.3 519.5,397.6 520.5,397.0 521.5,396.3 522.5,395.7 523.6,395.1 524.6,394.5 525.6,393.9 526.7,393.4 527.7,392.8 528.8,392.3 529.9,391.8 531.0,391.3 532.1,390.8 533.2,390.4 534.3,390.0 535.5,389.5 536.6,389.2 537.7,388.8 538.9,388.4 540.1,388.1 541.2,387.9 542.4,387.6 543.6,387.5 544.7,387.4 545.8,387.4 546.9,387.6 548.0,387.8 549.0,388.2 550.1,388.7 551.0,389.3 552.0,389.9 552.9,390.7 553.8,391.5 554.6,392.4 555.5,393.3 556.3,394.3 557.1,395.2 557.9,396.2 558.8,397.1 559.6,398.0 560.4,399.0 561.2,399.8 562.1,400.7 562.9,401.6 563.7,402.4 564.6,403.3 565.4,404.1 566.3,405.0 567.2,405.8 568.0,406.6 568.9,407.4 569.8,408.2 570.7,409.0 571.7,409.8 572.6,410.5 573.5,411.3 574.4,412.1 575.3,412.9 576.2,413.7 577.1,414.5 578.0,415.4 578.8,416.2 579.7,417.0 580.5,417.9 581.3,418.8 582.1,419.7 582.8,420.6 583.5,421.5 584.2,422.5 584.8,423.4 585.4,424.4 586.0,425.5 586.5,426.5 587.0,427.6 587.4,428.7 587.8,429.9 588.2,431.0 588.6,432.2 588.9,433.4 589.2,434.6 589.5,435.8 589.8,437.0 590.1,438.2 590.4,439.3 590.7,440.5 591.1,441.7 591.4,442.9 591.7,444.1 592.0,445.3 592.4,446.4 592.7,447.6 593.1,448.8 593.4,449.9 593.8,451.1 594.2,452.2 594.5,453.4 594.9,454.5 595.3,455.6 595.7,456.8 596.0,457.9 596.4,459.1 596.8,460.2 597.2,461.3 597.6,462.4 598.0,463.6 598.4,464.7 598.8,465.8 599.2,467.0 599.6,468.1 600.0,469.2 600.4,470.3 600.8,471.4 601.2,472.6 601.6,473.7 602.1,474.8 602.5,475.9 602.9,477.0 603.4,478.1 603.8,479.2 604.2,480.4 604.7,481.5 605.1,482.6 605.6,483.7 606.1,484.8 606.5,485.9 607.0,487.0 607.5,488.1 608.0,489.3 608.5,490.4 609.0,491.5 609.5,492.6 610.0,493.7 610.5,494.8 611.1,495.9 611.6,497.0 612.1,498.1 612.7,499.2 613.3,500.3 613.9,501.4 614.5,502.4 615.1,503.5 615.8,504.5 616.4,505.5 617.1,506.4 617.9,507.4 618.6,508.3 619.4,509.1 620.2,510.0 621.1,510.7 622.0,511.5 622.9,512.2 623.8,512.9 624.8,513.5 625.8,514.1 626.9,514.7 627.9,515.2 629.0,515.7 630.1,516.1 631.3,516.5 632.4,516.9 633.5,517.2 634.7,517.5 635.9,517.8 637.1,518.1 638.3,518.3 639.5,518.5 640.7,518.6 641.9,518.7 643.1,518.9 644.3,518.9 645.5,519.0 646.7,519.0 647.9,519.1 649.1,519.1 650.3,519.1 651.5,519.1 652.7,519.0 653.9,519.0 655.1,519.0 656.3,519.0 657.5,518.9 658.7,518.9 659.9,518.9 661.1,518.9 662.4,518.9 663.6,518.9 664.8,518.9 666.0,518.9 667.2,519.0 668.4,519.0 669.6,519.1 670.8,519.2 672.0,519.2 673.2,519.3 674.4,519.4 675.6,519.4 676.8,519.5 678.0,519.5 679.2,519.5 680.4,519.6 681.6,519.6 682.8,519.5 684.0,519.5" stroke="#800080"/>
<path d="M409.0,441.9 410.2,441.9 411.4,442.1 412.5,442.3 413.7,442.6 414.8,442.9 415.9,443.3 417.0,443.7 418.1,444.2 419.2,444.7 420.3,445.3 421.4,445.8 422.5,446.3 423.6,446.8 424.7,447.4 425.9,447.8 427.0,448.3 428.1,448.7 429.2,449.1 430.4,449.5 431.5,449.9 432.7,450.1 433.8,450.4 435.0,450.6 436.1,450.8 437.3,450.9 438.4,451.0 439.6,451.0 440.8,451.0 442.0,450.9 443.1,450.8 444.3,450.6 445.5,450.4 446.7,450.2 447.8,449.9 449.0,449.6 450.2,449.2 451.3,448.9 452.5,448.5 453.7,448.0 454.8,447.6 455.9,447.1 457.1,446.6 458.2,446.1 459.3,445.6 460.4,445.1 461.5,444.6 462.6,444.1 463.7,443.5 464.8,443.0 465.8,442.4 466.9,441.9 467.9,441.3 468.9,440.6 469.9,440.0 470.9,439.3 471.9,438.7 472.9,438.0 473.8,437.3 474.8,436.6 475.7,435.8 476.7,435.1 477.6,434.3 478.5,433.5 479.4,432.8 480.3,432.0 481.2,431.2 482.1,430.3 483.0,429.5 483.9,428.7 484.7,427.9 485.6,427.0 486.4,426.2 487.3,425.3 488.2,424.5 489.0,423.6 489.9,422.7 490.7,421.9 491.5,421.0 492.4,420.1 493.2,419.3 494.1,418.4 494.9,417.5 495.8,416.7 496.6,415.8 497.5,415.0 498.3,414.1 499.2,413.3 500.0,412.4 500.9,411.6 501.7,410.8 502.6,409.9 503.5,409.1 504.4,408.3 505.2,407.5 506.1,406.7 507.0,405.9 507.9,405.1 508.9,404.3 509.8,403.6 510.7,402.8 511.7,402.0 512.6,401.3 513.6,400.6 514.6,399.8 515.5,399.1 516.5,398.4 517.6,397.7 518.6,397.0 519.6,396.4 520.7,395.8 521.7,395.2 522.8,394.6 523.9,394.1 525.0,393.6 526.1,393.2 527.3,392.8 528.4,392.5 529.6,392.3 530.8,392.0 532.0,391.9 533.2,391.8 534.4,391.8 535.6,391.8 536.8,391.8 538.0,392.0 539.2,392.1 540.3,392.4 541.5,392.7 542.6,393.0 543.8,393.4 544.9,393.8 545.9,394.3 547.0,394.8 548.0,395.4 549.0,396.0 550.0,396.6 550.9,397.3 551.8,398.1 552.7,398.8 553.6,399.6 554.5,400.5 555.3,401.3 556.1,402.2 556.9,403.1 557.7,404.1 558.4,405.0 559.2,406.0 559.9,407.0 560.6,408.0 561.3,409.1 562.0,410.1 562.6,411.2 563.2,412.2 563.9,413.3 564.5,414.3 565.1,415.4 565.7,416.5 566.3,417.5 566.8,418.6 567.4,419.7 567.9,420.7 568.5,421.8 569.0,422.8 569.6,423.9 570.2,424.9 570.7,426.0 571.3,427.0 571.9,428.0 572.5,429.0 573.1,430.0 573.8,431.0 574.4,432.0 575.1,433.0 575.8,434.0 576.4,435.0 577.1,436.0 577.8,437.0 578.5,438.0 579.2,438.9 579.9,439.9 580.6,440.9 581.3,441.9 582.0,442.9 582.7,443.9 583.4,444.9 584.1,445.9 584.8,446.9 585.4,447.9 586.1,448.9 586.7,449.9 587.3,450.9 587.9,452.0 588.5,453.0 589.0,454.1 589.6,455.2 590.1,456.2 590.6,457.3 591.1,458.4 591.6,459.5 592.1,460.6 592.6,461.7 593.0,462.8 593.5,463.9 593.9,465.1 594.4,466.2 594.8,467.3 595.3,468.4 595.7,469.5 596.2,470.7 596.6,471.8 597.1,472.9 597.5,474.0 598.0,475.2 598.4,476.3 598.9,477.4 599.3,478.5 599.8,479.7 600.3,480.8 600.8,481.9 601.2,483.0 601.7,484.1 602.2,485.2 602.7,486.3 603.2,487.4 603.8,488.5 604.3,489.6 604.8,490.7 605.4,491.8 605.9,492.8 606.5,493.9 607.0,495.0 607.6,496.0 608.2,497.1 608.8,498.1 609.4,499.2 610.1,500.2 610.7,501.2 611.3,502.2 612.0,503.2 612.7,504.2 613.4,505.2 614.1,506.2 614.8,507.2 615.5,508.1 616.3,509.0 617.1,509.9 617.9,510.8 618.7,511.6 619.5,512.4 620.4,513.2 621.3,513.9 622.2,514.6 623.2,515.2 624.2,515.8 625.2,516.3 626.2,516.8 627.3,517.2 628.4,517.5 629.5,517.8 630.7,518.1 631.9,518.3 633.1,518.5 634.3,518.6 635.6,518.7 636.8,518.8 638.0,518.9 639.3,518.9 640.6,519.0 641.8,519.0 643.0,519.0 644.3,519.1 645.5,519.1 646.7,519.1 648.0,519.2 649.2,519.2 650.4,519.2 651.6,519.2 652.8,519.3 654.0,519.3 655.2,519.3 656.4,519.3 657.6,519.4 658.8,519.4 660.0,519.4 661.2,519.4 662.4,519.4 663.5,519.5 664.7,519.5 665.9,519.5 667.1,519.5 668.3,519.5 669.5,519.5 670.7,519.6 671.9,519.6 673.1,519.6 674.3,519.6 675.5,519.6 676.7,519.6 677.9,519.6 679.1,519.6 680.3,519.6 681.5,519.6 682.8,519.6 684.0,519.6" stroke="#006400"/>
</g>
<rect x="408.60" y="322.40" width="275.40" height="198.20" fill="none" stroke="#000" stroke-width="1.6"/>
<line x1="404.60" y1="520.20" x2="408.60" y2="520.20" stroke="#000" stroke-width="1.5"/>
<text x="400.10" y="524.40" font-size="12.00" text-anchor="end" fill="#000" >0.0</text>
<line x1="404.60" y1="459.40" x2="408.60" y2="459.40" stroke="#000" stroke-width="1.5"/>
<text x="400.10" y="463.60" font-size="12.00" text-anchor="end" fill="#000" >0.2</text>
<line x1="404.60" y1="398.60" x2="408.60" y2="398.60" stroke="#000" stroke-width="1.5"/>
<text x="400.10" y="402.80" font-size="12.00" text-anchor="end" fill="#000" >0.4</text>
<line x1="404.60" y1="337.80" x2="408.60" y2="337.80" stroke="#000" stroke-width="1.5"/>
<text x="400.10" y="342.00" font-size="12.00" text-anchor="end" fill="#000" >0.6</text>
<line x1="406.30" y1="489.80" x2="408.60" y2="489.80" stroke="#000" stroke-width="1.5"/>
<line x1="406.30" y1="429.00" x2="408.60" y2="429.00" stroke="#000" stroke-width="1.5"/>
<line x1="406.30" y1="368.20" x2="408.60" y2="368.20" stroke="#000" stroke-width="1.5"/>
<line x1="443.03" y1="520.60" x2="443.03" y2="524.60" stroke="#000" stroke-width="1.5"/>
<text x="443.03" y="538.50" font-size="12.00" text-anchor="middle" fill="#000" >400</text>
<line x1="511.88" y1="520.60" x2="511.88" y2="524.60" stroke="#000" stroke-width="1.5"/>
<text x="511.88" y="538.50" font-size="12.00" text-anchor="middle" fill="#000" >500</text>
<line x1="580.73" y1="520.60" x2="580.73" y2="524.60" stroke="#000" stroke-width="1.5"/>
<text x="580.73" y="538.50" font-size="12.00" text-anchor="middle" fill="#000" >600</text>
<line x1="649.58" y1="520.60" x2="649.58" y2="524.60" stroke="#000" stroke-width="1.5"/>
<text x="649.58" y="538.50" font-size="12.00" text-anchor="middle" fill="#000" >700</text>
<line x1="477.45" y1="520.60" x2="477.45" y2="522.90" stroke="#000" stroke-width="1.5"/>
<line x1="546.30" y1="520.60" x2="546.30" y2="522.90" stroke="#000" stroke-width="1.5"/>
<line x1="615.15" y1="520.60" x2="615.15" y2="522.90" stroke="#000" stroke-width="1.5"/>
<text x="546.30" y="554.60" font-size="11.50" text-anchor="middle" fill="#000" >Wavelength (nm)</text>
<text transform="translate(373.50,420.50) rotate(-90)" font-size="11.5" text-anchor="middle">Absorbance (a.u.)</text>
<text x="456.40" y="347.30" font-size="13.20" text-anchor="start" fill="#ff0000" >25 °C</text>
<line x1="625.00" y1="331.80" x2="647.00" y2="331.80" stroke="#000000" stroke-width="1.7"/>
<text x="651.60" y="335.40" font-size="10.00" text-anchor="start" fill="#000" >20 °C</text>
<line x1="625.00" y1="345.75" x2="647.00" y2="345.75" stroke="#ff0000" stroke-width="1.7"/>
<text x="651.60" y="349.35" font-size="10.00" text-anchor="start" fill="#000" >30 °C</text>
<line x1="625.00" y1="359.70" x2="647.00" y2="359.70" stroke="#0000ff" stroke-width="1.7"/>
<text x="651.60" y="363.30" font-size="10.00" text-anchor="start" fill="#000" >40 °C</text>
<line x1="625.00" y1="373.65" x2="647.00" y2="373.65" stroke="#ff8000" stroke-width="1.7"/>
<text x="651.60" y="377.25" font-size="10.00" text-anchor="start" fill="#000" >50 °C</text>
<line x1="625.00" y1="387.60" x2="647.00" y2="387.60" stroke="#8000ff" stroke-width="1.7"/>
<text x="651.60" y="391.20" font-size="10.00" text-anchor="start" fill="#000" >60 °C</text>
<line x1="625.00" y1="401.55" x2="647.00" y2="401.55" stroke="#00a0ff" stroke-width="1.7"/>
<text x="651.60" y="405.15" font-size="10.00" text-anchor="start" fill="#000" >70 °C</text>
<line x1="625.00" y1="415.50" x2="647.00" y2="415.50" stroke="#33ee33" stroke-width="1.7"/>
<text x="651.60" y="419.10" font-size="10.00" text-anchor="start" fill="#000" >80 °C</text>
<line x1="625.00" y1="429.45" x2="647.00" y2="429.45" stroke="#800080" stroke-width="1.7"/>
<text x="651.60" y="433.05" font-size="10.00" text-anchor="start" fill="#000" >90 °C</text>
<line x1="625.00" y1="443.40" x2="647.00" y2="443.40" stroke="#006400" stroke-width="1.7"/>
<text x="651.60" y="447.00" font-size="10.00" text-anchor="start" fill="#000" >100 °C</text>
<rect x="417.60" y="495.40" width="42.80" height="23.00" fill="#000"/>
<rect x="414.60" y="492.40" width="42.80" height="23.00" fill="#fff" stroke="#888" stroke-width="0.8"/>
<text x="436.00" y="509.70" font-size="12.60" text-anchor="middle" fill="#000" >PM1</text>
<text x="0.50" y="590.50" font-size="16.50" text-anchor="start" fill="#000" >d</text>
<rect x="81.00" y="602.80" width="27.10" height="94.00" fill="#000" opacity="0.62" filter="url(#shad)"/>
<rect x="73.35" y="595.15" width="26.40" height="93.30" fill="#cfcfd6" stroke="#808088" stroke-width="0.7"/>
<rect x="74.60" y="594.80" width="23.90" height="16.20" fill="#f6f6fa"/>
<rect x="75.60" y="611.00" width="21.90" height="11.00" fill="#eeeee6"/>
<rect x="76.60" y="622.00" width="19.90" height="60.00" fill="url(#liqD)"/>
<rect x="74.20" y="682.00" width="24.70" height="6.40" fill="#e4d0dc"/>
<clipPath id="clipd"><rect x="61.00" y="589.00" width="270.50" height="199.40"/></clipPath>
<g clip-path="url(#clipd)" fill="none" stroke-width="1.75" stroke-linejoin="round" stroke-linecap="round">
<path d="M61.0,732.5 62.2,732.0 63.5,731.6 64.7,731.3 65.9,731.2 67.0,731.1 68.2,731.2 69.4,731.3 70.5,731.6 71.6,731.9 72.7,732.2 73.8,732.6 75.0,733.1 76.1,733.6 77.1,734.1 78.2,734.7 79.3,735.3 80.4,735.9 81.5,736.5 82.6,737.0 83.7,737.6 84.8,738.1 85.9,738.6 87.0,739.1 88.1,739.5 89.3,739.9 90.4,740.1 91.6,740.4 92.7,740.5 93.9,740.6 95.1,740.6 96.2,740.6 97.4,740.5 98.6,740.3 99.8,740.2 101.0,739.9 102.1,739.7 103.3,739.4 104.5,739.0 105.6,738.7 106.8,738.3 107.9,737.9 109.1,737.5 110.2,737.0 111.3,736.6 112.4,736.1 113.5,735.6 114.6,735.1 115.6,734.5 116.7,734.0 117.7,733.4 118.8,732.8 119.8,732.2 120.8,731.6 121.9,731.0 122.9,730.4 123.9,729.7 124.9,729.1 125.9,728.4 126.9,727.7 127.8,727.0 128.8,726.3 129.8,725.6 130.7,724.9 131.7,724.1 132.6,723.4 133.6,722.6 134.5,721.9 135.5,721.1 136.4,720.4 137.3,719.6 138.2,718.8 139.2,718.0 140.1,717.2 141.0,716.4 141.9,715.7 142.8,714.9 143.7,714.1 144.6,713.3 145.5,712.5 146.4,711.6 147.3,710.8 148.2,710.0 149.1,709.2 150.0,708.4 150.9,707.6 151.8,706.8 152.7,706.0 153.6,705.1 154.5,704.3 155.4,703.5 156.2,702.7 157.1,701.9 158.0,701.1 158.9,700.3 159.8,699.4 160.7,698.6 161.6,697.8 162.4,697.0 163.3,696.2 164.2,695.4 165.1,694.6 166.0,693.8 166.9,693.0 167.8,692.2 168.7,691.4 169.6,690.6 170.5,689.8 171.4,689.1 172.3,688.3 173.2,687.5 174.1,686.7 175.0,686.0 175.9,685.2 176.8,684.5 177.7,683.7 178.6,683.0 179.4,682.2 180.3,681.4 181.1,680.5 181.8,679.6 182.5,678.7 183.1,677.7 183.6,676.7 184.1,675.6 184.6,674.5 185.0,673.3 185.5,672.2 185.9,671.0 186.3,669.8 186.8,668.7 187.3,667.5 187.8,666.4 188.4,665.3 189.0,664.3 189.6,663.3 190.3,662.3 191.1,661.3 191.8,660.4 192.7,659.6 193.5,658.7 194.4,658.0 195.3,657.2 196.3,656.5 197.3,655.9 198.4,655.3 199.4,654.8 200.5,654.3 201.7,653.9 202.8,653.5 204.0,653.2 205.2,652.9 206.4,652.7 207.6,652.5 208.9,652.4 210.1,652.3 211.3,652.3 212.6,652.3 213.8,652.4 215.0,652.6 216.2,652.7 217.4,653.0 218.6,653.3 219.7,653.6 220.8,654.0 221.9,654.5 223.0,655.0 224.0,655.5 225.0,656.1 226.0,656.8 226.9,657.5 227.7,658.3 228.5,659.1 229.3,660.0 230.0,660.9 230.6,661.9 231.2,663.0 231.8,664.0 232.3,665.1 232.8,666.3 233.2,667.4 233.7,668.6 234.1,669.7 234.5,670.9 234.9,672.0 235.3,673.2 235.8,674.3 236.1,675.5 236.5,676.6 236.9,677.8 237.3,678.9 237.7,680.0 238.1,681.2 238.4,682.3 238.8,683.4 239.1,684.6 239.5,685.7 239.8,686.9 240.2,688.0 240.5,689.1 240.9,690.3 241.2,691.4 241.5,692.6 241.8,693.8 242.1,694.9 242.5,696.1 242.8,697.2 243.1,698.4 243.4,699.6 243.7,700.7 244.0,701.9 244.3,703.1 244.6,704.2 244.9,705.4 245.2,706.6 245.4,707.8 245.7,708.9 246.0,710.1 246.3,711.3 246.6,712.5 246.9,713.6 247.2,714.8 247.5,716.0 247.8,717.2 248.0,718.3 248.3,719.5 248.6,720.7 248.9,721.9 249.2,723.0 249.5,724.2 249.8,725.4 250.1,726.5 250.4,727.7 250.7,728.9 251.0,730.0 251.3,731.2 251.6,732.3 252.0,733.5 252.3,734.6 252.6,735.8 252.9,736.9 253.3,738.1 253.6,739.2 253.9,740.3 254.3,741.5 254.6,742.6 254.9,743.8 255.3,744.9 255.6,746.1 256.0,747.2 256.3,748.4 256.7,749.5 257.0,750.7 257.4,751.8 257.7,753.0 258.1,754.2 258.4,755.4 258.8,756.5 259.2,757.7 259.5,758.9 259.9,760.1 260.3,761.3 260.6,762.4 261.0,763.6 261.4,764.8 261.9,765.9 262.3,767.1 262.8,768.2 263.3,769.3 263.8,770.4 264.3,771.5 264.9,772.5 265.5,773.5 266.2,774.5 266.9,775.5 267.6,776.4 268.4,777.3 269.2,778.1 270.0,778.9 270.9,779.7 271.9,780.4 272.8,781.1 273.8,781.7 274.9,782.3 275.9,782.9 277.0,783.4 278.1,783.8 279.2,784.2 280.3,784.6 281.4,784.9 282.6,785.2 283.8,785.5 284.9,785.7 286.1,785.8 287.3,786.0 288.5,786.1 289.7,786.1 290.9,786.2 292.1,786.2 293.3,786.2 294.6,786.2 295.8,786.2 297.0,786.1 298.2,786.1 299.5,786.0 300.7,786.0 301.9,785.9 303.1,785.9 304.4,785.8 305.6,785.8 306.8,785.8 308.0,785.8 309.2,785.8 310.4,785.8 311.6,785.8 312.8,785.8 314.0,785.9 315.2,786.0 316.4,786.0 317.6,786.1 318.7,786.1 319.9,786.2 321.1,786.3 322.3,786.3 323.5,786.4 324.7,786.4 325.9,786.4 327.1,786.4 328.3,786.4 329.5,786.4 330.8,786.4 332.0,786.3" stroke="#000000"/>
<path d="M61.0,734.0 62.2,733.5 63.4,733.2 64.6,732.9 65.8,732.8 66.9,732.8 68.1,732.9 69.2,733.0 70.4,733.2 71.6,733.5 72.7,733.9 73.8,734.3 75.0,734.8 76.1,735.2 77.3,735.8 78.4,736.3 79.5,736.8 80.7,737.4 81.8,737.9 82.9,738.5 84.1,739.0 85.2,739.4 86.3,739.9 87.5,740.2 88.6,740.6 89.7,740.8 90.9,741.0 92.0,741.2 93.2,741.2 94.3,741.2 95.5,741.1 96.6,741.0 97.8,740.8 98.9,740.6 100.1,740.3 101.2,740.0 102.4,739.7 103.5,739.3 104.7,738.9 105.8,738.5 106.9,738.0 108.1,737.6 109.2,737.1 110.3,736.6 111.4,736.1 112.5,735.6 113.6,735.1 114.7,734.6 115.7,734.0 116.8,733.5 117.9,732.9 118.9,732.3 120.0,731.7 121.0,731.1 122.1,730.5 123.1,729.9 124.1,729.2 125.1,728.6 126.2,727.9 127.2,727.3 128.2,726.6 129.1,725.9 130.1,725.2 131.1,724.5 132.1,723.7 133.0,723.0 134.0,722.3 134.9,721.5 135.9,720.7 136.8,720.0 137.7,719.2 138.6,718.4 139.5,717.6 140.4,716.8 141.3,716.0 142.2,715.2 143.1,714.4 143.9,713.5 144.8,712.7 145.7,711.9 146.5,711.0 147.4,710.2 148.2,709.3 149.1,708.5 150.0,707.7 150.8,706.8 151.7,706.0 152.6,705.2 153.4,704.3 154.3,703.5 155.2,702.7 156.1,701.9 157.0,701.1 158.0,700.3 158.9,699.5 159.8,698.7 160.8,697.9 161.7,697.2 162.6,696.4 163.6,695.7 164.5,694.9 165.5,694.2 166.5,693.4 167.4,692.7 168.4,691.9 169.3,691.2 170.2,690.4 171.2,689.7 172.1,688.9 173.0,688.2 173.9,687.4 174.8,686.7 175.7,685.9 176.6,685.1 177.5,684.4 178.3,683.5 179.1,682.7 179.8,681.8 180.6,680.9 181.3,680.0 181.9,679.0 182.5,678.0 183.1,677.0 183.7,675.9 184.2,674.8 184.8,673.7 185.3,672.6 185.9,671.6 186.5,670.5 187.2,669.5 187.9,668.6 188.6,667.6 189.4,666.7 190.2,665.9 191.1,665.0 192.0,664.3 192.9,663.5 193.8,662.8 194.8,662.2 195.8,661.6 196.8,661.0 197.9,660.5 198.9,660.0 200.0,659.6 201.2,659.2 202.3,658.9 203.5,658.7 204.6,658.4 205.8,658.3 207.0,658.2 208.3,658.1 209.5,658.2 210.7,658.2 212.0,658.4 213.2,658.6 214.5,658.8 215.7,659.1 216.9,659.5 218.1,659.9 219.2,660.3 220.3,660.8 221.4,661.4 222.4,662.0 223.4,662.7 224.4,663.4 225.3,664.2 226.1,665.0 226.9,665.8 227.6,666.7 228.4,667.6 229.1,668.6 229.7,669.6 230.3,670.6 230.9,671.6 231.5,672.7 232.0,673.8 232.5,674.9 233.0,676.0 233.5,677.1 234.0,678.2 234.4,679.4 234.8,680.5 235.3,681.6 235.7,682.8 236.1,683.9 236.5,685.1 236.9,686.2 237.4,687.3 237.7,688.5 238.1,689.6 238.5,690.7 238.9,691.9 239.3,693.0 239.6,694.2 240.0,695.3 240.3,696.4 240.7,697.6 241.0,698.7 241.4,699.9 241.7,701.0 242.1,702.2 242.4,703.3 242.7,704.5 243.0,705.7 243.3,706.8 243.7,708.0 244.0,709.2 244.3,710.3 244.6,711.5 244.9,712.7 245.2,713.8 245.5,715.0 245.8,716.2 246.1,717.3 246.4,718.5 246.7,719.7 247.0,720.9 247.3,722.0 247.6,723.2 247.9,724.4 248.2,725.6 248.5,726.7 248.8,727.9 249.1,729.1 249.4,730.2 249.7,731.4 250.1,732.6 250.4,733.7 250.7,734.9 251.0,736.1 251.4,737.2 251.7,738.4 252.1,739.5 252.4,740.7 252.8,741.8 253.1,743.0 253.5,744.1 253.9,745.2 254.3,746.4 254.7,747.5 255.1,748.6 255.5,749.7 255.9,750.9 256.3,752.0 256.8,753.1 257.2,754.2 257.6,755.3 258.1,756.4 258.6,757.6 259.0,758.7 259.5,759.8 260.0,760.9 260.5,762.0 261.0,763.2 261.5,764.3 262.0,765.4 262.5,766.6 263.0,767.7 263.5,768.8 264.1,769.9 264.6,771.1 265.2,772.1 265.8,773.2 266.4,774.3 267.1,775.3 267.8,776.3 268.5,777.2 269.2,778.1 270.0,779.0 270.8,779.8 271.7,780.5 272.6,781.2 273.5,781.9 274.5,782.4 275.5,783.0 276.6,783.4 277.7,783.8 278.8,784.2 280.0,784.5 281.2,784.8 282.4,785.0 283.6,785.2 284.8,785.4 286.0,785.5 287.3,785.7 288.5,785.8 289.7,785.8 291.0,785.9 292.2,786.0 293.4,786.0 294.6,786.0 295.8,786.1 297.1,786.1 298.3,786.1 299.5,786.1 300.7,786.1 301.9,786.0 303.1,786.0 304.3,786.0 305.5,786.0 306.7,786.0 307.9,786.0 309.1,786.0 310.3,786.0 311.5,786.0 312.7,786.0 313.9,786.0 315.1,786.0 316.3,786.0 317.5,786.1 318.7,786.1 319.9,786.1 321.1,786.2 322.3,786.2 323.6,786.2 324.8,786.3 326.0,786.3 327.2,786.3 328.4,786.3 329.6,786.3 330.8,786.3 332.0,786.3" stroke="#ff0000"/>
<path d="M61.0,734.9 62.2,734.5 63.4,734.1 64.5,733.9 65.7,733.8 66.9,733.8 68.1,733.8 69.2,734.0 70.4,734.2 71.6,734.5 72.7,734.8 73.9,735.1 75.1,735.5 76.3,736.0 77.4,736.4 78.6,736.9 79.8,737.4 80.9,737.8 82.1,738.3 83.2,738.7 84.4,739.1 85.6,739.5 86.7,739.9 87.9,740.1 89.0,740.4 90.2,740.5 91.3,740.6 92.5,740.6 93.6,740.6 94.8,740.5 95.9,740.3 97.1,740.1 98.2,739.8 99.4,739.5 100.5,739.1 101.6,738.8 102.7,738.3 103.9,737.9 105.0,737.4 106.1,737.0 107.2,736.5 108.3,736.0 109.4,735.5 110.5,735.0 111.6,734.5 112.7,733.9 113.8,733.4 114.8,732.8 115.9,732.3 117.0,731.7 118.0,731.1 119.1,730.5 120.1,730.0 121.2,729.3 122.2,728.7 123.2,728.1 124.2,727.5 125.3,726.8 126.3,726.2 127.3,725.5 128.3,724.8 129.2,724.2 130.2,723.5 131.2,722.8 132.2,722.0 133.1,721.3 134.1,720.6 135.0,719.8 135.9,719.1 136.9,718.3 137.8,717.5 138.7,716.7 139.6,716.0 140.5,715.1 141.4,714.3 142.3,713.5 143.1,712.7 144.0,711.9 144.9,711.0 145.8,710.2 146.6,709.4 147.5,708.5 148.4,707.7 149.2,706.8 150.1,706.0 151.0,705.1 151.8,704.3 152.7,703.4 153.6,702.6 154.4,701.8 155.3,701.0 156.2,700.1 157.1,699.3 158.0,698.5 158.9,697.7 159.8,696.9 160.7,696.1 161.6,695.3 162.5,694.6 163.5,693.8 164.4,693.1 165.4,692.4 166.3,691.6 167.3,690.9 168.3,690.3 169.3,689.6 170.3,688.9 171.3,688.3 172.4,687.7 173.4,687.0 174.4,686.4 175.4,685.8 176.4,685.1 177.3,684.4 178.3,683.7 179.1,682.9 179.9,682.1 180.7,681.2 181.4,680.3 182.1,679.3 182.8,678.3 183.4,677.3 184.0,676.3 184.7,675.2 185.3,674.2 185.9,673.1 186.5,672.1 187.2,671.1 187.9,670.1 188.6,669.2 189.4,668.4 190.3,667.6 191.1,666.9 192.1,666.2 193.1,665.7 194.2,665.3 195.3,664.9 196.5,664.7 197.7,664.5 199.0,664.4 200.3,664.4 201.6,664.4 202.9,664.5 204.2,664.6 205.5,664.8 206.8,665.1 208.1,665.4 209.4,665.7 210.6,666.1 211.8,666.5 212.9,667.0 214.1,667.4 215.2,667.9 216.2,668.5 217.3,669.1 218.3,669.7 219.3,670.3 220.2,671.0 221.1,671.7 222.0,672.4 222.9,673.1 223.7,673.9 224.5,674.7 225.3,675.5 226.1,676.4 226.8,677.3 227.5,678.2 228.2,679.1 228.9,680.0 229.6,681.0 230.2,681.9 230.8,682.9 231.4,683.9 232.0,684.9 232.6,686.0 233.1,687.0 233.6,688.1 234.1,689.2 234.6,690.3 235.1,691.4 235.6,692.5 236.0,693.6 236.5,694.8 236.9,695.9 237.3,697.1 237.7,698.2 238.1,699.4 238.5,700.6 238.9,701.7 239.3,702.9 239.7,704.1 240.0,705.3 240.4,706.5 240.7,707.7 241.1,708.9 241.4,710.1 241.7,711.2 242.1,712.4 242.4,713.6 242.7,714.8 243.1,716.0 243.4,717.1 243.7,718.3 244.0,719.5 244.4,720.6 244.7,721.8 245.0,722.9 245.4,724.1 245.7,725.2 246.0,726.3 246.4,727.5 246.7,728.6 247.0,729.7 247.4,730.9 247.7,732.0 248.1,733.1 248.4,734.3 248.8,735.4 249.1,736.5 249.5,737.6 249.8,738.8 250.2,739.9 250.6,741.0 251.0,742.1 251.3,743.3 251.7,744.4 252.1,745.5 252.5,746.6 252.9,747.8 253.3,748.9 253.7,750.0 254.1,751.2 254.5,752.3 254.9,753.5 255.4,754.6 255.8,755.7 256.2,756.9 256.7,758.0 257.2,759.2 257.6,760.3 258.1,761.5 258.6,762.6 259.1,763.8 259.6,764.9 260.2,766.0 260.7,767.1 261.3,768.2 261.9,769.2 262.5,770.3 263.1,771.3 263.8,772.3 264.5,773.3 265.2,774.3 265.9,775.2 266.7,776.1 267.5,777.0 268.3,777.9 269.1,778.7 270.0,779.5 270.9,780.2 271.8,780.9 272.8,781.6 273.7,782.2 274.7,782.8 275.8,783.3 276.8,783.8 277.9,784.3 279.0,784.6 280.1,785.0 281.3,785.2 282.4,785.4 283.6,785.6 284.9,785.7 286.1,785.8 287.3,785.8 288.6,785.8 289.8,785.9 291.0,785.9 292.2,785.9 293.5,785.9 294.7,786.0 295.9,786.0 297.1,786.0 298.3,786.0 299.5,786.0 300.7,786.0 302.0,786.1 303.2,786.1 304.4,786.1 305.6,786.1 306.8,786.1 308.0,786.1 309.1,786.1 310.3,786.1 311.5,786.2 312.7,786.2 313.9,786.2 315.1,786.2 316.3,786.2 317.5,786.2 318.7,786.2 319.9,786.2 321.1,786.3 322.3,786.3 323.5,786.3 324.7,786.3 325.9,786.3 327.1,786.3 328.4,786.3 329.6,786.4 330.8,786.4 332.0,786.4" stroke="#0000ff"/>
<path d="M61.0,733.0 62.2,732.4 63.3,731.9 64.5,731.6 65.7,731.4 66.8,731.4 68.0,731.4 69.1,731.5 70.2,731.8 71.4,732.1 72.5,732.4 73.7,732.9 74.8,733.3 75.9,733.9 77.0,734.4 78.2,735.0 79.3,735.6 80.4,736.2 81.5,736.7 82.7,737.3 83.8,737.9 84.9,738.4 86.0,738.8 87.1,739.2 88.3,739.6 89.4,739.9 90.5,740.0 91.7,740.2 92.8,740.2 93.9,740.1 95.1,740.0 96.2,739.8 97.3,739.6 98.5,739.2 99.6,738.9 100.7,738.5 101.8,738.1 103.0,737.6 104.1,737.1 105.2,736.6 106.3,736.1 107.4,735.6 108.5,735.0 109.6,734.5 110.7,733.9 111.7,733.4 112.8,732.8 113.9,732.2 114.9,731.7 116.0,731.1 117.0,730.5 118.1,729.9 119.1,729.3 120.2,728.7 121.2,728.0 122.2,727.4 123.2,726.8 124.2,726.1 125.2,725.4 126.2,724.8 127.2,724.1 128.2,723.4 129.2,722.7 130.1,722.0 131.1,721.3 132.0,720.6 133.0,719.8 133.9,719.1 134.8,718.3 135.8,717.6 136.7,716.8 137.6,716.0 138.5,715.2 139.4,714.4 140.3,713.6 141.2,712.8 142.1,712.0 142.9,711.1 143.8,710.3 144.7,709.4 145.6,708.6 146.4,707.8 147.3,706.9 148.2,706.1 149.0,705.2 149.9,704.4 150.8,703.5 151.6,702.7 152.5,701.8 153.4,701.0 154.3,700.2 155.2,699.3 156.1,698.5 157.0,697.7 157.9,696.9 158.8,696.1 159.7,695.4 160.6,694.6 161.5,693.8 162.5,693.1 163.4,692.4 164.4,691.7 165.4,691.0 166.4,690.3 167.3,689.6 168.4,689.0 169.4,688.3 170.4,687.7 171.5,687.2 172.5,686.6 173.6,686.0 174.6,685.4 175.6,684.8 176.6,684.2 177.6,683.5 178.5,682.8 179.4,682.1 180.2,681.3 181.0,680.4 181.8,679.5 182.5,678.6 183.2,677.6 183.9,676.6 184.5,675.6 185.2,674.6 185.9,673.6 186.6,672.6 187.3,671.7 188.1,670.8 188.9,670.0 189.7,669.3 190.7,668.7 191.7,668.1 192.7,667.7 193.8,667.3 195.0,667.0 196.2,666.9 197.4,666.8 198.7,666.7 200.0,666.8 201.3,666.9 202.6,667.0 203.9,667.3 205.1,667.5 206.4,667.9 207.7,668.2 208.9,668.6 210.1,669.0 211.2,669.5 212.4,670.0 213.4,670.6 214.5,671.1 215.5,671.7 216.5,672.3 217.5,673.0 218.5,673.7 219.4,674.4 220.3,675.1 221.1,675.9 222.0,676.7 222.8,677.5 223.6,678.3 224.3,679.2 225.1,680.1 225.8,681.0 226.5,681.9 227.2,682.9 227.8,683.8 228.5,684.8 229.1,685.8 229.7,686.8 230.3,687.9 230.9,688.9 231.4,690.0 232.0,691.1 232.5,692.1 233.0,693.2 233.5,694.4 234.0,695.5 234.4,696.6 234.9,697.7 235.3,698.9 235.8,700.0 236.2,701.2 236.6,702.4 237.0,703.5 237.4,704.7 237.8,705.9 238.2,707.0 238.6,708.2 238.9,709.4 239.3,710.6 239.7,711.8 240.0,712.9 240.4,714.1 240.7,715.3 241.1,716.4 241.5,717.6 241.8,718.7 242.2,719.9 242.5,721.0 242.9,722.2 243.2,723.3 243.6,724.5 243.9,725.6 244.3,726.7 244.6,727.9 245.0,729.0 245.3,730.1 245.7,731.3 246.0,732.4 246.4,733.5 246.8,734.6 247.1,735.8 247.5,736.9 247.9,738.0 248.2,739.1 248.6,740.3 249.0,741.4 249.4,742.5 249.7,743.6 250.1,744.8 250.5,745.9 250.9,747.0 251.3,748.1 251.7,749.3 252.1,750.4 252.5,751.6 253.0,752.7 253.4,753.8 253.8,755.0 254.2,756.1 254.7,757.3 255.1,758.5 255.6,759.6 256.1,760.8 256.5,761.9 257.0,763.1 257.5,764.2 258.1,765.3 258.6,766.4 259.2,767.5 259.7,768.6 260.3,769.7 261.0,770.7 261.6,771.7 262.3,772.7 263.0,773.7 263.7,774.7 264.4,775.6 265.2,776.5 266.0,777.3 266.8,778.2 267.7,779.0 268.6,779.7 269.5,780.4 270.5,781.1 271.4,781.7 272.4,782.3 273.4,782.9 274.5,783.4 275.6,783.9 276.7,784.3 277.8,784.7 278.9,785.0 280.1,785.3 281.2,785.5 282.4,785.7 283.6,785.8 284.8,785.9 286.1,785.9 287.3,786.0 288.5,786.0 289.8,786.0 291.0,786.0 292.2,786.0 293.4,786.1 294.7,786.1 295.9,786.1 297.1,786.1 298.3,786.1 299.5,786.1 300.7,786.1 301.9,786.2 303.1,786.2 304.3,786.2 305.5,786.2 306.7,786.2 307.9,786.2 309.1,786.2 310.3,786.2 311.5,786.3 312.7,786.3 313.9,786.3 315.1,786.3 316.3,786.3 317.5,786.3 318.7,786.3 319.9,786.3 321.1,786.3 322.3,786.4 323.5,786.4 324.7,786.4 325.9,786.4 327.1,786.4 328.4,786.4 329.6,786.5 330.8,786.5 332.0,786.5" stroke="#ff8000"/>
<path d="M61.0,730.2 62.1,730.3 63.2,730.4 64.4,730.6 65.5,730.9 66.6,731.2 67.8,731.6 68.9,732.0 70.0,732.4 71.2,732.8 72.3,733.3 73.5,733.8 74.6,734.3 75.8,734.8 76.9,735.3 78.1,735.8 79.2,736.3 80.4,736.8 81.5,737.2 82.7,737.7 83.8,738.1 85.0,738.5 86.1,738.8 87.3,739.1 88.4,739.4 89.6,739.6 90.7,739.7 91.8,739.8 93.0,739.8 94.1,739.8 95.2,739.6 96.4,739.4 97.5,739.2 98.6,738.9 99.7,738.5 100.9,738.1 102.0,737.6 103.1,737.1 104.2,736.6 105.3,736.1 106.4,735.5 107.4,734.9 108.5,734.3 109.6,733.7 110.7,733.0 111.7,732.4 112.8,731.8 113.9,731.2 114.9,730.5 115.9,729.9 117.0,729.3 118.0,728.6 119.0,728.0 120.0,727.3 121.1,726.7 122.1,726.0 123.1,725.3 124.1,724.7 125.0,724.0 126.0,723.3 127.0,722.6 128.0,721.9 128.9,721.2 129.9,720.5 130.8,719.8 131.8,719.1 132.7,718.3 133.6,717.6 134.6,716.8 135.5,716.1 136.4,715.3 137.3,714.5 138.2,713.7 139.1,712.9 140.0,712.1 140.9,711.3 141.7,710.5 142.6,709.6 143.5,708.8 144.3,707.9 145.2,707.0 146.0,706.2 146.9,705.3 147.8,704.5 148.6,703.6 149.5,702.7 150.3,701.9 151.2,701.0 152.1,700.1 153.0,699.3 153.8,698.5 154.7,697.6 155.6,696.8 156.5,696.0 157.4,695.2 158.4,694.4 159.3,693.7 160.2,692.9 161.2,692.2 162.2,691.5 163.1,690.8 164.1,690.1 165.2,689.5 166.2,688.8 167.2,688.2 168.3,687.7 169.4,687.1 170.5,686.6 171.6,686.1 172.7,685.7 173.8,685.2 174.9,684.7 176.0,684.2 177.1,683.6 178.0,683.0 178.9,682.3 179.8,681.6 180.5,680.7 181.3,679.8 182.0,678.9 182.7,678.0 183.5,677.1 184.3,676.2 185.3,675.5 186.3,674.8 187.5,674.2 188.7,673.8 189.9,673.4 191.1,673.0 192.3,672.8 193.5,672.6 194.7,672.4 195.9,672.4 197.0,672.4 198.2,672.4 199.4,672.5 200.5,672.7 201.7,672.9 202.8,673.2 204.0,673.5 205.1,673.9 206.2,674.3 207.3,674.8 208.3,675.3 209.4,675.9 210.4,676.5 211.5,677.1 212.5,677.8 213.5,678.5 214.4,679.2 215.4,679.9 216.3,680.7 217.2,681.5 218.1,682.4 219.0,683.2 219.8,684.1 220.7,685.0 221.5,685.9 222.2,686.8 223.0,687.8 223.7,688.7 224.4,689.7 225.1,690.7 225.8,691.7 226.4,692.7 227.0,693.7 227.7,694.8 228.2,695.8 228.8,696.8 229.4,697.9 229.9,699.0 230.5,700.1 231.0,701.2 231.5,702.3 232.0,703.4 232.4,704.5 232.9,705.6 233.3,706.7 233.8,707.8 234.2,709.0 234.6,710.1 235.1,711.3 235.5,712.4 235.9,713.6 236.2,714.7 236.6,715.9 237.0,717.0 237.4,718.2 237.8,719.4 238.1,720.5 238.5,721.7 238.9,722.8 239.2,724.0 239.6,725.1 240.0,726.3 240.3,727.4 240.7,728.6 241.1,729.7 241.4,730.9 241.8,732.0 242.2,733.1 242.6,734.3 243.0,735.4 243.3,736.5 243.7,737.6 244.1,738.8 244.5,739.9 244.9,741.0 245.3,742.1 245.7,743.3 246.1,744.4 246.6,745.5 247.0,746.6 247.4,747.7 247.9,748.8 248.3,750.0 248.7,751.1 249.2,752.2 249.7,753.3 250.1,754.4 250.6,755.6 251.1,756.7 251.6,757.8 252.1,759.0 252.6,760.1 253.1,761.2 253.6,762.4 254.1,763.5 254.7,764.6 255.2,765.7 255.8,766.8 256.4,767.9 257.0,769.0 257.6,770.1 258.2,771.2 258.9,772.2 259.5,773.2 260.2,774.2 261.0,775.1 261.7,776.1 262.5,777.0 263.2,777.8 264.1,778.6 264.9,779.4 265.8,780.2 266.7,780.9 267.6,781.5 268.6,782.1 269.6,782.7 270.6,783.2 271.7,783.6 272.8,784.0 273.9,784.4 275.0,784.7 276.2,785.0 277.4,785.2 278.6,785.4 279.8,785.6 281.1,785.7 282.3,785.9 283.5,786.0 284.8,786.1 286.1,786.1 287.3,786.2 288.6,786.2 289.8,786.3 291.1,786.3 292.3,786.3 293.5,786.4 294.7,786.4 296.0,786.4 297.2,786.4 298.4,786.4 299.6,786.5 300.8,786.5 302.0,786.5 303.2,786.5 304.4,786.5 305.5,786.5 306.7,786.5 307.9,786.5 309.1,786.5 310.3,786.5 311.5,786.5 312.7,786.5 313.8,786.5 315.0,786.5 316.2,786.5 317.4,786.5 318.6,786.5 319.8,786.5 321.0,786.5 322.2,786.5 323.4,786.5 324.6,786.5 325.8,786.5 327.1,786.5 328.3,786.5 329.5,786.5 330.8,786.6 332.0,786.6" stroke="#8000ff"/>
<path d="M61.0,733.0 62.1,733.0 63.3,733.0 64.4,733.1 65.6,733.3 66.8,733.5 67.9,733.7 69.1,734.0 70.3,734.3 71.5,734.7 72.7,735.0 73.8,735.4 75.0,735.8 76.2,736.1 77.4,736.5 78.6,736.9 79.8,737.3 81.0,737.6 82.2,738.0 83.3,738.3 84.5,738.6 85.7,738.8 86.9,739.1 88.0,739.2 89.2,739.4 90.4,739.4 91.5,739.4 92.7,739.4 93.8,739.3 95.0,739.1 96.1,738.8 97.2,738.5 98.3,738.2 99.4,737.8 100.6,737.3 101.6,736.8 102.7,736.3 103.8,735.8 104.9,735.2 106.0,734.6 107.0,734.0 108.1,733.4 109.1,732.8 110.2,732.2 111.2,731.6 112.3,730.9 113.3,730.3 114.3,729.6 115.3,729.0 116.3,728.3 117.3,727.6 118.3,727.0 119.3,726.3 120.3,725.6 121.3,724.9 122.2,724.2 123.2,723.5 124.1,722.7 125.1,722.0 126.0,721.3 127.0,720.5 127.9,719.8 128.9,719.0 129.8,718.2 130.7,717.5 131.6,716.7 132.5,715.9 133.4,715.1 134.3,714.3 135.2,713.5 136.1,712.7 137.0,711.9 137.9,711.1 138.8,710.2 139.6,709.4 140.5,708.6 141.4,707.7 142.2,706.9 143.1,706.0 144.0,705.2 144.8,704.3 145.7,703.5 146.6,702.7 147.5,701.8 148.3,701.0 149.2,700.2 150.1,699.3 151.0,698.5 151.9,697.7 152.8,696.9 153.7,696.1 154.6,695.4 155.5,694.6 156.4,693.9 157.4,693.1 158.3,692.4 159.3,691.7 160.3,691.0 161.3,690.3 162.3,689.7 163.3,689.0 164.3,688.4 165.3,687.8 166.4,687.3 167.4,686.7 168.5,686.2 169.6,685.7 170.7,685.2 171.8,684.7 173.0,684.2 174.1,683.7 175.2,683.1 176.3,682.6 177.4,682.1 178.5,681.5 179.6,681.0 180.7,680.5 181.8,679.9 183.0,679.5 184.1,679.0 185.2,678.6 186.3,678.3 187.4,678.1 188.6,677.9 189.7,677.8 190.8,677.8 192.0,677.8 193.1,677.9 194.3,678.1 195.4,678.3 196.5,678.6 197.7,678.9 198.8,679.2 199.9,679.7 201.0,680.1 202.1,680.6 203.1,681.1 204.2,681.7 205.2,682.3 206.3,682.9 207.3,683.6 208.2,684.3 209.2,685.0 210.1,685.7 211.1,686.5 212.0,687.2 212.9,688.0 213.7,688.8 214.6,689.7 215.4,690.5 216.2,691.4 217.0,692.3 217.8,693.2 218.5,694.1 219.3,695.1 220.0,696.0 220.7,697.0 221.4,698.0 222.1,699.0 222.8,700.0 223.4,701.0 224.1,702.0 224.7,703.1 225.3,704.1 225.9,705.2 226.5,706.3 227.1,707.4 227.7,708.5 228.2,709.6 228.8,710.7 229.3,711.8 229.8,712.9 230.3,714.0 230.9,715.1 231.4,716.2 231.8,717.4 232.3,718.5 232.8,719.6 233.3,720.8 233.7,721.9 234.2,723.0 234.6,724.1 235.1,725.3 235.5,726.4 235.9,727.5 236.4,728.6 236.8,729.7 237.2,730.8 237.6,731.9 238.0,733.1 238.4,734.2 238.8,735.3 239.2,736.4 239.6,737.5 240.0,738.6 240.5,739.7 240.9,740.8 241.3,741.9 241.7,743.0 242.1,744.2 242.5,745.3 242.9,746.4 243.3,747.5 243.7,748.6 244.2,749.7 244.6,750.9 245.0,752.0 245.5,753.1 245.9,754.2 246.4,755.4 246.8,756.5 247.3,757.6 247.8,758.8 248.2,759.9 248.7,761.1 249.2,762.2 249.7,763.4 250.3,764.5 250.8,765.6 251.3,766.8 251.9,767.9 252.5,769.0 253.1,770.1 253.7,771.1 254.3,772.2 255.0,773.2 255.7,774.2 256.4,775.2 257.1,776.1 257.9,777.0 258.6,777.9 259.5,778.7 260.3,779.5 261.2,780.2 262.0,780.9 263.0,781.6 263.9,782.2 264.9,782.7 265.9,783.2 267.0,783.7 268.1,784.1 269.2,784.4 270.3,784.8 271.4,785.0 272.6,785.3 273.8,785.5 275.0,785.7 276.2,785.9 277.4,786.0 278.6,786.1 279.9,786.2 281.1,786.3 282.4,786.4 283.6,786.4 284.9,786.4 286.1,786.5 287.4,786.5 288.6,786.5 289.9,786.5 291.1,786.5 292.3,786.5 293.6,786.5 294.8,786.5 296.0,786.5 297.2,786.5 298.4,786.5 299.6,786.5 300.8,786.6 302.0,786.6 303.2,786.6 304.4,786.6 305.6,786.6 306.8,786.6 307.9,786.6 309.1,786.6 310.3,786.6 311.5,786.6 312.7,786.6 313.9,786.6 315.1,786.6 316.2,786.6 317.4,786.6 318.6,786.6 319.8,786.6 321.0,786.6 322.2,786.7 323.4,786.7 324.6,786.7 325.8,786.7 327.1,786.7 328.3,786.7 329.5,786.8 330.8,786.8 332.0,786.8" stroke="#00a0ff"/>
<path d="M61.0,732.0 62.1,732.2 63.3,732.5 64.4,732.8 65.6,733.1 66.7,733.5 67.9,733.8 69.0,734.2 70.2,734.5 71.4,734.9 72.6,735.3 73.7,735.6 74.9,736.0 76.1,736.3 77.3,736.6 78.5,737.0 79.6,737.3 80.8,737.5 82.0,737.8 83.2,738.0 84.4,738.2 85.5,738.4 86.7,738.5 87.9,738.6 89.0,738.6 90.2,738.6 91.4,738.6 92.5,738.4 93.6,738.3 94.8,738.1 95.9,737.8 97.0,737.5 98.1,737.1 99.3,736.7 100.4,736.3 101.4,735.8 102.5,735.3 103.6,734.7 104.7,734.1 105.7,733.5 106.8,732.9 107.8,732.3 108.9,731.6 109.9,730.9 110.9,730.2 111.9,729.6 112.9,728.9 113.9,728.2 114.9,727.5 115.8,726.7 116.8,726.0 117.7,725.3 118.7,724.6 119.6,723.8 120.6,723.1 121.5,722.3 122.4,721.6 123.3,720.8 124.2,720.0 125.1,719.2 126.0,718.5 126.9,717.7 127.8,716.9 128.7,716.1 129.6,715.3 130.5,714.5 131.4,713.7 132.2,712.9 133.1,712.1 134.0,711.2 134.9,710.4 135.7,709.6 136.6,708.8 137.5,707.9 138.4,707.1 139.2,706.2 140.1,705.4 141.0,704.6 141.9,703.7 142.7,702.9 143.6,702.0 144.5,701.2 145.4,700.3 146.3,699.5 147.2,698.7 148.1,697.8 149.0,697.0 149.9,696.2 150.8,695.4 151.7,694.6 152.7,693.8 153.6,693.1 154.5,692.3 155.5,691.6 156.5,690.8 157.4,690.1 158.4,689.5 159.4,688.8 160.4,688.1 161.4,687.5 162.4,686.9 163.5,686.3 164.5,685.8 165.6,685.3 166.6,684.8 167.7,684.3 168.8,683.8 169.9,683.4 171.0,683.0 172.2,682.7 173.3,682.4 174.5,682.1 175.7,681.9 176.9,681.6 178.1,681.5 179.3,681.3 180.5,681.3 181.7,681.2 182.9,681.2 184.1,681.3 185.3,681.3 186.5,681.5 187.7,681.7 188.8,681.9 190.0,682.2 191.1,682.5 192.2,682.9 193.3,683.3 194.3,683.8 195.4,684.4 196.4,685.0 197.4,685.6 198.3,686.3 199.3,687.0 200.2,687.8 201.1,688.5 202.0,689.3 202.9,690.2 203.8,691.0 204.6,691.9 205.5,692.7 206.3,693.6 207.1,694.5 208.0,695.4 208.8,696.3 209.6,697.2 210.4,698.1 211.2,699.0 211.9,699.9 212.7,700.8 213.5,701.8 214.2,702.7 215.0,703.7 215.7,704.6 216.5,705.6 217.2,706.6 217.9,707.5 218.6,708.5 219.3,709.5 220.0,710.5 220.7,711.5 221.3,712.5 222.0,713.5 222.7,714.5 223.3,715.5 223.9,716.6 224.6,717.6 225.2,718.6 225.8,719.7 226.4,720.7 227.0,721.7 227.6,722.8 228.1,723.9 228.7,724.9 229.3,726.0 229.8,727.1 230.4,728.1 230.9,729.2 231.4,730.3 231.9,731.4 232.4,732.5 232.9,733.6 233.4,734.7 233.9,735.8 234.4,736.9 234.8,738.0 235.3,739.1 235.8,740.2 236.2,741.3 236.7,742.4 237.1,743.5 237.6,744.6 238.1,745.7 238.5,746.9 239.0,748.0 239.4,749.1 239.9,750.2 240.4,751.3 240.8,752.4 241.3,753.5 241.8,754.6 242.3,755.8 242.7,756.9 243.2,758.0 243.7,759.1 244.3,760.2 244.8,761.3 245.3,762.4 245.8,763.4 246.4,764.5 247.0,765.6 247.5,766.7 248.1,767.8 248.7,768.8 249.3,769.9 250.0,770.9 250.6,771.9 251.3,772.9 252.0,773.9 252.7,774.9 253.4,775.8 254.2,776.7 255.0,777.6 255.9,778.4 256.7,779.2 257.6,779.9 258.5,780.6 259.5,781.3 260.5,781.9 261.5,782.4 262.5,783.0 263.6,783.5 264.7,783.9 265.8,784.3 266.9,784.7 268.1,785.1 269.2,785.4 270.4,785.6 271.6,785.9 272.8,786.1 274.0,786.3 275.2,786.4 276.4,786.5 277.6,786.6 278.8,786.7 280.0,786.8 281.3,786.8 282.5,786.8 283.7,786.9 285.0,786.9 286.2,786.9 287.4,786.9 288.6,786.9 289.9,786.8 291.1,786.8 292.3,786.8 293.5,786.8 294.7,786.8 295.9,786.8 297.2,786.8 298.4,786.8 299.6,786.8 300.8,786.8 302.0,786.8 303.2,786.8 304.4,786.8 305.5,786.8 306.7,786.9 307.9,786.9 309.1,786.9 310.3,786.9 311.5,786.9 312.7,786.9 313.9,786.9 315.1,786.9 316.3,786.9 317.5,786.9 318.7,786.9 319.9,786.9 321.1,787.0 322.3,787.0 323.5,787.0 324.7,787.0 325.9,787.0 327.1,787.0 328.3,787.0 329.6,787.0 330.8,787.0 332.0,787.0" stroke="#33ee33"/>
<path d="M61.0,730.5 62.1,730.8 63.2,731.1 64.4,731.5 65.5,731.8 66.6,732.2 67.8,732.6 68.9,733.0 70.1,733.4 71.3,733.8 72.4,734.2 73.6,734.6 74.8,734.9 75.9,735.3 77.1,735.6 78.3,736.0 79.4,736.3 80.6,736.6 81.8,736.8 83.0,737.1 84.1,737.2 85.3,737.4 86.5,737.5 87.6,737.6 88.8,737.6 89.9,737.6 91.0,737.5 92.2,737.4 93.3,737.2 94.4,736.9 95.5,736.6 96.6,736.2 97.7,735.8 98.8,735.3 99.9,734.8 101.0,734.3 102.0,733.7 103.1,733.1 104.1,732.4 105.2,731.7 106.2,731.0 107.2,730.3 108.2,729.6 109.2,728.9 110.2,728.1 111.2,727.4 112.1,726.6 113.1,725.9 114.0,725.1 115.0,724.4 115.9,723.6 116.9,722.9 117.8,722.1 118.7,721.3 119.6,720.6 120.5,719.8 121.4,719.0 122.3,718.3 123.2,717.5 124.1,716.7 125.0,715.9 125.8,715.1 126.7,714.3 127.6,713.5 128.4,712.7 129.3,711.9 130.2,711.1 131.0,710.3 131.9,709.5 132.8,708.7 133.6,707.9 134.5,707.0 135.4,706.2 136.2,705.4 137.1,704.5 137.9,703.7 138.8,702.8 139.7,702.0 140.6,701.1 141.4,700.2 142.3,699.4 143.2,698.5 144.1,697.6 145.0,696.8 145.9,695.9 146.8,695.0 147.7,694.2 148.6,693.4 149.5,692.5 150.5,691.7 151.4,690.9 152.4,690.1 153.3,689.4 154.3,688.6 155.3,687.9 156.2,687.2 157.2,686.5 158.2,685.9 159.2,685.3 160.3,684.7 161.3,684.1 162.4,683.6 163.4,683.1 164.5,682.7 165.6,682.3 166.7,681.9 167.8,681.6 169.0,681.3 170.1,681.0 171.3,680.8 172.4,680.7 173.6,680.6 174.8,680.6 176.0,680.6 177.2,680.6 178.4,680.7 179.6,680.9 180.7,681.1 181.9,681.3 183.0,681.6 184.1,682.0 185.2,682.4 186.3,682.8 187.4,683.4 188.4,683.9 189.4,684.6 190.3,685.2 191.2,686.0 192.1,686.8 192.9,687.6 193.7,688.4 194.5,689.3 195.2,690.3 196.0,691.2 196.7,692.2 197.4,693.2 198.1,694.2 198.8,695.3 199.5,696.3 200.2,697.3 200.8,698.3 201.5,699.4 202.2,700.4 202.9,701.4 203.6,702.4 204.3,703.4 205.0,704.4 205.7,705.4 206.4,706.4 207.1,707.4 207.8,708.4 208.5,709.4 209.2,710.4 209.9,711.4 210.6,712.4 211.2,713.4 211.9,714.3 212.6,715.3 213.3,716.3 214.0,717.3 214.7,718.3 215.4,719.3 216.1,720.3 216.7,721.2 217.4,722.2 218.1,723.2 218.8,724.2 219.4,725.2 220.1,726.2 220.7,727.2 221.4,728.2 222.0,729.2 222.7,730.2 223.3,731.2 224.0,732.2 224.6,733.2 225.2,734.3 225.8,735.3 226.4,736.3 227.0,737.4 227.6,738.4 228.2,739.4 228.8,740.5 229.4,741.5 230.0,742.6 230.5,743.6 231.1,744.7 231.7,745.8 232.3,746.8 232.8,747.9 233.4,749.0 234.0,750.0 234.6,751.1 235.1,752.2 235.7,753.2 236.3,754.3 236.9,755.4 237.4,756.4 238.0,757.5 238.6,758.5 239.2,759.6 239.8,760.7 240.4,761.7 241.1,762.8 241.7,763.8 242.3,764.9 243.0,765.9 243.6,766.9 244.3,768.0 244.9,769.0 245.6,770.0 246.3,771.0 247.0,772.0 247.7,773.0 248.5,773.9 249.2,774.9 250.0,775.8 250.8,776.6 251.6,777.5 252.5,778.3 253.3,779.1 254.2,779.9 255.1,780.6 256.1,781.3 257.0,781.9 258.0,782.5 259.1,783.0 260.1,783.5 261.2,784.0 262.3,784.4 263.4,784.8 264.5,785.1 265.7,785.4 266.8,785.7 268.0,785.9 269.2,786.1 270.4,786.3 271.6,786.5 272.8,786.6 274.0,786.7 275.2,786.8 276.4,786.9 277.7,786.9 278.9,786.9 280.1,786.9 281.3,787.0 282.6,786.9 283.8,786.9 285.0,786.9 286.2,786.9 287.4,786.9 288.7,786.9 289.9,786.8 291.1,786.8 292.3,786.8 293.5,786.8 294.7,786.8 295.9,786.8 297.1,786.8 298.4,786.8 299.6,786.8 300.8,786.8 302.0,786.8 303.1,786.8 304.3,786.8 305.5,786.8 306.7,786.8 307.9,786.9 309.1,786.9 310.3,786.9 311.5,786.9 312.7,786.9 313.9,786.9 315.1,786.9 316.3,787.0 317.5,787.0 318.7,787.0 319.9,787.0 321.1,787.0 322.3,787.0 323.5,787.0 324.7,787.0 325.9,787.0 327.1,787.0 328.3,787.0 329.6,787.0 330.8,787.0 332.0,787.0" stroke="#800080"/>
<path d="M61.0,732.5 62.2,732.5 63.3,732.6 64.5,732.8 65.7,733.0 66.8,733.2 68.0,733.5 69.2,733.9 70.4,734.2 71.5,734.6 72.7,734.9 73.9,735.3 75.1,735.7 76.3,736.0 77.4,736.3 78.6,736.6 79.8,736.9 80.9,737.1 82.1,737.2 83.3,737.3 84.4,737.3 85.6,737.3 86.8,737.2 87.9,737.0 89.0,736.8 90.2,736.5 91.3,736.2 92.4,735.8 93.6,735.4 94.7,734.9 95.8,734.4 96.8,733.9 97.9,733.3 99.0,732.7 100.1,732.1 101.1,731.5 102.2,730.8 103.2,730.2 104.2,729.5 105.2,728.8 106.2,728.0 107.2,727.3 108.2,726.6 109.2,725.9 110.1,725.1 111.1,724.4 112.0,723.6 113.0,722.9 113.9,722.1 114.8,721.3 115.8,720.6 116.7,719.8 117.6,719.0 118.5,718.2 119.4,717.5 120.2,716.7 121.1,715.9 122.0,715.1 122.9,714.3 123.7,713.4 124.6,712.6 125.5,711.8 126.3,711.0 127.2,710.2 128.1,709.3 128.9,708.5 129.8,707.7 130.6,706.8 131.5,706.0 132.3,705.1 133.2,704.3 134.1,703.4 134.9,702.6 135.8,701.7 136.6,700.9 137.5,700.0 138.4,699.1 139.3,698.3 140.1,697.4 141.0,696.5 141.9,695.7 142.8,694.8 143.7,694.0 144.6,693.2 145.5,692.4 146.4,691.5 147.4,690.7 148.3,690.0 149.2,689.2 150.2,688.5 151.2,687.7 152.2,687.0 153.1,686.4 154.1,685.7 155.2,685.1 156.2,684.5 157.2,683.9 158.3,683.3 159.3,682.8 160.4,682.3 161.5,681.9 162.6,681.5 163.8,681.1 164.9,680.8 166.1,680.5 167.3,680.2 168.5,680.0 169.7,679.9 170.9,679.8 172.1,679.7 173.3,679.7 174.4,679.9 175.6,680.0 176.7,680.3 177.8,680.7 178.8,681.1 179.8,681.6 180.8,682.2 181.7,682.9 182.6,683.6 183.5,684.3 184.4,685.1 185.2,686.0 186.0,686.8 186.8,687.7 187.6,688.7 188.3,689.6 189.0,690.6 189.7,691.6 190.4,692.6 191.1,693.6 191.7,694.7 192.4,695.7 193.0,696.8 193.6,697.9 194.2,698.9 194.9,700.0 195.5,701.1 196.1,702.2 196.7,703.2 197.3,704.3 197.8,705.3 198.4,706.4 199.0,707.5 199.6,708.5 200.2,709.6 200.7,710.7 201.3,711.7 201.9,712.8 202.4,713.8 203.0,714.9 203.6,716.0 204.1,717.0 204.7,718.1 205.2,719.1 205.8,720.2 206.3,721.3 206.9,722.3 207.4,723.4 208.0,724.4 208.5,725.5 209.1,726.6 209.6,727.6 210.2,728.7 210.7,729.7 211.3,730.8 211.8,731.9 212.4,732.9 213.0,734.0 213.5,735.1 214.1,736.1 214.6,737.2 215.2,738.3 215.8,739.3 216.3,740.4 216.9,741.5 217.5,742.5 218.1,743.6 218.7,744.7 219.2,745.7 219.8,746.8 220.4,747.8 221.0,748.9 221.6,749.9 222.3,751.0 222.9,752.0 223.5,753.1 224.1,754.1 224.8,755.1 225.4,756.2 226.1,757.2 226.8,758.2 227.4,759.2 228.1,760.2 228.8,761.2 229.5,762.2 230.2,763.2 230.9,764.1 231.6,765.1 232.4,766.1 233.1,767.0 233.9,767.9 234.7,768.9 235.4,769.8 236.2,770.7 237.0,771.6 237.8,772.5 238.7,773.3 239.5,774.2 240.4,775.0 241.2,775.9 242.1,776.7 243.0,777.5 243.9,778.3 244.8,779.0 245.8,779.8 246.7,780.5 247.7,781.2 248.7,781.9 249.7,782.5 250.7,783.1 251.7,783.7 252.8,784.2 253.8,784.7 254.9,785.1 256.0,785.6 257.1,785.9 258.3,786.2 259.4,786.5 260.6,786.7 261.8,786.9 263.0,787.0 264.2,787.1 265.4,787.2 266.7,787.2 267.9,787.2 269.1,787.2 270.4,787.1 271.6,787.1 272.9,787.1 274.1,787.1 275.3,787.1 276.5,787.1 277.7,787.1 279.0,787.1 280.2,787.1 281.4,787.1 282.6,787.1 283.8,787.1 285.0,787.1 286.2,787.1 287.4,787.2 288.6,787.2 289.8,787.2 291.0,787.2 292.2,787.2 293.4,787.2 294.6,787.2 295.8,787.2 297.0,787.2 298.2,787.2 299.4,787.2 300.6,787.2 301.8,787.2 303.0,787.2 304.2,787.2 305.4,787.3 306.6,787.3 307.8,787.3 309.1,787.3 310.3,787.3 311.5,787.3 312.7,787.3 313.9,787.3 315.1,787.3 316.3,787.3 317.5,787.3 318.7,787.3 319.9,787.3 321.1,787.3 322.3,787.3 323.6,787.3 324.8,787.3 326.0,787.3 327.2,787.3 328.4,787.3 329.6,787.3 330.8,787.3 332.0,787.3" stroke="#006400"/>
</g>
<rect x="61.00" y="589.00" width="270.50" height="199.40" fill="none" stroke="#000" stroke-width="1.6"/>
<line x1="57.00" y1="786.80" x2="61.00" y2="786.80" stroke="#000" stroke-width="1.5"/>
<text x="52.50" y="791.00" font-size="12.00" text-anchor="end" fill="#000" >0.0</text>
<line x1="57.00" y1="750.80" x2="61.00" y2="750.80" stroke="#000" stroke-width="1.5"/>
<text x="52.50" y="755.00" font-size="12.00" text-anchor="end" fill="#000" >0.1</text>
<line x1="57.00" y1="714.80" x2="61.00" y2="714.80" stroke="#000" stroke-width="1.5"/>
<text x="52.50" y="719.00" font-size="12.00" text-anchor="end" fill="#000" >0.2</text>
<line x1="57.00" y1="678.80" x2="61.00" y2="678.80" stroke="#000" stroke-width="1.5"/>
<text x="52.50" y="683.00" font-size="12.00" text-anchor="end" fill="#000" >0.3</text>
<line x1="57.00" y1="642.80" x2="61.00" y2="642.80" stroke="#000" stroke-width="1.5"/>
<text x="52.50" y="647.00" font-size="12.00" text-anchor="end" fill="#000" >0.4</text>
<line x1="57.00" y1="606.80" x2="61.00" y2="606.80" stroke="#000" stroke-width="1.5"/>
<text x="52.50" y="611.00" font-size="12.00" text-anchor="end" fill="#000" >0.5</text>
<line x1="58.70" y1="768.80" x2="61.00" y2="768.80" stroke="#000" stroke-width="1.5"/>
<line x1="58.70" y1="732.80" x2="61.00" y2="732.80" stroke="#000" stroke-width="1.5"/>
<line x1="58.70" y1="696.80" x2="61.00" y2="696.80" stroke="#000" stroke-width="1.5"/>
<line x1="58.70" y1="660.80" x2="61.00" y2="660.80" stroke="#000" stroke-width="1.5"/>
<line x1="58.70" y1="624.80" x2="61.00" y2="624.80" stroke="#000" stroke-width="1.5"/>
<line x1="95.00" y1="788.40" x2="95.00" y2="792.40" stroke="#000" stroke-width="1.5"/>
<text x="95.00" y="806.30" font-size="12.00" text-anchor="middle" fill="#000" >400</text>
<line x1="162.60" y1="788.40" x2="162.60" y2="792.40" stroke="#000" stroke-width="1.5"/>
<text x="162.60" y="806.30" font-size="12.00" text-anchor="middle" fill="#000" >500</text>
<line x1="230.20" y1="788.40" x2="230.20" y2="792.40" stroke="#000" stroke-width="1.5"/>
<text x="230.20" y="806.30" font-size="12.00" text-anchor="middle" fill="#000" >600</text>
<line x1="297.80" y1="788.40" x2="297.80" y2="792.40" stroke="#000" stroke-width="1.5"/>
<text x="297.80" y="806.30" font-size="12.00" text-anchor="middle" fill="#000" >700</text>
<line x1="128.80" y1="788.40" x2="128.80" y2="790.70" stroke="#000" stroke-width="1.5"/>
<line x1="196.40" y1="788.40" x2="196.40" y2="790.70" stroke="#000" stroke-width="1.5"/>
<line x1="264.00" y1="788.40" x2="264.00" y2="790.70" stroke="#000" stroke-width="1.5"/>
<text x="196.25" y="823.40" font-size="11.50" text-anchor="middle" fill="#000" >Wavelength (nm)</text>
<text transform="translate(27.00,688.00) rotate(-90)" font-size="11.5" text-anchor="middle">Absorbance (a.u.)</text>
<text x="111.40" y="616.00" font-size="13.20" text-anchor="start" fill="#ff0000" >25 °C</text>
<line x1="270.40" y1="598.60" x2="292.40" y2="598.60" stroke="#000000" stroke-width="1.7"/>
<text x="297.40" y="602.20" font-size="10.00" text-anchor="start" fill="#000" >20 °C</text>
<line x1="270.40" y1="612.60" x2="292.40" y2="612.60" stroke="#ff0000" stroke-width="1.7"/>
<text x="297.40" y="616.20" font-size="10.00" text-anchor="start" fill="#000" >30 °C</text>
<line x1="270.40" y1="626.60" x2="292.40" y2="626.60" stroke="#0000ff" stroke-width="1.7"/>
<text x="297.40" y="630.20" font-size="10.00" text-anchor="start" fill="#000" >40 °C</text>
<line x1="270.40" y1="640.60" x2="292.40" y2="640.60" stroke="#ff8000" stroke-width="1.7"/>
<text x="297.40" y="644.20" font-size="10.00" text-anchor="start" fill="#000" >50 °C</text>
<line x1="270.40" y1="654.60" x2="292.40" y2="654.60" stroke="#8000ff" stroke-width="1.7"/>
<text x="297.40" y="658.20" font-size="10.00" text-anchor="start" fill="#000" >60 °C</text>
<line x1="270.40" y1="668.60" x2="292.40" y2="668.60" stroke="#00a0ff" stroke-width="1.7"/>
<text x="297.40" y="672.20" font-size="10.00" text-anchor="start" fill="#000" >70 °C</text>
<line x1="270.40" y1="682.60" x2="292.40" y2="682.60" stroke="#33ee33" stroke-width="1.7"/>
<text x="297.40" y="686.20" font-size="10.00" text-anchor="start" fill="#000" >80 °C</text>
<line x1="270.40" y1="696.60" x2="292.40" y2="696.60" stroke="#800080" stroke-width="1.7"/>
<text x="297.40" y="700.20" font-size="10.00" text-anchor="start" fill="#000" >90 °C</text>
<line x1="270.40" y1="710.60" x2="292.40" y2="710.60" stroke="#006400" stroke-width="1.7"/>
<text x="297.40" y="714.20" font-size="10.00" text-anchor="start" fill="#000" >100 °C</text>
<rect x="71.60" y="762.40" width="41.40" height="22.60" fill="#000"/>
<rect x="68.60" y="759.40" width="41.40" height="22.60" fill="#fff" stroke="#888" stroke-width="0.8"/>
<text x="89.30" y="776.50" font-size="13.10" text-anchor="middle" fill="#000" >PM2</text>
<text x="360.50" y="590.00" font-size="16.50" text-anchor="start" fill="#000" >e</text>
<rect x="427.80" y="596.80" width="24.90" height="94.90" fill="#000" opacity="0.62" filter="url(#shad)"/>
<rect x="420.15" y="589.15" width="24.20" height="94.20" fill="#c8c4cc" stroke="#808088" stroke-width="0.7"/>
<rect x="420.20" y="588.80" width="24.10" height="5.90" fill="#f0e8ec"/>
<rect x="422.20" y="594.70" width="20.10" height="16.10" fill="#d8d4ec"/>
<rect x="421.30" y="610.80" width="21.90" height="3.20" fill="#e8e6f0"/>
<rect x="422.20" y="614.00" width="20.10" height="9.50" fill="#d8e2d0"/>
<rect x="420.80" y="623.50" width="22.90" height="52.50" fill="url(#liqE)"/>
<rect x="420.60" y="676.00" width="23.30" height="7.30" fill="#f07890"/>
<clipPath id="clipe"><rect x="408.60" y="585.40" width="275.60" height="203.40"/></clipPath>
<g clip-path="url(#clipe)" fill="none" stroke-width="1.75" stroke-linejoin="round" stroke-linecap="round">
<path d="M409.5,745.0 410.7,745.3 411.8,745.6 413.0,745.9 414.2,746.1 415.3,746.3 416.5,746.5 417.7,746.6 418.9,746.7 420.1,746.8 421.3,746.9 422.5,746.9 423.7,746.9 424.9,746.8 426.1,746.8 427.3,746.7 428.5,746.5 429.7,746.4 430.9,746.2 432.1,746.0 433.3,745.8 434.5,745.5 435.7,745.2 436.8,744.9 438.0,744.6 439.2,744.3 440.3,743.9 441.5,743.5 442.6,743.1 443.7,742.6 444.8,742.1 445.9,741.7 447.0,741.2 448.1,740.6 449.2,740.1 450.3,739.5 451.3,738.9 452.4,738.3 453.4,737.7 454.4,737.0 455.4,736.4 456.4,735.7 457.3,735.0 458.3,734.3 459.2,733.5 460.1,732.8 461.0,732.0 461.9,731.2 462.8,730.5 463.7,729.6 464.6,728.8 465.4,728.0 466.3,727.2 467.1,726.3 467.9,725.4 468.8,724.5 469.6,723.7 470.4,722.8 471.2,721.9 471.9,720.9 472.7,720.0 473.5,719.1 474.2,718.1 475.0,717.2 475.7,716.2 476.5,715.3 477.2,714.3 477.9,713.3 478.6,712.3 479.3,711.4 480.1,710.4 480.8,709.4 481.5,708.4 482.2,707.4 482.8,706.4 483.5,705.4 484.2,704.4 484.9,703.4 485.6,702.4 486.3,701.4 486.9,700.4 487.6,699.4 488.3,698.4 488.9,697.4 489.6,696.4 490.3,695.4 491.0,694.4 491.6,693.4 492.3,692.4 493.0,691.4 493.7,690.5 494.3,689.5 495.0,688.5 495.7,687.5 496.4,686.6 497.1,685.6 497.8,684.6 498.5,683.7 499.2,682.7 500.0,681.7 500.7,680.8 501.4,679.8 502.2,678.9 502.9,677.9 503.7,677.0 504.5,676.0 505.3,675.1 506.1,674.2 506.9,673.3 507.7,672.4 508.6,671.6 509.4,670.8 510.3,669.9 511.2,669.2 512.1,668.4 513.1,667.6 514.0,666.9 514.9,666.1 515.9,665.4 516.8,664.7 517.7,663.9 518.7,663.2 519.6,662.4 520.5,661.7 521.4,660.9 522.3,660.2 523.2,659.4 524.2,658.6 525.0,657.8 525.9,657.0 526.8,656.2 527.7,655.4 528.6,654.5 529.4,653.7 530.2,652.8 531.1,651.9 531.9,651.0 532.7,650.1 533.5,649.2 534.3,648.2 535.0,647.2 535.8,646.2 536.5,645.2 537.3,644.2 538.0,643.2 538.8,642.2 539.6,641.3 540.4,640.4 541.2,639.5 542.0,638.7 542.9,638.0 543.9,637.3 544.9,636.8 545.9,636.3 547.0,636.0 548.0,635.9 549.0,636.0 549.8,636.3 550.6,636.9 551.3,637.6 551.9,638.6 552.5,639.6 553.0,640.8 553.4,642.0 553.8,643.4 554.2,644.7 554.6,646.1 554.9,647.4 555.2,648.7 555.5,650.0 555.9,651.2 556.2,652.3 556.5,653.4 556.9,654.5 557.3,655.6 557.6,656.6 558.0,657.7 558.4,658.7 558.8,659.8 559.3,660.8 559.8,661.9 560.3,663.0 560.8,664.2 561.4,665.4 562.0,666.6 562.6,667.8 563.3,668.9 564.0,669.9 564.8,670.9 565.7,671.6 566.6,672.2 567.6,672.5 568.6,672.6 569.8,672.4 570.9,671.9 572.0,671.2 573.0,670.4 573.9,669.4 574.6,668.4 575.2,667.4 575.7,666.3 576.3,665.1 576.9,663.9 577.6,662.7 578.4,661.6 579.2,660.6 580.1,660.0 580.9,659.8 581.7,660.1 582.4,660.9 583.0,661.9 583.5,663.1 584.0,664.2 584.4,665.4 584.7,666.5 585.0,667.7 585.2,668.9 585.5,670.1 585.6,671.3 585.8,672.5 585.9,673.7 586.1,674.9 586.2,676.1 586.4,677.3 586.5,678.5 586.6,679.7 586.8,680.9 586.9,682.1 587.0,683.3 587.1,684.5 587.3,685.7 587.4,686.9 587.5,688.1 587.6,689.3 587.7,690.5 587.9,691.7 588.0,692.9 588.1,694.1 588.2,695.3 588.3,696.5 588.4,697.7 588.5,698.9 588.6,700.1 588.7,701.3 588.8,702.5 588.9,703.7 589.0,704.9 589.1,706.1 589.2,707.3 589.3,708.5 589.4,709.7 589.5,710.9 589.6,712.1 589.7,713.3 589.8,714.5 589.9,715.7 590.0,716.9 590.1,718.1 590.2,719.3 590.3,720.5 590.4,721.7 590.5,722.9 590.6,724.1 590.7,725.2 590.9,726.4 591.0,727.6 591.1,728.8 591.2,730.0 591.3,731.2 591.5,732.4 591.6,733.6 591.7,734.8 591.8,736.0 592.0,737.2 592.1,738.4 592.3,739.6 592.4,740.8 592.6,742.0 592.7,743.2 592.9,744.4 593.0,745.6 593.2,746.8 593.4,748.0 593.5,749.2 593.7,750.4 593.9,751.6 594.1,752.8 594.3,754.0 594.5,755.2 594.7,756.4 594.9,757.6 595.1,758.8 595.3,760.0 595.6,761.2 595.8,762.3 596.1,763.5 596.4,764.7 596.7,765.9 597.0,767.0 597.3,768.2 597.7,769.3 598.1,770.5 598.5,771.6 598.9,772.7 599.4,773.8 599.9,774.9 600.4,775.9 600.9,777.0 601.5,778.0 602.2,779.0 602.9,780.0 603.6,780.9 604.3,781.8 605.1,782.6 606.0,783.4 606.9,784.1 607.9,784.6 609.0,785.1 610.1,785.5 611.2,785.7 612.5,785.8 613.8,785.7 615.1,785.6 616.4,785.5 617.7,785.5 619.0,785.4 620.3,785.4 621.5,785.4 622.7,785.4 623.9,785.4 625.1,785.5 626.3,785.5 627.5,785.6 628.7,785.7 629.8,785.7 631.0,785.8 632.2,785.8 633.4,785.9 634.6,785.9 635.8,786.0 637.0,786.0 638.2,786.0 639.4,786.0 640.6,786.0 641.8,786.1 643.0,786.1 644.2,786.1 645.4,786.1 646.6,786.1 647.8,786.1 649.0,786.1 650.3,786.1 651.5,786.1 652.7,786.1 653.9,786.1 655.1,786.0 656.3,786.0 657.5,786.0 658.7,786.0 659.9,786.0 661.2,786.1 662.4,786.1 663.6,786.1 664.8,786.1 666.0,786.1 667.1,786.1 668.3,786.1 669.5,786.1 670.7,786.1 671.9,786.2 673.1,786.2 674.3,786.2 675.5,786.2 676.7,786.2 677.9,786.2 679.1,786.2 680.4,786.2 681.6,786.2 682.8,786.2 684.0,786.2" stroke="#000000"/>
<path d="M409.5,745.0 410.7,745.2 411.8,745.5 413.0,745.6 414.2,745.8 415.4,745.9 416.6,746.0 417.8,746.1 419.0,746.1 420.2,746.1 421.4,746.1 422.6,746.0 423.8,745.9 425.0,745.8 426.2,745.7 427.4,745.6 428.6,745.4 429.8,745.2 430.9,744.9 432.1,744.7 433.3,744.4 434.5,744.1 435.7,743.8 436.8,743.4 438.0,743.1 439.1,742.7 440.3,742.3 441.4,741.8 442.5,741.4 443.6,740.9 444.8,740.4 445.9,739.9 446.9,739.3 448.0,738.8 449.1,738.2 450.1,737.6 451.2,737.0 452.2,736.4 453.2,735.7 454.2,735.0 455.2,734.4 456.1,733.7 457.1,733.0 458.0,732.2 459.0,731.5 459.9,730.7 460.8,730.0 461.7,729.2 462.6,728.4 463.4,727.6 464.3,726.7 465.1,725.9 466.0,725.0 466.8,724.2 467.6,723.3 468.4,722.4 469.2,721.5 470.0,720.6 470.8,719.7 471.5,718.8 472.3,717.9 473.0,716.9 473.8,716.0 474.5,715.0 475.3,714.1 476.0,713.1 476.7,712.1 477.4,711.2 478.1,710.2 478.8,709.2 479.5,708.2 480.2,707.2 480.9,706.2 481.6,705.2 482.3,704.2 482.9,703.2 483.6,702.1 484.3,701.1 484.9,700.1 485.6,699.1 486.2,698.1 486.9,697.1 487.6,696.0 488.2,695.0 488.9,694.0 489.5,693.0 490.2,692.0 490.9,691.0 491.5,690.0 492.2,689.0 492.9,688.0 493.5,687.0 494.2,686.0 494.9,685.0 495.6,684.1 496.3,683.1 497.1,682.2 497.8,681.2 498.5,680.3 499.3,679.4 500.1,678.4 500.8,677.5 501.6,676.7 502.4,675.8 503.2,674.9 504.1,674.0 504.9,673.2 505.8,672.4 506.6,671.5 507.5,670.7 508.4,669.9 509.3,669.1 510.2,668.3 511.1,667.5 512.0,666.7 512.9,665.9 513.9,665.1 514.8,664.4 515.7,663.6 516.7,662.8 517.6,662.0 518.6,661.3 519.5,660.5 520.5,659.8 521.5,659.1 522.5,658.4 523.5,657.7 524.5,657.1 525.5,656.5 526.5,655.9 527.5,655.4 528.6,654.9 529.6,654.4 530.7,654.0 531.8,653.6 532.9,653.2 534.0,652.8 535.1,652.3 536.2,651.7 537.3,651.1 538.4,650.4 539.6,649.7 540.7,649.0 541.8,648.4 542.9,647.9 544.0,647.4 545.0,647.2 546.1,647.1 547.1,647.2 548.0,647.5 548.9,648.0 549.7,648.7 550.4,649.5 551.1,650.5 551.7,651.5 552.2,652.7 552.7,653.9 553.1,655.1 553.5,656.4 553.9,657.7 554.3,659.0 554.6,660.2 555.0,661.4 555.3,662.6 555.7,663.7 556.1,664.7 556.4,665.7 556.8,666.7 557.2,667.8 557.6,668.8 558.0,669.9 558.4,671.0 558.9,672.1 559.3,673.3 559.8,674.6 560.3,675.9 560.9,677.3 561.5,678.6 562.1,679.8 562.7,681.0 563.4,682.1 564.1,683.0 564.9,683.8 565.8,684.3 566.7,684.6 567.7,684.7 568.7,684.5 569.8,684.2 570.9,683.7 572.0,683.1 573.2,682.4 574.3,681.7 575.5,681.0 576.6,680.3 577.7,679.8 578.7,679.4 579.7,679.3 580.6,679.4 581.4,679.8 582.1,680.4 582.8,681.3 583.3,682.3 583.8,683.4 584.2,684.6 584.6,685.9 584.9,687.1 585.1,688.4 585.3,689.6 585.4,690.8 585.6,692.0 585.7,693.2 585.9,694.4 586.0,695.6 586.2,696.8 586.3,698.0 586.5,699.2 586.6,700.4 586.8,701.6 586.9,702.8 587.0,704.0 587.2,705.2 587.3,706.4 587.4,707.6 587.6,708.7 587.7,709.9 587.8,711.1 588.0,712.3 588.1,713.5 588.2,714.7 588.4,715.9 588.5,717.1 588.6,718.3 588.7,719.5 588.9,720.7 589.0,721.9 589.1,723.1 589.3,724.3 589.4,725.5 589.5,726.7 589.7,727.9 589.8,729.1 589.9,730.3 590.1,731.5 590.2,732.7 590.3,733.9 590.5,735.1 590.6,736.3 590.8,737.5 590.9,738.7 591.1,739.9 591.2,741.1 591.4,742.3 591.6,743.5 591.7,744.6 591.9,745.8 592.1,747.0 592.3,748.2 592.4,749.4 592.6,750.6 592.8,751.8 593.0,753.0 593.2,754.2 593.4,755.3 593.7,756.5 593.9,757.7 594.1,758.9 594.3,760.0 594.6,761.2 594.8,762.4 595.1,763.6 595.3,764.7 595.6,765.9 595.8,767.0 596.1,768.2 596.4,769.4 596.8,770.5 597.1,771.7 597.5,772.8 597.9,774.0 598.3,775.2 598.8,776.3 599.3,777.5 599.8,778.6 600.5,779.6 601.2,780.6 601.9,781.5 602.8,782.2 603.7,782.8 604.8,783.3 605.8,783.8 607.0,784.1 608.2,784.3 609.3,784.6 610.5,784.7 611.7,784.9 612.9,785.0 614.1,785.2 615.3,785.3 616.5,785.4 617.7,785.4 619.0,785.5 620.2,785.5 621.4,785.6 622.6,785.6 623.8,785.6 625.0,785.6 626.2,785.6 627.4,785.6 628.6,785.6 629.8,785.6 631.0,785.6 632.2,785.6 633.4,785.6 634.6,785.6 635.8,785.7 637.0,785.7 638.2,785.7 639.4,785.7 640.7,785.7 641.9,785.7 643.1,785.7 644.3,785.7 645.5,785.7 646.7,785.7 647.9,785.8 649.1,785.8 650.3,785.8 651.5,785.8 652.7,785.8 653.9,785.8 655.1,785.8 656.3,785.9 657.5,785.9 658.7,785.9 659.9,785.9 661.1,785.9 662.3,785.9 663.5,785.9 664.7,786.0 665.9,786.0 667.1,786.0 668.3,786.0 669.5,786.0 670.7,786.0 672.0,786.0 673.2,786.0 674.4,786.0 675.6,786.0 676.8,786.0 678.0,786.0 679.2,786.0 680.4,786.0 681.6,786.0 682.8,786.0 684.0,786.0" stroke="#ff0000"/>
<path d="M409.5,744.0 410.7,744.2 411.9,744.4 413.2,744.6 414.4,744.7 415.6,744.7 416.8,744.8 418.0,744.8 419.2,744.7 420.4,744.6 421.5,744.5 422.7,744.4 423.9,744.2 425.1,744.0 426.2,743.7 427.4,743.4 428.5,743.1 429.6,742.8 430.8,742.4 431.9,742.0 433.0,741.6 434.1,741.2 435.2,740.7 436.3,740.3 437.4,739.8 438.5,739.2 439.6,738.7 440.7,738.1 441.7,737.5 442.8,737.0 443.9,736.3 444.9,735.7 445.9,735.1 447.0,734.4 448.0,733.8 449.0,733.1 450.0,732.4 451.0,731.7 452.0,731.0 453.0,730.3 453.9,729.6 454.9,728.8 455.8,728.1 456.8,727.3 457.7,726.6 458.6,725.8 459.6,725.0 460.5,724.2 461.4,723.4 462.2,722.6 463.1,721.8 464.0,721.0 464.8,720.1 465.6,719.3 466.5,718.4 467.3,717.5 468.1,716.7 468.9,715.8 469.6,714.9 470.4,713.9 471.2,713.0 471.9,712.1 472.6,711.2 473.4,710.2 474.1,709.3 474.8,708.3 475.5,707.3 476.2,706.4 476.9,705.4 477.6,704.4 478.3,703.4 479.0,702.4 479.6,701.4 480.3,700.4 481.0,699.4 481.7,698.4 482.3,697.4 483.0,696.4 483.6,695.3 484.3,694.3 485.0,693.3 485.6,692.3 486.3,691.2 487.0,690.2 487.6,689.2 488.3,688.2 489.0,687.2 489.6,686.2 490.3,685.2 491.0,684.1 491.7,683.1 492.4,682.2 493.1,681.2 493.8,680.2 494.5,679.2 495.2,678.2 496.0,677.3 496.7,676.3 497.4,675.4 498.2,674.5 498.9,673.5 499.7,672.6 500.5,671.7 501.3,670.8 502.1,669.9 502.9,669.1 503.8,668.2 504.6,667.4 505.5,666.6 506.3,665.8 507.2,665.0 508.1,664.2 509.0,663.4 510.0,662.7 510.9,662.0 511.9,661.2 512.9,660.6 513.9,659.9 514.9,659.2 515.9,658.6 517.0,658.0 518.1,657.4 519.1,656.9 520.2,656.4 521.4,655.9 522.5,655.5 523.6,655.2 524.8,655.0 525.9,654.8 527.1,654.7 528.2,654.7 529.4,654.8 530.5,655.1 531.7,655.4 532.8,655.8 533.9,656.3 535.0,656.9 536.1,657.6 537.2,658.3 538.2,659.0 539.3,659.8 540.2,660.7 541.2,661.5 542.1,662.4 543.0,663.3 543.8,664.2 544.7,665.1 545.4,666.1 546.2,667.0 546.9,667.9 547.6,668.9 548.2,669.9 548.8,670.8 549.4,671.8 550.0,672.8 550.5,673.8 551.1,674.9 551.6,675.9 552.1,676.9 552.6,678.0 553.0,679.1 553.5,680.2 553.9,681.3 554.4,682.4 554.8,683.6 555.2,684.7 555.7,685.9 556.1,687.0 556.5,688.2 556.9,689.4 557.3,690.6 557.8,691.8 558.2,692.9 558.7,694.1 559.2,695.3 559.7,696.4 560.2,697.5 560.7,698.6 561.2,699.7 561.8,700.8 562.4,701.8 563.1,702.8 563.7,703.7 564.4,704.6 565.2,705.5 566.0,706.3 566.8,707.1 567.6,707.8 568.6,708.5 569.5,709.1 570.5,709.6 571.6,710.1 572.7,710.5 573.9,710.9 575.1,711.1 576.3,711.4 577.5,711.7 578.7,712.0 579.7,712.5 580.7,713.0 581.5,713.7 582.1,714.6 582.7,715.5 583.1,716.6 583.5,717.7 583.8,718.9 584.0,720.1 584.3,721.3 584.5,722.5 584.7,723.7 584.9,724.9 585.1,726.1 585.3,727.3 585.5,728.5 585.7,729.7 585.9,730.9 586.1,732.1 586.3,733.3 586.5,734.5 586.7,735.7 586.9,736.9 587.1,738.1 587.3,739.3 587.5,740.5 587.7,741.7 587.9,742.9 588.1,744.1 588.3,745.2 588.6,746.4 588.8,747.6 589.0,748.8 589.2,750.0 589.4,751.1 589.6,752.3 589.8,753.5 590.0,754.6 590.3,755.8 590.5,757.0 590.7,758.1 591.0,759.3 591.2,760.4 591.5,761.6 591.8,762.8 592.0,763.9 592.3,765.1 592.6,766.3 593.0,767.4 593.3,768.6 593.6,769.8 594.0,771.0 594.4,772.2 594.8,773.4 595.2,774.6 595.6,775.8 596.1,776.9 596.7,778.0 597.2,779.1 597.9,780.0 598.6,780.9 599.4,781.7 600.2,782.4 601.2,783.0 602.2,783.5 603.2,783.9 604.4,784.2 605.5,784.5 606.7,784.7 607.9,784.8 609.1,784.9 610.4,785.0 611.6,785.1 612.9,785.2 614.1,785.3 615.3,785.3 616.5,785.4 617.8,785.4 619.0,785.4 620.2,785.4 621.4,785.5 622.6,785.5 623.8,785.5 625.0,785.5 626.2,785.5 627.4,785.5 628.6,785.5 629.8,785.5 631.0,785.5 632.2,785.5 633.4,785.5 634.6,785.5 635.8,785.5 637.0,785.5 638.2,785.5 639.4,785.5 640.6,785.5 641.8,785.5 643.0,785.5 644.2,785.5 645.4,785.6 646.6,785.6 647.8,785.6 649.0,785.6 650.2,785.6 651.4,785.6 652.6,785.6 653.9,785.6 655.1,785.6 656.3,785.7 657.5,785.7 658.7,785.7 659.9,785.7 661.1,785.7 662.3,785.7 663.5,785.7 664.7,785.7 665.9,785.7 667.1,785.8 668.4,785.8 669.6,785.8 670.8,785.8 672.0,785.8 673.2,785.8 674.4,785.8 675.6,785.8 676.8,785.8 678.0,785.8 679.2,785.8 680.4,785.8 681.6,785.8 682.8,785.8 684.0,785.8" stroke="#0000ff"/>
<path d="M409.5,743.5 410.7,743.7 411.9,743.9 413.1,744.0 414.3,744.0 415.5,744.1 416.7,744.1 417.9,744.0 419.0,743.9 420.2,743.8 421.4,743.6 422.6,743.4 423.7,743.2 424.9,743.0 426.0,742.7 427.2,742.3 428.3,742.0 429.4,741.6 430.6,741.2 431.7,740.8 432.8,740.3 433.9,739.8 435.0,739.3 436.1,738.8 437.2,738.2 438.2,737.6 439.3,737.0 440.4,736.4 441.4,735.8 442.5,735.1 443.5,734.5 444.5,733.8 445.5,733.1 446.5,732.4 447.5,731.7 448.5,731.0 449.4,730.2 450.4,729.5 451.4,728.7 452.3,728.0 453.2,727.2 454.1,726.4 455.0,725.6 455.9,724.8 456.8,724.0 457.7,723.2 458.6,722.4 459.4,721.6 460.3,720.7 461.1,719.9 461.9,719.1 462.8,718.2 463.6,717.3 464.4,716.5 465.2,715.6 466.0,714.7 466.8,713.8 467.5,712.9 468.3,712.0 469.1,711.1 469.8,710.2 470.6,709.3 471.3,708.3 472.0,707.4 472.8,706.4 473.5,705.5 474.2,704.5 474.9,703.6 475.6,702.6 476.3,701.6 477.0,700.6 477.7,699.6 478.4,698.6 479.1,697.6 479.7,696.6 480.4,695.6 481.1,694.6 481.7,693.6 482.4,692.6 483.1,691.5 483.7,690.5 484.4,689.5 485.0,688.4 485.7,687.4 486.3,686.4 487.0,685.3 487.6,684.3 488.3,683.3 489.0,682.2 489.6,681.2 490.3,680.2 491.0,679.2 491.7,678.2 492.4,677.2 493.1,676.2 493.8,675.3 494.6,674.3 495.3,673.4 496.0,672.5 496.8,671.5 497.6,670.6 498.4,669.8 499.2,668.9 500.0,668.1 500.8,667.2 501.7,666.4 502.5,665.7 503.4,664.9 504.3,664.2 505.3,663.4 506.2,662.8 507.2,662.1 508.2,661.5 509.2,660.9 510.2,660.3 511.3,659.7 512.4,659.2 513.5,658.7 514.6,658.3 515.8,657.9 517.0,657.5 518.2,657.1 519.4,656.9 520.7,656.7 521.9,656.6 523.1,656.6 524.3,656.7 525.4,656.9 526.5,657.3 527.6,657.8 528.6,658.4 529.6,659.0 530.6,659.8 531.5,660.5 532.4,661.4 533.3,662.2 534.1,663.1 535.0,663.9 535.8,664.8 536.6,665.8 537.4,666.7 538.1,667.6 538.9,668.6 539.6,669.6 540.3,670.6 541.0,671.5 541.7,672.5 542.4,673.5 543.1,674.5 543.7,675.6 544.4,676.6 545.0,677.6 545.6,678.6 546.2,679.7 546.8,680.7 547.4,681.8 548.0,682.8 548.5,683.9 549.0,685.0 549.5,686.1 550.0,687.1 550.5,688.2 551.0,689.4 551.4,690.5 551.8,691.6 552.3,692.7 552.7,693.9 553.1,695.0 553.5,696.1 553.9,697.3 554.3,698.4 554.6,699.6 555.0,700.7 555.4,701.9 555.8,703.0 556.2,704.2 556.6,705.3 556.9,706.5 557.3,707.6 557.7,708.7 558.1,709.9 558.6,711.0 559.0,712.1 559.4,713.3 559.9,714.4 560.3,715.5 560.8,716.6 561.3,717.7 561.8,718.8 562.4,719.8 562.9,720.9 563.5,721.9 564.1,723.0 564.7,724.0 565.4,725.0 566.1,726.0 566.8,726.9 567.7,727.7 568.6,728.5 569.5,729.1 570.5,729.8 571.6,730.3 572.7,730.8 573.8,731.3 574.9,731.7 576.0,732.1 577.2,732.5 578.2,733.0 579.2,733.5 580.1,734.1 580.9,734.9 581.7,735.7 582.3,736.6 582.9,737.6 583.4,738.6 583.9,739.7 584.3,740.8 584.8,741.9 585.1,743.0 585.5,744.2 585.9,745.3 586.2,746.5 586.6,747.6 586.9,748.8 587.2,750.0 587.5,751.1 587.8,752.3 588.1,753.5 588.4,754.7 588.7,755.8 588.9,757.0 589.2,758.2 589.5,759.4 589.8,760.5 590.1,761.7 590.4,762.9 590.8,764.1 591.1,765.3 591.5,766.4 591.8,767.6 592.2,768.7 592.6,769.9 593.1,771.0 593.6,772.1 594.1,773.2 594.6,774.3 595.2,775.3 595.8,776.3 596.5,777.3 597.2,778.3 598.0,779.2 598.8,780.1 599.6,780.9 600.5,781.6 601.4,782.3 602.4,782.9 603.4,783.4 604.5,783.8 605.6,784.1 606.8,784.3 608.0,784.4 609.2,784.5 610.5,784.6 611.7,784.6 612.9,784.7 614.1,784.7 615.3,784.8 616.6,784.8 617.8,784.9 619.0,784.9 620.2,785.0 621.4,785.0 622.6,785.0 623.8,785.1 625.0,785.1 626.2,785.2 627.4,785.2 628.6,785.2 629.8,785.3 631.0,785.3 632.2,785.3 633.4,785.4 634.6,785.4 635.8,785.4 637.0,785.4 638.2,785.5 639.4,785.5 640.6,785.5 641.8,785.5 643.0,785.5 644.3,785.6 645.5,785.6 646.7,785.6 647.9,785.6 649.1,785.6 650.3,785.6 651.5,785.6 652.7,785.7 653.9,785.7 655.1,785.7 656.3,785.7 657.5,785.7 658.7,785.7 659.9,785.7 661.1,785.7 662.3,785.7 663.5,785.7 664.7,785.7 665.9,785.7 667.1,785.7 668.3,785.8 669.5,785.8 670.8,785.8 672.0,785.8 673.2,785.8 674.4,785.8 675.6,785.8 676.8,785.8 678.0,785.8 679.2,785.8 680.4,785.8 681.6,785.8 682.8,785.8 684.0,785.8" stroke="#ff8000"/>
<path d="M409.5,743.0 410.7,743.2 411.9,743.3 413.1,743.3 414.3,743.3 415.5,743.3 416.7,743.3 417.9,743.1 419.0,743.0 420.2,742.8 421.3,742.6 422.5,742.3 423.6,742.1 424.8,741.7 425.9,741.4 427.0,741.0 428.1,740.6 429.2,740.1 430.3,739.6 431.4,739.1 432.4,738.6 433.5,738.1 434.6,737.5 435.6,736.9 436.7,736.3 437.7,735.6 438.7,735.0 439.7,734.3 440.7,733.6 441.7,732.9 442.7,732.2 443.7,731.4 444.7,730.7 445.6,729.9 446.6,729.1 447.5,728.3 448.5,727.6 449.4,726.8 450.3,725.9 451.2,725.1 452.1,724.3 453.0,723.5 453.8,722.7 454.7,721.8 455.6,721.0 456.4,720.1 457.3,719.3 458.1,718.4 458.9,717.5 459.7,716.7 460.5,715.8 461.3,714.9 462.1,714.0 462.9,713.1 463.7,712.2 464.5,711.3 465.2,710.4 466.0,709.5 466.7,708.6 467.5,707.6 468.2,706.7 468.9,705.8 469.7,704.8 470.4,703.9 471.1,702.9 471.8,701.9 472.5,701.0 473.2,700.0 473.9,699.0 474.6,698.0 475.2,697.1 475.9,696.1 476.6,695.1 477.2,694.1 477.9,693.1 478.6,692.0 479.2,691.0 479.9,690.0 480.5,689.0 481.1,688.0 481.8,686.9 482.4,685.9 483.0,684.9 483.7,683.8 484.3,682.8 485.0,681.8 485.6,680.7 486.3,679.7 486.9,678.7 487.6,677.7 488.3,676.7 489.0,675.7 489.7,674.7 490.4,673.7 491.1,672.8 491.8,671.8 492.5,670.9 493.3,669.9 494.1,669.0 494.8,668.1 495.6,667.2 496.5,666.4 497.3,665.5 498.1,664.7 499.0,663.9 499.9,663.1 500.8,662.3 501.8,661.5 502.7,660.8 503.7,660.1 504.7,659.4 505.8,658.8 506.8,658.1 507.9,657.6 509.0,657.1 510.2,656.6 511.3,656.3 512.5,656.0 513.6,655.8 514.8,655.8 516.0,655.8 517.2,656.0 518.3,656.3 519.5,656.6 520.6,657.1 521.7,657.6 522.7,658.1 523.7,658.8 524.7,659.4 525.6,660.2 526.5,661.0 527.4,661.8 528.3,662.6 529.1,663.5 529.9,664.5 530.6,665.4 531.4,666.4 532.1,667.4 532.8,668.4 533.4,669.4 534.1,670.4 534.7,671.5 535.3,672.5 535.9,673.6 536.5,674.6 537.0,675.7 537.5,676.8 538.1,677.9 538.6,679.0 539.1,680.1 539.5,681.2 540.0,682.3 540.5,683.4 540.9,684.5 541.3,685.6 541.8,686.8 542.2,687.9 542.6,689.0 543.0,690.1 543.4,691.3 543.8,692.4 544.2,693.5 544.6,694.7 545.0,695.8 545.4,696.9 545.7,698.1 546.1,699.2 546.5,700.3 546.8,701.5 547.2,702.6 547.6,703.8 547.9,704.9 548.3,706.0 548.6,707.2 549.0,708.3 549.4,709.5 549.7,710.6 550.1,711.8 550.4,712.9 550.8,714.1 551.2,715.2 551.5,716.3 551.9,717.5 552.3,718.6 552.7,719.8 553.0,720.9 553.4,722.1 553.8,723.2 554.2,724.3 554.6,725.5 555.0,726.6 555.5,727.8 555.9,728.9 556.3,730.1 556.8,731.2 557.2,732.3 557.7,733.5 558.1,734.6 558.6,735.7 559.1,736.8 559.6,737.9 560.1,739.0 560.7,740.1 561.3,741.2 561.8,742.2 562.4,743.2 563.1,744.2 563.7,745.2 564.4,746.2 565.2,747.1 565.9,748.0 566.7,748.9 567.5,749.7 568.3,750.5 569.2,751.3 570.1,752.0 571.1,752.7 572.0,753.4 573.0,754.0 574.1,754.6 575.1,755.2 576.2,755.8 577.3,756.3 578.4,756.8 579.5,757.2 580.6,757.7 581.6,758.3 582.5,758.9 583.4,759.6 584.1,760.4 584.8,761.3 585.3,762.3 585.9,763.3 586.4,764.4 586.9,765.5 587.3,766.7 587.8,767.8 588.2,769.0 588.7,770.2 589.2,771.4 589.7,772.5 590.3,773.7 590.8,774.8 591.4,775.9 592.1,777.0 592.7,778.0 593.4,779.0 594.2,779.9 595.0,780.8 595.8,781.5 596.7,782.2 597.6,782.9 598.6,783.4 599.7,783.8 600.8,784.2 601.9,784.5 603.1,784.8 604.2,785.0 605.5,785.1 606.7,785.2 607.9,785.3 609.2,785.4 610.5,785.4 611.7,785.5 613.0,785.5 614.2,785.5 615.4,785.5 616.7,785.6 617.9,785.6 619.1,785.6 620.3,785.6 621.5,785.6 622.7,785.6 623.9,785.7 625.1,785.7 626.3,785.7 627.5,785.7 628.7,785.7 629.9,785.7 631.1,785.7 632.3,785.7 633.4,785.7 634.6,785.7 635.8,785.7 637.0,785.7 638.2,785.8 639.4,785.8 640.6,785.8 641.8,785.8 643.0,785.8 644.2,785.8 645.4,785.8 646.6,785.8 647.8,785.8 649.0,785.8 650.2,785.8 651.5,785.8 652.7,785.8 653.9,785.9 655.1,785.9 656.3,785.9 657.5,785.9 658.7,785.9 659.9,785.9 661.1,785.9 662.3,785.9 663.5,785.9 664.8,785.9 666.0,785.9 667.2,785.9 668.4,785.9 669.6,785.9 670.8,786.0 672.0,786.0 673.2,786.0 674.4,786.0 675.6,786.0 676.8,786.0 678.0,786.0 679.2,786.0 680.4,786.0 681.6,786.0 682.8,786.0 684.0,786.0" stroke="#8000ff"/>
<path d="M409.5,742.5 410.8,742.6 412.1,742.7 413.4,742.7 414.6,742.7 415.9,742.6 417.1,742.5 418.3,742.3 419.4,742.1 420.5,741.8 421.7,741.5 422.8,741.1 423.8,740.7 424.9,740.3 426.0,739.8 427.0,739.3 428.0,738.7 429.0,738.2 430.0,737.6 430.9,736.9 431.9,736.2 432.8,735.5 433.8,734.8 434.7,734.1 435.6,733.3 436.5,732.5 437.4,731.7 438.2,730.9 439.1,730.1 440.0,729.2 440.8,728.4 441.7,727.5 442.5,726.6 443.4,725.7 444.2,724.8 445.1,723.9 445.9,723.0 446.7,722.1 447.6,721.2 448.4,720.3 449.2,719.4 450.1,718.5 450.9,717.6 451.7,716.7 452.6,715.8 453.4,714.9 454.2,714.0 455.1,713.1 455.9,712.2 456.7,711.3 457.5,710.5 458.4,709.6 459.2,708.7 460.0,707.8 460.8,706.9 461.6,706.0 462.4,705.1 463.2,704.2 464.0,703.4 464.8,702.5 465.6,701.6 466.4,700.7 467.2,699.8 468.0,698.9 468.7,697.9 469.5,697.0 470.3,696.1 471.0,695.2 471.8,694.3 472.5,693.3 473.2,692.4 473.9,691.5 474.7,690.5 475.4,689.6 476.1,688.6 476.7,687.7 477.4,686.7 478.1,685.7 478.8,684.7 479.4,683.7 480.1,682.8 480.7,681.8 481.4,680.8 482.0,679.7 482.7,678.7 483.3,677.7 484.0,676.7 484.6,675.7 485.3,674.6 485.9,673.6 486.6,672.6 487.3,671.5 488.0,670.5 488.7,669.4 489.4,668.4 490.1,667.4 490.8,666.3 491.6,665.3 492.4,664.3 493.1,663.4 493.9,662.4 494.7,661.5 495.6,660.6 496.4,659.8 497.3,658.9 498.2,658.2 499.1,657.5 500.0,656.8 501.0,656.2 502.0,655.7 503.0,655.2 504.0,654.8 505.1,654.4 506.2,654.2 507.3,654.0 508.5,653.9 509.7,653.9 510.8,654.0 512.0,654.1 513.2,654.4 514.4,654.7 515.6,655.1 516.7,655.5 517.8,656.1 518.8,656.7 519.9,657.4 520.8,658.1 521.7,659.0 522.5,659.9 523.3,660.8 524.0,661.8 524.7,662.8 525.4,663.9 526.0,664.9 526.6,666.0 527.2,667.1 527.8,668.1 528.3,669.2 528.8,670.3 529.3,671.4 529.8,672.5 530.3,673.6 530.8,674.8 531.3,675.9 531.7,677.0 532.2,678.1 532.7,679.2 533.1,680.3 533.6,681.4 534.0,682.5 534.5,683.7 534.9,684.8 535.4,685.9 535.8,687.0 536.2,688.1 536.6,689.3 537.1,690.4 537.5,691.5 537.9,692.7 538.3,693.8 538.7,694.9 539.1,696.1 539.5,697.2 539.9,698.3 540.3,699.5 540.7,700.6 541.1,701.7 541.4,702.9 541.8,704.0 542.2,705.2 542.6,706.3 542.9,707.5 543.3,708.6 543.7,709.7 544.1,710.9 544.4,712.0 544.8,713.2 545.2,714.3 545.5,715.5 545.9,716.6 546.3,717.8 546.6,718.9 547.0,720.1 547.4,721.2 547.7,722.4 548.1,723.5 548.5,724.7 548.9,725.8 549.2,726.9 549.6,728.1 550.0,729.2 550.4,730.4 550.7,731.5 551.1,732.7 551.5,733.8 551.9,735.0 552.3,736.1 552.7,737.2 553.1,738.4 553.5,739.5 553.9,740.7 554.3,741.8 554.8,742.9 555.2,744.0 555.6,745.2 556.1,746.3 556.6,747.4 557.0,748.5 557.5,749.6 558.0,750.7 558.6,751.7 559.1,752.8 559.7,753.9 560.3,754.9 560.9,756.0 561.5,757.0 562.1,758.0 562.8,759.0 563.5,760.0 564.3,760.9 565.0,761.9 565.8,762.8 566.6,763.7 567.4,764.5 568.3,765.3 569.2,766.1 570.1,766.8 571.1,767.5 572.1,768.2 573.1,768.8 574.1,769.4 575.2,769.9 576.2,770.5 577.3,771.0 578.4,771.6 579.4,772.1 580.5,772.6 581.6,773.2 582.6,773.8 583.7,774.4 584.7,775.0 585.7,775.6 586.7,776.3 587.7,777.0 588.6,777.7 589.6,778.4 590.6,779.1 591.5,779.8 592.5,780.4 593.5,781.1 594.5,781.7 595.5,782.3 596.5,782.8 597.5,783.3 598.6,783.7 599.7,784.1 600.8,784.4 602.0,784.7 603.2,784.9 604.4,785.0 605.6,785.1 606.8,785.2 608.0,785.3 609.2,785.3 610.5,785.4 611.7,785.4 612.9,785.4 614.1,785.4 615.4,785.5 616.6,785.5 617.8,785.5 619.0,785.6 620.2,785.6 621.4,785.6 622.6,785.6 623.8,785.7 625.0,785.7 626.2,785.7 627.4,785.7 628.6,785.8 629.8,785.8 631.0,785.8 632.2,785.8 633.4,785.8 634.6,785.9 635.8,785.9 637.0,785.9 638.2,785.9 639.4,785.9 640.6,785.9 641.8,785.9 643.0,785.9 644.2,785.9 645.4,785.9 646.6,785.9 647.8,785.9 649.0,785.9 650.2,785.9 651.4,785.9 652.7,785.9 653.9,785.9 655.1,785.9 656.3,785.9 657.5,785.9 658.7,785.9 659.9,785.9 661.1,785.9 662.3,785.9 663.5,785.9 664.7,785.9 665.9,785.9 667.1,785.9 668.4,785.9 669.6,785.9 670.8,785.9 672.0,785.9 673.2,785.9 674.4,785.9 675.6,785.9 676.8,785.9 678.0,785.9 679.2,786.0 680.4,786.0 681.6,786.0 682.8,786.0 684.0,786.0" stroke="#00a0ff"/>
<path d="M409.5,741.9 410.8,742.0 412.1,742.0 413.4,742.0 414.6,741.9 415.8,741.8 417.0,741.6 418.2,741.4 419.3,741.2 420.4,740.8 421.5,740.5 422.6,740.1 423.7,739.6 424.7,739.2 425.8,738.6 426.8,738.1 427.8,737.5 428.8,736.9 429.7,736.2 430.7,735.6 431.6,734.9 432.5,734.1 433.5,733.4 434.4,732.6 435.3,731.8 436.1,731.0 437.0,730.2 437.9,729.3 438.7,728.4 439.6,727.6 440.4,726.7 441.2,725.8 442.1,724.9 442.9,724.0 443.7,723.1 444.5,722.1 445.4,721.2 446.2,720.3 447.0,719.4 447.8,718.5 448.6,717.6 449.4,716.7 450.2,715.7 451.0,714.8 451.8,713.9 452.7,713.0 453.5,712.1 454.2,711.2 455.0,710.3 455.8,709.4 456.6,708.5 457.4,707.6 458.2,706.6 459.0,705.7 459.7,704.8 460.5,703.9 461.3,703.0 462.1,702.0 462.8,701.1 463.6,700.2 464.3,699.3 465.1,698.3 465.8,697.4 466.5,696.5 467.3,695.5 468.0,694.6 468.7,693.6 469.4,692.7 470.2,691.7 470.9,690.8 471.6,689.8 472.3,688.8 472.9,687.9 473.6,686.9 474.3,685.9 475.0,684.9 475.6,683.9 476.3,682.9 477.0,681.9 477.6,680.9 478.3,679.9 478.9,678.9 479.5,677.9 480.2,676.9 480.8,675.8 481.5,674.8 482.1,673.8 482.8,672.8 483.5,671.8 484.1,670.7 484.8,669.7 485.5,668.7 486.1,667.6 486.8,666.6 487.5,665.6 488.2,664.6 488.9,663.6 489.7,662.6 490.4,661.6 491.2,660.6 492.0,659.6 492.8,658.7 493.6,657.8 494.4,656.9 495.3,656.1 496.3,655.3 497.2,654.6 498.2,653.9 499.2,653.3 500.2,652.7 501.3,652.3 502.4,651.9 503.4,651.6 504.5,651.3 505.6,651.2 506.7,651.2 507.7,651.4 508.8,651.6 509.8,651.9 510.9,652.3 511.9,652.9 512.9,653.5 513.8,654.1 514.8,654.9 515.7,655.7 516.6,656.6 517.5,657.5 518.3,658.4 519.1,659.4 519.9,660.4 520.6,661.4 521.4,662.4 522.1,663.4 522.7,664.5 523.3,665.5 523.9,666.6 524.5,667.7 525.1,668.8 525.6,669.8 526.1,670.9 526.6,672.0 527.1,673.1 527.5,674.2 528.0,675.4 528.4,676.5 528.8,677.6 529.2,678.7 529.6,679.9 530.0,681.0 530.3,682.1 530.7,683.3 531.1,684.4 531.4,685.5 531.8,686.7 532.1,687.8 532.5,689.0 532.9,690.1 533.2,691.3 533.6,692.4 533.9,693.6 534.3,694.7 534.7,695.9 535.0,697.0 535.4,698.1 535.8,699.3 536.1,700.4 536.5,701.6 536.9,702.7 537.2,703.9 537.6,705.0 537.9,706.2 538.3,707.3 538.7,708.5 539.0,709.6 539.4,710.8 539.8,711.9 540.1,713.1 540.5,714.2 540.8,715.4 541.2,716.6 541.6,717.7 541.9,718.9 542.3,720.0 542.6,721.2 543.0,722.3 543.3,723.5 543.7,724.6 544.0,725.8 544.3,727.0 544.7,728.1 545.0,729.3 545.3,730.4 545.7,731.6 546.0,732.7 546.3,733.9 546.6,735.1 547.0,736.2 547.3,737.4 547.6,738.6 547.9,739.7 548.2,740.9 548.5,742.0 548.8,743.2 549.2,744.3 549.5,745.5 549.8,746.6 550.2,747.8 550.5,748.9 550.9,750.1 551.3,751.2 551.7,752.3 552.1,753.5 552.5,754.6 553.0,755.7 553.4,756.8 553.9,757.9 554.4,759.0 554.9,760.1 555.5,761.2 556.1,762.3 556.7,763.4 557.3,764.4 557.9,765.4 558.6,766.4 559.3,767.4 560.0,768.4 560.7,769.3 561.5,770.3 562.3,771.1 563.1,772.0 564.0,772.8 564.9,773.6 565.8,774.3 566.7,775.0 567.7,775.7 568.7,776.3 569.7,776.8 570.7,777.4 571.8,777.8 572.9,778.3 574.0,778.7 575.1,779.0 576.3,779.4 577.4,779.7 578.6,780.0 579.8,780.3 581.0,780.6 582.1,780.9 583.3,781.1 584.5,781.4 585.7,781.7 586.9,781.9 588.1,782.2 589.2,782.5 590.4,782.8 591.6,783.1 592.7,783.4 593.9,783.6 595.1,783.9 596.3,784.1 597.4,784.3 598.6,784.5 599.8,784.7 601.0,784.9 602.1,785.1 603.3,785.2 604.5,785.3 605.7,785.5 606.9,785.6 608.1,785.6 609.3,785.7 610.5,785.8 611.7,785.8 612.9,785.9 614.1,785.9 615.3,785.9 616.5,786.0 617.7,786.0 618.9,786.0 620.1,786.0 621.3,786.0 622.5,786.0 623.7,785.9 624.9,785.9 626.2,785.9 627.4,785.9 628.6,785.9 629.8,785.9 631.0,785.8 632.2,785.8 633.4,785.8 634.6,785.8 635.8,785.8 637.0,785.8 638.2,785.8 639.4,785.8 640.7,785.8 641.9,785.8 643.1,785.8 644.3,785.8 645.5,785.8 646.7,785.8 647.9,785.8 649.1,785.8 650.3,785.9 651.5,785.9 652.7,785.9 653.9,785.9 655.1,785.9 656.3,785.9 657.5,785.9 658.7,785.9 659.9,785.9 661.1,786.0 662.3,786.0 663.5,786.0 664.7,786.0 665.9,786.0 667.1,786.0 668.3,786.0 669.5,786.0 670.7,786.0 671.9,786.0 673.1,786.0 674.3,786.0 675.6,786.0 676.8,786.0 678.0,786.0 679.2,786.0 680.4,786.0 681.6,786.0 682.8,786.0 684.0,786.0" stroke="#33ee33"/>
<path d="M409.5,742.6 410.8,742.6 412.1,742.6 413.4,742.5 414.6,742.4 415.8,742.3 417.0,742.1 418.2,741.8 419.4,741.5 420.5,741.2 421.6,740.8 422.7,740.4 423.8,739.9 424.8,739.4 425.8,738.9 426.9,738.3 427.9,737.7 428.8,737.1 429.8,736.4 430.8,735.7 431.7,735.0 432.6,734.3 433.5,733.6 434.4,732.8 435.3,732.0 436.2,731.2 437.1,730.4 438.0,729.5 438.8,728.7 439.7,727.8 440.5,726.9 441.3,726.0 442.2,725.1 443.0,724.2 443.8,723.3 444.6,722.4 445.5,721.5 446.3,720.6 447.1,719.7 447.9,718.8 448.7,717.9 449.5,717.0 450.4,716.1 451.2,715.2 452.0,714.2 452.8,713.3 453.6,712.4 454.4,711.5 455.2,710.6 456.0,709.7 456.8,708.8 457.5,707.9 458.3,707.0 459.1,706.0 459.9,705.1 460.7,704.2 461.4,703.3 462.2,702.4 463.0,701.4 463.7,700.5 464.5,699.6 465.3,698.6 466.0,697.7 466.7,696.8 467.5,695.8 468.2,694.9 468.9,693.9 469.7,693.0 470.4,692.0 471.1,691.1 471.8,690.1 472.5,689.1 473.2,688.2 473.9,687.2 474.6,686.2 475.3,685.2 475.9,684.2 476.6,683.2 477.3,682.2 477.9,681.2 478.6,680.2 479.2,679.2 479.8,678.2 480.5,677.1 481.1,676.1 481.8,675.1 482.4,674.1 483.0,673.0 483.7,672.0 484.3,671.0 485.0,670.0 485.7,669.0 486.3,667.9 487.0,666.9 487.7,665.9 488.4,664.9 489.1,664.0 489.8,663.0 490.6,662.0 491.3,661.0 492.1,660.1 492.9,659.1 493.8,658.2 494.6,657.3 495.5,656.5 496.5,655.6 497.5,654.9 498.5,654.1 499.6,653.5 500.7,652.9 501.8,652.5 502.9,652.2 504.0,652.1 505.1,652.1 506.2,652.3 507.2,652.6 508.2,653.0 509.2,653.5 510.2,654.2 511.1,654.9 512.0,655.6 512.8,656.5 513.7,657.3 514.4,658.3 515.2,659.2 515.9,660.1 516.6,661.1 517.2,662.1 517.8,663.2 518.4,664.2 519.0,665.3 519.5,666.4 520.0,667.5 520.5,668.6 521.0,669.7 521.5,670.9 521.9,672.0 522.4,673.2 522.8,674.3 523.2,675.5 523.7,676.7 524.1,677.8 524.5,679.0 524.9,680.1 525.3,681.3 525.7,682.4 526.1,683.6 526.6,684.7 527.0,685.8 527.4,687.0 527.8,688.1 528.3,689.2 528.7,690.3 529.1,691.5 529.5,692.6 529.9,693.7 530.4,694.8 530.8,695.9 531.2,697.0 531.6,698.1 532.0,699.2 532.4,700.4 532.8,701.5 533.2,702.6 533.6,703.7 534.0,704.9 534.4,706.0 534.8,707.1 535.2,708.3 535.5,709.4 535.9,710.6 536.2,711.7 536.6,712.9 536.9,714.0 537.3,715.2 537.6,716.4 537.9,717.5 538.3,718.7 538.6,719.9 538.9,721.1 539.2,722.2 539.6,723.4 539.9,724.6 540.2,725.8 540.5,727.0 540.8,728.1 541.1,729.3 541.4,730.5 541.7,731.7 542.0,732.9 542.3,734.0 542.6,735.2 542.9,736.4 543.2,737.6 543.5,738.7 543.8,739.9 544.1,741.1 544.4,742.2 544.7,743.4 545.0,744.6 545.3,745.7 545.6,746.9 545.9,748.0 546.2,749.2 546.5,750.3 546.8,751.4 547.1,752.6 547.4,753.7 547.7,754.8 548.1,755.9 548.4,757.0 548.7,758.1 549.0,759.3 549.4,760.4 549.8,761.5 550.1,762.7 550.5,763.9 550.9,765.1 551.3,766.3 551.7,767.5 552.2,768.8 552.7,770.0 553.1,771.3 553.7,772.5 554.2,773.7 554.8,774.8 555.4,775.9 556.1,777.0 556.8,778.0 557.5,778.9 558.3,779.7 559.2,780.5 560.0,781.2 560.9,781.8 561.9,782.4 562.9,782.9 563.9,783.3 564.9,783.7 566.0,784.1 567.1,784.4 568.2,784.7 569.3,784.9 570.5,785.1 571.6,785.2 572.8,785.4 574.0,785.5 575.2,785.6 576.4,785.6 577.7,785.7 578.9,785.7 580.1,785.8 581.3,785.8 582.6,785.8 583.8,785.9 585.0,785.9 586.2,785.9 587.5,786.0 588.7,786.0 589.9,786.0 591.1,786.0 592.3,786.0 593.6,786.1 594.8,786.1 596.0,786.1 597.2,786.1 598.4,786.1 599.6,786.2 600.8,786.2 602.1,786.2 603.3,786.2 604.5,786.2 605.7,786.2 606.9,786.2 608.1,786.2 609.3,786.2 610.5,786.2 611.7,786.2 612.9,786.2 614.1,786.2 615.3,786.2 616.5,786.2 617.7,786.2 619.0,786.2 620.2,786.2 621.4,786.2 622.6,786.2 623.8,786.2 625.0,786.2 626.2,786.2 627.4,786.2 628.6,786.2 629.8,786.2 631.0,786.2 632.2,786.2 633.4,786.2 634.6,786.2 635.8,786.2 637.0,786.2 638.2,786.2 639.4,786.2 640.6,786.2 641.8,786.2 643.0,786.2 644.2,786.2 645.4,786.2 646.6,786.2 647.8,786.1 649.0,786.1 650.2,786.1 651.4,786.1 652.6,786.1 653.8,786.1 655.0,786.1 656.2,786.1 657.4,786.1 658.6,786.1 659.8,786.1 661.0,786.1 662.2,786.1 663.4,786.1 664.6,786.1 665.8,786.1 667.0,786.1 668.2,786.2 669.5,786.2 670.7,786.2 671.9,786.2 673.1,786.2 674.3,786.2 675.5,786.2 676.7,786.2 677.9,786.2 679.1,786.2 680.4,786.3 681.6,786.3 682.8,786.3 684.0,786.3" stroke="#800080"/>
<path d="M409.5,742.9 410.8,742.9 412.1,742.8 413.4,742.7 414.6,742.5 415.8,742.3 417.0,742.1 418.2,741.8 419.3,741.5 420.5,741.1 421.6,740.7 422.6,740.2 423.7,739.8 424.7,739.2 425.8,738.7 426.8,738.1 427.8,737.5 428.7,736.9 429.7,736.2 430.6,735.5 431.6,734.8 432.5,734.0 433.4,733.3 434.3,732.5 435.2,731.7 436.0,730.9 436.9,730.0 437.8,729.2 438.6,728.3 439.5,727.5 440.3,726.6 441.1,725.7 441.9,724.8 442.8,723.9 443.6,723.0 444.4,722.1 445.2,721.2 446.0,720.2 446.9,719.3 447.7,718.4 448.5,717.5 449.3,716.6 450.1,715.7 450.9,714.8 451.7,713.9 452.5,713.0 453.4,712.1 454.2,711.2 455.0,710.2 455.8,709.3 456.6,708.4 457.4,707.5 458.2,706.6 459.0,705.7 459.7,704.8 460.5,703.8 461.3,702.9 462.1,702.0 462.9,701.1 463.6,700.1 464.4,699.2 465.2,698.3 465.9,697.4 466.7,696.4 467.4,695.5 468.1,694.5 468.9,693.6 469.6,692.6 470.3,691.7 471.0,690.7 471.7,689.8 472.4,688.8 473.1,687.8 473.8,686.9 474.5,685.9 475.2,684.9 475.8,683.9 476.5,682.9 477.1,681.9 477.8,680.9 478.4,679.9 479.0,678.9 479.7,677.9 480.3,676.9 480.9,675.8 481.5,674.8 482.2,673.8 482.8,672.8 483.4,671.7 484.1,670.7 484.7,669.7 485.4,668.7 486.1,667.6 486.8,666.6 487.5,665.6 488.2,664.6 489.0,663.6 489.8,662.6 490.6,661.6 491.4,660.6 492.2,659.6 493.1,658.7 494.0,657.7 494.9,656.9 495.8,656.1 496.8,655.3 497.8,654.6 498.7,654.0 499.8,653.5 500.8,653.1 501.8,652.8 502.9,652.7 504.0,652.6 505.0,652.7 506.1,653.0 507.2,653.3 508.2,653.8 509.2,654.4 510.2,655.1 511.1,655.9 512.0,656.7 512.8,657.6 513.6,658.5 514.4,659.4 515.2,660.4 515.9,661.3 516.6,662.3 517.2,663.3 517.8,664.4 518.4,665.4 519.0,666.5 519.6,667.5 520.1,668.6 520.6,669.7 521.1,670.8 521.6,672.0 522.0,673.1 522.5,674.2 522.9,675.4 523.3,676.5 523.7,677.7 524.1,678.8 524.5,680.0 524.9,681.1 525.3,682.3 525.7,683.5 526.1,684.6 526.5,685.8 526.9,686.9 527.3,688.1 527.7,689.2 528.1,690.4 528.5,691.5 528.9,692.6 529.4,693.7 529.8,694.9 530.2,696.0 530.6,697.1 531.0,698.2 531.4,699.4 531.8,700.5 532.3,701.6 532.7,702.7 533.1,703.9 533.5,705.0 533.9,706.1 534.2,707.2 534.6,708.4 535.0,709.5 535.4,710.7 535.7,711.8 536.1,712.9 536.4,714.1 536.8,715.3 537.1,716.4 537.5,717.6 537.8,718.7 538.1,719.9 538.5,721.1 538.8,722.2 539.1,723.4 539.4,724.6 539.7,725.8 540.0,726.9 540.3,728.1 540.6,729.3 540.9,730.5 541.2,731.6 541.5,732.8 541.8,734.0 542.1,735.2 542.4,736.4 542.7,737.5 543.0,738.7 543.3,739.9 543.6,741.1 543.9,742.2 544.2,743.4 544.5,744.6 544.8,745.7 545.1,746.9 545.4,748.1 545.7,749.2 546.0,750.4 546.3,751.5 546.6,752.7 547.0,753.8 547.3,755.0 547.6,756.1 548.0,757.2 548.3,758.4 548.6,759.5 549.0,760.6 549.4,761.8 549.7,762.9 550.1,764.0 550.5,765.2 550.9,766.3 551.4,767.5 551.8,768.7 552.3,769.8 552.8,771.0 553.3,772.2 553.9,773.3 554.5,774.4 555.1,775.5 555.7,776.6 556.4,777.6 557.2,778.5 558.0,779.4 558.8,780.2 559.7,780.9 560.6,781.5 561.6,782.1 562.6,782.6 563.7,783.0 564.7,783.4 565.9,783.8 567.0,784.1 568.1,784.3 569.3,784.6 570.5,784.7 571.7,784.9 572.9,785.1 574.1,785.2 575.3,785.3 576.6,785.4 577.8,785.5 579.0,785.6 580.2,785.7 581.4,785.8 582.6,785.8 583.8,785.9 585.1,786.0 586.3,786.0 587.5,786.1 588.7,786.1 589.9,786.2 591.1,786.2 592.3,786.2 593.5,786.2 594.7,786.3 595.9,786.3 597.1,786.3 598.3,786.3 599.5,786.3 600.8,786.3 602.0,786.3 603.2,786.3 604.4,786.3 605.6,786.3 606.8,786.2 608.0,786.2 609.2,786.2 610.4,786.2 611.6,786.2 612.8,786.2 614.0,786.1 615.2,786.1 616.4,786.1 617.6,786.1 618.8,786.1 620.0,786.0 621.2,786.0 622.4,786.0 623.6,786.0 624.8,786.0 626.1,786.0 627.3,785.9 628.5,785.9 629.7,785.9 630.9,785.9 632.1,785.9 633.3,785.9 634.5,785.9 635.7,785.9 636.9,785.9 638.1,786.0 639.3,786.0 640.5,786.0 641.7,786.0 642.9,786.0 644.2,786.0 645.4,786.0 646.6,786.1 647.8,786.1 649.0,786.1 650.2,786.1 651.4,786.1 652.6,786.2 653.8,786.2 655.0,786.2 656.2,786.2 657.5,786.2 658.7,786.3 659.9,786.3 661.1,786.3 662.3,786.3 663.5,786.3 664.7,786.3 665.9,786.4 667.1,786.4 668.3,786.4 669.5,786.4 670.7,786.4 671.9,786.4 673.2,786.4 674.4,786.4 675.6,786.4 676.8,786.4 678.0,786.4 679.2,786.4 680.4,786.4 681.6,786.3 682.8,786.3 684.0,786.3" stroke="#006400"/>
</g>
<rect x="408.60" y="585.40" width="275.60" height="203.40" fill="none" stroke="#000" stroke-width="1.6"/>
<line x1="404.60" y1="786.20" x2="408.60" y2="786.20" stroke="#000" stroke-width="1.5"/>
<text x="400.10" y="790.40" font-size="12.00" text-anchor="end" fill="#000" >0.0</text>
<line x1="404.60" y1="724.60" x2="408.60" y2="724.60" stroke="#000" stroke-width="1.5"/>
<text x="400.10" y="728.80" font-size="12.00" text-anchor="end" fill="#000" >0.2</text>
<line x1="404.60" y1="663.00" x2="408.60" y2="663.00" stroke="#000" stroke-width="1.5"/>
<text x="400.10" y="667.20" font-size="12.00" text-anchor="end" fill="#000" >0.4</text>
<line x1="404.60" y1="601.40" x2="408.60" y2="601.40" stroke="#000" stroke-width="1.5"/>
<text x="400.10" y="605.60" font-size="12.00" text-anchor="end" fill="#000" >0.6</text>
<line x1="406.30" y1="755.40" x2="408.60" y2="755.40" stroke="#000" stroke-width="1.5"/>
<line x1="406.30" y1="693.80" x2="408.60" y2="693.80" stroke="#000" stroke-width="1.5"/>
<line x1="406.30" y1="632.20" x2="408.60" y2="632.20" stroke="#000" stroke-width="1.5"/>
<line x1="443.03" y1="788.80" x2="443.03" y2="792.80" stroke="#000" stroke-width="1.5"/>
<text x="443.03" y="806.70" font-size="12.00" text-anchor="middle" fill="#000" >400</text>
<line x1="511.88" y1="788.80" x2="511.88" y2="792.80" stroke="#000" stroke-width="1.5"/>
<text x="511.88" y="806.70" font-size="12.00" text-anchor="middle" fill="#000" >500</text>
<line x1="580.73" y1="788.80" x2="580.73" y2="792.80" stroke="#000" stroke-width="1.5"/>
<text x="580.73" y="806.70" font-size="12.00" text-anchor="middle" fill="#000" >600</text>
<line x1="649.58" y1="788.80" x2="649.58" y2="792.80" stroke="#000" stroke-width="1.5"/>
<text x="649.58" y="806.70" font-size="12.00" text-anchor="middle" fill="#000" >700</text>
<line x1="477.45" y1="788.80" x2="477.45" y2="791.10" stroke="#000" stroke-width="1.5"/>
<line x1="546.30" y1="788.80" x2="546.30" y2="791.10" stroke="#000" stroke-width="1.5"/>
<line x1="615.15" y1="788.80" x2="615.15" y2="791.10" stroke="#000" stroke-width="1.5"/>
<text x="546.40" y="823.20" font-size="11.50" text-anchor="middle" fill="#000" >Wavelength (nm)</text>
<text transform="translate(373.50,688.00) rotate(-90)" font-size="11.5" text-anchor="middle">Absorbance (a.u.)</text>
<text x="462.20" y="606.60" font-size="13.20" text-anchor="start" fill="#ff0000" >25 °C</text>
<line x1="623.60" y1="595.30" x2="646.00" y2="595.30" stroke="#000000" stroke-width="1.7"/>
<text x="650.60" y="598.90" font-size="10.00" text-anchor="start" fill="#000" >20 °C</text>
<line x1="623.60" y1="609.60" x2="646.00" y2="609.60" stroke="#ff0000" stroke-width="1.7"/>
<text x="650.60" y="613.20" font-size="10.00" text-anchor="start" fill="#000" >30 °C</text>
<line x1="623.60" y1="623.90" x2="646.00" y2="623.90" stroke="#0000ff" stroke-width="1.7"/>
<text x="650.60" y="627.50" font-size="10.00" text-anchor="start" fill="#000" >40 °C</text>
<line x1="623.60" y1="638.20" x2="646.00" y2="638.20" stroke="#ff8000" stroke-width="1.7"/>
<text x="650.60" y="641.80" font-size="10.00" text-anchor="start" fill="#000" >50 °C</text>
<line x1="623.60" y1="652.50" x2="646.00" y2="652.50" stroke="#8000ff" stroke-width="1.7"/>
<text x="650.60" y="656.10" font-size="10.00" text-anchor="start" fill="#000" >60 °C</text>
<line x1="623.60" y1="666.80" x2="646.00" y2="666.80" stroke="#00a0ff" stroke-width="1.7"/>
<text x="650.60" y="670.40" font-size="10.00" text-anchor="start" fill="#000" >70 °C</text>
<line x1="623.60" y1="681.10" x2="646.00" y2="681.10" stroke="#33ee33" stroke-width="1.7"/>
<text x="650.60" y="684.70" font-size="10.00" text-anchor="start" fill="#000" >80 °C</text>
<line x1="623.60" y1="695.40" x2="646.00" y2="695.40" stroke="#800080" stroke-width="1.7"/>
<text x="650.60" y="699.00" font-size="10.00" text-anchor="start" fill="#000" >90 °C</text>
<line x1="623.60" y1="709.70" x2="646.00" y2="709.70" stroke="#006400" stroke-width="1.7"/>
<text x="650.60" y="713.30" font-size="10.00" text-anchor="start" fill="#000" >100 °C</text>
<rect x="420.40" y="762.10" width="60.00" height="23.20" fill="#000"/>
<rect x="417.40" y="759.10" width="60.00" height="23.20" fill="#fff" stroke="#888" stroke-width="0.8"/>
<text x="447.40" y="776.50" font-size="13.50" text-anchor="middle" fill="#000" >PBFTz</text>
</svg>
</body></html>
